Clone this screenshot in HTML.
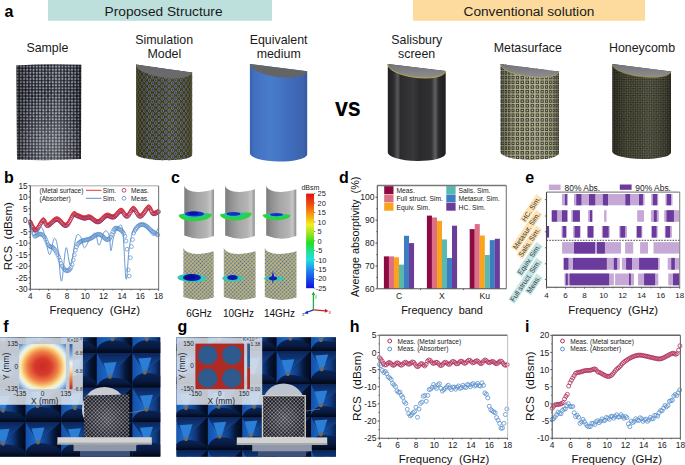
<!DOCTYPE html>
<html><head><meta charset="utf-8"><title>figure</title>
<style>html,body{margin:0;padding:0;background:#fff;width:685px;height:465px;overflow:hidden}svg{display:block}text{font-family:"Liberation Sans",sans-serif;white-space:pre}</style>
</head><body>
<svg width="685" height="465" viewBox="0 0 685 465">
<defs>
<pattern id="pSample" width="3.2" height="3.1" patternUnits="userSpaceOnUse">
  <rect width="3.2" height="3.1" fill="#16161d"/>
  <circle cx="1.6" cy="1.55" r="1.1" fill="#9a9eac"/>
</pattern>
<pattern id="pSampleDiag" width="5.2" height="5.2" patternUnits="userSpaceOnUse" patternTransform="rotate(45)">
  <rect x="0" y="0" width="5.2" height="0.6" fill="#8088a0" opacity="0.3"/>
  <rect x="0" y="0" width="0.6" height="5.2" fill="#8088a0" opacity="0.3"/>
</pattern>
<pattern id="pSim" width="3.3" height="5.8" patternUnits="userSpaceOnUse">
  <rect width="3.3" height="5.8" fill="#26261c"/>
  <circle cx="1.65" cy="1.45" r="1.25" fill="#1e3c98" stroke="#a89a34" stroke-width="0.4"/>
  <circle cx="0" cy="4.35" r="1.25" fill="#1e3c98" stroke="#a89a34" stroke-width="0.4"/>
  <circle cx="3.3" cy="4.35" r="1.25" fill="#1e3c98" stroke="#a89a34" stroke-width="0.4"/>
</pattern>
<pattern id="pMeta" width="5.0" height="4.7" patternUnits="userSpaceOnUse">
  <rect width="5.0" height="4.7" fill="#b8b690"/>
  <rect x="0.7" y="0.6" width="3.6" height="3.5" fill="#3e4038"/>
  <rect x="1.85" y="1.7" width="1.3" height="1.3" fill="#c0be98"/>
</pattern>
<pattern id="pHoney" width="2.5" height="2.5" patternUnits="userSpaceOnUse" patternTransform="rotate(45)">
  <rect width="2.5" height="2.5" fill="#24241c"/>
  <rect x="0" y="0" width="1.1" height="1.1" fill="#5e6272"/>
  <rect x="1.25" y="1.25" width="1.15" height="1.15" fill="#7c7836"/>
</pattern>
<radialGradient id="gSampHi" cx="0.5" cy="0.85" r="0.55">
  <stop offset="0" stop-color="#fff" stop-opacity="0.2"/>
  <stop offset="1" stop-color="#fff" stop-opacity="0"/>
</radialGradient>
<linearGradient id="gTopFace" x1="0" x2="0" y1="0" y2="1">
  <stop offset="0" stop-color="#747478"/>
  <stop offset="1" stop-color="#8e8e92"/>
</linearGradient>
<linearGradient id="gBlue" x1="0" x2="1" y1="0" y2="0">
  <stop offset="0" stop-color="#3a62b0"/>
  <stop offset="0.08" stop-color="#4270c0"/>
  <stop offset="0.35" stop-color="#4a7ccc"/>
  <stop offset="0.7" stop-color="#3f6cbc"/>
  <stop offset="0.92" stop-color="#3d64ae"/>
  <stop offset="1" stop-color="#34589c"/>
</linearGradient>
<linearGradient id="gSal" x1="0" x2="1" y1="0" y2="0">
  <stop offset="0" stop-color="#202022"/>
  <stop offset="0.1" stop-color="#2c2c2e"/>
  <stop offset="0.17" stop-color="#58585c"/>
  <stop offset="0.22" stop-color="#2c2c2e"/>
  <stop offset="0.45" stop-color="#38383a"/>
  <stop offset="0.55" stop-color="#2a2a2c"/>
  <stop offset="0.75" stop-color="#303032"/>
  <stop offset="0.82" stop-color="#606064"/>
  <stop offset="0.88" stop-color="#2a2a2c"/>
  <stop offset="1" stop-color="#1e1e20"/>
</linearGradient>
<linearGradient id="gShade" x1="0" x2="1" y1="0" y2="0">
  <stop offset="0" stop-color="#000" stop-opacity="0.35"/>
  <stop offset="0.25" stop-color="#000" stop-opacity="0.0"/>
  <stop offset="0.6" stop-color="#fff" stop-opacity="0.06"/>
  <stop offset="0.9" stop-color="#000" stop-opacity="0.1"/>
  <stop offset="1" stop-color="#000" stop-opacity="0.35"/>
</linearGradient>


<linearGradient id="gMetal" x1="0" x2="1" y1="0" y2="0">
  <stop offset="0" stop-color="#7c7c7c"/>
  <stop offset="0.2" stop-color="#929292"/>
  <stop offset="0.45" stop-color="#a6a6a6"/>
  <stop offset="0.75" stop-color="#b4b4b4"/>
  <stop offset="0.88" stop-color="#c6c6c6"/>
  <stop offset="1" stop-color="#8c8c8c"/>
</linearGradient>
<pattern id="pAbs" width="2.7" height="2.7" patternUnits="userSpaceOnUse" patternTransform="rotate(45)">
  <rect width="2.7" height="2.7" fill="#c6bd72"/>
  <circle cx="1.35" cy="1.35" r="0.8" fill="#3e5cb4"/>
  <circle cx="0" cy="0" r="0.35" fill="#8a8e8a"/>
</pattern>
<radialGradient id="gFieldG" cx="0.5" cy="0.5" r="0.5">
  <stop offset="0" stop-color="#1020c0"/>
  <stop offset="0.45" stop-color="#1848d8"/>
  <stop offset="0.65" stop-color="#20a8d0"/>
  <stop offset="0.8" stop-color="#28d870"/>
  <stop offset="1" stop-color="#30e040"/>
</radialGradient>
<radialGradient id="gFieldC" cx="0.5" cy="0.5" r="0.5">
  <stop offset="0" stop-color="#0a10b0"/>
  <stop offset="0.5" stop-color="#1430c8"/>
  <stop offset="0.75" stop-color="#20a8d8"/>
  <stop offset="1" stop-color="#30d8c0"/>
</radialGradient>
<linearGradient id="gJet" x1="0" x2="0" y1="0" y2="1">
  <stop offset="0" stop-color="#e01010"/>
  <stop offset="0.12" stop-color="#f05010"/>
  <stop offset="0.25" stop-color="#f8b010"/>
  <stop offset="0.33" stop-color="#f0f020"/>
  <stop offset="0.45" stop-color="#80e020"/>
  <stop offset="0.52" stop-color="#20e020"/>
  <stop offset="0.62" stop-color="#20e0a0"/>
  <stop offset="0.7" stop-color="#20e0e0"/>
  <stop offset="0.82" stop-color="#2080f0"/>
  <stop offset="1" stop-color="#1010e0"/>
</linearGradient>


<linearGradient id="pyLeft" x1="0" x2="1" y1="0" y2="0">
  <stop offset="0" stop-color="#1450a8"/>
  <stop offset="1" stop-color="#1e6ccc"/>
</linearGradient>
<linearGradient id="pyRight" x1="0" x2="1" y1="0" y2="0">
  <stop offset="0" stop-color="#1a5ab0"/>
  <stop offset="0.4" stop-color="#103c84"/>
  <stop offset="0.7" stop-color="#061738"/>
  <stop offset="1" stop-color="#020818"/>
</linearGradient>
<linearGradient id="pyBot2" x1="0" x2="0" y1="0" y2="1">
  <stop offset="0" stop-color="#0c2452"/>
  <stop offset="0.55" stop-color="#081a42"/>
  <stop offset="1" stop-color="#020814"/>
</linearGradient>
<linearGradient id="pyTop" x1="0" x2="0" y1="0" y2="1">
  <stop offset="0" stop-color="#0a2458"/>
  <stop offset="1" stop-color="#1a5ab4"/>
</linearGradient>
<linearGradient id="pyBot" x1="0" x2="0" y1="0" y2="1">
  <stop offset="0" stop-color="#0c2656"/>
  <stop offset="0.5" stop-color="#081a44"/>
  <stop offset="1" stop-color="#020814"/>
</linearGradient>
<radialGradient id="gHeatF" cx="0.5" cy="0.5" r="0.72">
  <stop offset="0" stop-color="#cc2a26"/>
  <stop offset="0.25" stop-color="#d63a2c"/>
  <stop offset="0.45" stop-color="#ee7a44"/>
  <stop offset="0.58" stop-color="#f8c070"/>
  <stop offset="0.66" stop-color="#f8ecb0"/>
  <stop offset="0.74" stop-color="#e8f2f0"/>
  <stop offset="0.84" stop-color="#a8c8e4"/>
  <stop offset="1" stop-color="#3868b0"/>
</radialGradient>
<linearGradient id="gCbF" x1="0" x2="0" y1="0" y2="1">
  <stop offset="0" stop-color="#2a5a9e"/>
  <stop offset="0.25" stop-color="#86b4dc"/>
  <stop offset="0.42" stop-color="#f4f4f0"/>
  <stop offset="0.6" stop-color="#f8d890"/>
  <stop offset="0.75" stop-color="#f08a4c"/>
  <stop offset="1" stop-color="#c41e1e"/>
</linearGradient>
<pattern id="pLattice" width="2.6" height="2.6" patternUnits="userSpaceOnUse" patternTransform="rotate(45)">
  <rect width="2.6" height="2.6" fill="#1c1c24"/>
  <rect width="2.6" height="0.6" fill="#767680"/>
  <rect width="0.6" height="2.6" fill="#767680"/>
  <circle cx="0.3" cy="0.3" r="0.55" fill="#b0b0b8"/>
</pattern>
<radialGradient id="gBlockHi" cx="0.5" cy="0.55" r="0.5">
  <stop offset="0" stop-color="#fff" stop-opacity="0.18"/>
  <stop offset="1" stop-color="#fff" stop-opacity="0"/>
</radialGradient>
</defs>
<text x="4.5" y="16.7" font-size="16" font-weight="bold" fill="#000">a</text>
<rect x="48" y="0" width="224" height="20.8" fill="#bde0dd"/>
<text x="104.6" y="15.8" font-size="13.7" fill="#1a1a1a">Proposed Structure</text>
<rect x="413" y="0" width="232" height="20.8" fill="#fddb9e"/>
<text x="463.5" y="15.8" font-size="13.7" fill="#1a1a1a">Conventional solution</text>
<text x="47.4" y="52" font-size="12.4" text-anchor="middle" fill="#1a1a1a">Sample</text>
<text x="164.2" y="44" font-size="12.4" text-anchor="middle" fill="#1a1a1a">Simulation</text>
<text x="164.3" y="58.3" font-size="12.4" text-anchor="middle" fill="#1a1a1a">Model</text>
<text x="278.6" y="44" font-size="12.4" text-anchor="middle" fill="#1a1a1a">Equivalent</text>
<text x="278.7" y="58.3" font-size="12.4" text-anchor="middle" fill="#1a1a1a">medium</text>
<text x="416.8" y="44" font-size="12.4" text-anchor="middle" fill="#1a1a1a">Salisbury</text>
<text x="416.6" y="58.3" font-size="12.4" text-anchor="middle" fill="#1a1a1a">screen</text>
<text x="527.8" y="51.9" font-size="12.4" text-anchor="middle" fill="#1a1a1a">Metasurface</text>
<text x="642" y="51.9" font-size="12.4" text-anchor="middle" fill="#1a1a1a">Honeycomb</text>
<g transform="translate(334.9,116.3) scale(0.9,1)"><text x="0" y="0" font-size="25.9" font-weight="bold" fill="#000">vs</text></g>
<path d="M16.4,65.5 Q48,63.5 81.3,64.8 L81,159 Q48,161 17,159.5 Z" fill="url(#pSample)"/>
<path d="M16.4,65.5 Q48,63.5 81.3,64.8 L81,159 Q48,161 17,159.5 Z" fill="url(#pSampleDiag)"/>
<path d="M16.4,65.5 Q48,63.5 81.3,64.8 L81,159 Q48,161 17,159.5 Z" fill="url(#gShade)"/>
<path d="M16.4,65.5 Q48,63.5 81.3,64.8 L81,159 Q48,161 17,159.5 Z" fill="url(#gSampHi)"/>
<clipPath id="cb1"><path d="M136,64.5 L192.2,72.5 L192.2,155 A28.1,5.8 1.02 0 1 136,154 Z"/></clipPath>
<g clip-path="url(#cb1)"><path d="M136,64.5 L192.2,72.5 L192.2,155 A28.1,5.8 1.02 0 1 136,154 Z" fill="#36362a"/>
<g fill="#1c3a96" stroke="#b8a83a" stroke-width="0.5"><ellipse cx="136.05" cy="62" rx="0.31" ry="1.65"/><ellipse cx="136.05" cy="68.1" rx="0.31" ry="1.65"/><ellipse cx="136.05" cy="74.2" rx="0.31" ry="1.65"/><ellipse cx="136.05" cy="80.3" rx="0.31" ry="1.65"/><ellipse cx="136.05" cy="86.4" rx="0.31" ry="1.65"/><ellipse cx="136.05" cy="92.5" rx="0.31" ry="1.65"/><ellipse cx="136.05" cy="98.6" rx="0.31" ry="1.65"/><ellipse cx="136.05" cy="104.7" rx="0.31" ry="1.65"/><ellipse cx="136.05" cy="110.8" rx="0.31" ry="1.65"/><ellipse cx="136.05" cy="116.9" rx="0.31" ry="1.65"/><ellipse cx="136.05" cy="123" rx="0.31" ry="1.65"/><ellipse cx="136.05" cy="129.1" rx="0.31" ry="1.65"/><ellipse cx="136.05" cy="135.2" rx="0.31" ry="1.65"/><ellipse cx="136.05" cy="141.3" rx="0.31" ry="1.65"/><ellipse cx="136.05" cy="147.4" rx="0.31" ry="1.65"/><ellipse cx="136.05" cy="153.5" rx="0.31" ry="1.65"/><ellipse cx="136.05" cy="159.6" rx="0.31" ry="1.65"/><ellipse cx="136.46" cy="65.05" rx="0.31" ry="1.65"/><ellipse cx="136.46" cy="71.15" rx="0.31" ry="1.65"/><ellipse cx="136.46" cy="77.25" rx="0.31" ry="1.65"/><ellipse cx="136.46" cy="83.35" rx="0.31" ry="1.65"/><ellipse cx="136.46" cy="89.45" rx="0.31" ry="1.65"/><ellipse cx="136.46" cy="95.55" rx="0.31" ry="1.65"/><ellipse cx="136.46" cy="101.65" rx="0.31" ry="1.65"/><ellipse cx="136.46" cy="107.75" rx="0.31" ry="1.65"/><ellipse cx="136.46" cy="113.85" rx="0.31" ry="1.65"/><ellipse cx="136.46" cy="119.95" rx="0.31" ry="1.65"/><ellipse cx="136.46" cy="126.05" rx="0.31" ry="1.65"/><ellipse cx="136.46" cy="132.15" rx="0.31" ry="1.65"/><ellipse cx="136.46" cy="138.25" rx="0.31" ry="1.65"/><ellipse cx="136.46" cy="144.35" rx="0.31" ry="1.65"/><ellipse cx="136.46" cy="150.45" rx="0.31" ry="1.65"/><ellipse cx="136.46" cy="156.55" rx="0.31" ry="1.65"/><ellipse cx="136.46" cy="162.65" rx="0.31" ry="1.65"/><ellipse cx="137.27" cy="62" rx="0.37" ry="1.65"/><ellipse cx="137.27" cy="68.1" rx="0.37" ry="1.65"/><ellipse cx="137.27" cy="74.2" rx="0.37" ry="1.65"/><ellipse cx="137.27" cy="80.3" rx="0.37" ry="1.65"/><ellipse cx="137.27" cy="86.4" rx="0.37" ry="1.65"/><ellipse cx="137.27" cy="92.5" rx="0.37" ry="1.65"/><ellipse cx="137.27" cy="98.6" rx="0.37" ry="1.65"/><ellipse cx="137.27" cy="104.7" rx="0.37" ry="1.65"/><ellipse cx="137.27" cy="110.8" rx="0.37" ry="1.65"/><ellipse cx="137.27" cy="116.9" rx="0.37" ry="1.65"/><ellipse cx="137.27" cy="123" rx="0.37" ry="1.65"/><ellipse cx="137.27" cy="129.1" rx="0.37" ry="1.65"/><ellipse cx="137.27" cy="135.2" rx="0.37" ry="1.65"/><ellipse cx="137.27" cy="141.3" rx="0.37" ry="1.65"/><ellipse cx="137.27" cy="147.4" rx="0.37" ry="1.65"/><ellipse cx="137.27" cy="153.5" rx="0.37" ry="1.65"/><ellipse cx="137.27" cy="159.6" rx="0.37" ry="1.65"/><ellipse cx="138.48" cy="65.05" rx="0.51" ry="1.65"/><ellipse cx="138.48" cy="71.15" rx="0.51" ry="1.65"/><ellipse cx="138.48" cy="77.25" rx="0.51" ry="1.65"/><ellipse cx="138.48" cy="83.35" rx="0.51" ry="1.65"/><ellipse cx="138.48" cy="89.45" rx="0.51" ry="1.65"/><ellipse cx="138.48" cy="95.55" rx="0.51" ry="1.65"/><ellipse cx="138.48" cy="101.65" rx="0.51" ry="1.65"/><ellipse cx="138.48" cy="107.75" rx="0.51" ry="1.65"/><ellipse cx="138.48" cy="113.85" rx="0.51" ry="1.65"/><ellipse cx="138.48" cy="119.95" rx="0.51" ry="1.65"/><ellipse cx="138.48" cy="126.05" rx="0.51" ry="1.65"/><ellipse cx="138.48" cy="132.15" rx="0.51" ry="1.65"/><ellipse cx="138.48" cy="138.25" rx="0.51" ry="1.65"/><ellipse cx="138.48" cy="144.35" rx="0.51" ry="1.65"/><ellipse cx="138.48" cy="150.45" rx="0.51" ry="1.65"/><ellipse cx="138.48" cy="156.55" rx="0.51" ry="1.65"/><ellipse cx="138.48" cy="162.65" rx="0.51" ry="1.65"/><ellipse cx="140.05" cy="62" rx="0.65" ry="1.65"/><ellipse cx="140.05" cy="68.1" rx="0.65" ry="1.65"/><ellipse cx="140.05" cy="74.2" rx="0.65" ry="1.65"/><ellipse cx="140.05" cy="80.3" rx="0.65" ry="1.65"/><ellipse cx="140.05" cy="86.4" rx="0.65" ry="1.65"/><ellipse cx="140.05" cy="92.5" rx="0.65" ry="1.65"/><ellipse cx="140.05" cy="98.6" rx="0.65" ry="1.65"/><ellipse cx="140.05" cy="104.7" rx="0.65" ry="1.65"/><ellipse cx="140.05" cy="110.8" rx="0.65" ry="1.65"/><ellipse cx="140.05" cy="116.9" rx="0.65" ry="1.65"/><ellipse cx="140.05" cy="123" rx="0.65" ry="1.65"/><ellipse cx="140.05" cy="129.1" rx="0.65" ry="1.65"/><ellipse cx="140.05" cy="135.2" rx="0.65" ry="1.65"/><ellipse cx="140.05" cy="141.3" rx="0.65" ry="1.65"/><ellipse cx="140.05" cy="147.4" rx="0.65" ry="1.65"/><ellipse cx="140.05" cy="153.5" rx="0.65" ry="1.65"/><ellipse cx="140.05" cy="159.6" rx="0.65" ry="1.65"/><ellipse cx="141.98" cy="65.05" rx="0.77" ry="1.65"/><ellipse cx="141.98" cy="71.15" rx="0.77" ry="1.65"/><ellipse cx="141.98" cy="77.25" rx="0.77" ry="1.65"/><ellipse cx="141.98" cy="83.35" rx="0.77" ry="1.65"/><ellipse cx="141.98" cy="89.45" rx="0.77" ry="1.65"/><ellipse cx="141.98" cy="95.55" rx="0.77" ry="1.65"/><ellipse cx="141.98" cy="101.65" rx="0.77" ry="1.65"/><ellipse cx="141.98" cy="107.75" rx="0.77" ry="1.65"/><ellipse cx="141.98" cy="113.85" rx="0.77" ry="1.65"/><ellipse cx="141.98" cy="119.95" rx="0.77" ry="1.65"/><ellipse cx="141.98" cy="126.05" rx="0.77" ry="1.65"/><ellipse cx="141.98" cy="132.15" rx="0.77" ry="1.65"/><ellipse cx="141.98" cy="138.25" rx="0.77" ry="1.65"/><ellipse cx="141.98" cy="144.35" rx="0.77" ry="1.65"/><ellipse cx="141.98" cy="150.45" rx="0.77" ry="1.65"/><ellipse cx="141.98" cy="156.55" rx="0.77" ry="1.65"/><ellipse cx="141.98" cy="162.65" rx="0.77" ry="1.65"/><ellipse cx="144.23" cy="62" rx="0.88" ry="1.65"/><ellipse cx="144.23" cy="68.1" rx="0.88" ry="1.65"/><ellipse cx="144.23" cy="74.2" rx="0.88" ry="1.65"/><ellipse cx="144.23" cy="80.3" rx="0.88" ry="1.65"/><ellipse cx="144.23" cy="86.4" rx="0.88" ry="1.65"/><ellipse cx="144.23" cy="92.5" rx="0.88" ry="1.65"/><ellipse cx="144.23" cy="98.6" rx="0.88" ry="1.65"/><ellipse cx="144.23" cy="104.7" rx="0.88" ry="1.65"/><ellipse cx="144.23" cy="110.8" rx="0.88" ry="1.65"/><ellipse cx="144.23" cy="116.9" rx="0.88" ry="1.65"/><ellipse cx="144.23" cy="123" rx="0.88" ry="1.65"/><ellipse cx="144.23" cy="129.1" rx="0.88" ry="1.65"/><ellipse cx="144.23" cy="135.2" rx="0.88" ry="1.65"/><ellipse cx="144.23" cy="141.3" rx="0.88" ry="1.65"/><ellipse cx="144.23" cy="147.4" rx="0.88" ry="1.65"/><ellipse cx="144.23" cy="153.5" rx="0.88" ry="1.65"/><ellipse cx="144.23" cy="159.6" rx="0.88" ry="1.65"/><ellipse cx="146.77" cy="65.05" rx="0.98" ry="1.65"/><ellipse cx="146.77" cy="71.15" rx="0.98" ry="1.65"/><ellipse cx="146.77" cy="77.25" rx="0.98" ry="1.65"/><ellipse cx="146.77" cy="83.35" rx="0.98" ry="1.65"/><ellipse cx="146.77" cy="89.45" rx="0.98" ry="1.65"/><ellipse cx="146.77" cy="95.55" rx="0.98" ry="1.65"/><ellipse cx="146.77" cy="101.65" rx="0.98" ry="1.65"/><ellipse cx="146.77" cy="107.75" rx="0.98" ry="1.65"/><ellipse cx="146.77" cy="113.85" rx="0.98" ry="1.65"/><ellipse cx="146.77" cy="119.95" rx="0.98" ry="1.65"/><ellipse cx="146.77" cy="126.05" rx="0.98" ry="1.65"/><ellipse cx="146.77" cy="132.15" rx="0.98" ry="1.65"/><ellipse cx="146.77" cy="138.25" rx="0.98" ry="1.65"/><ellipse cx="146.77" cy="144.35" rx="0.98" ry="1.65"/><ellipse cx="146.77" cy="150.45" rx="0.98" ry="1.65"/><ellipse cx="146.77" cy="156.55" rx="0.98" ry="1.65"/><ellipse cx="146.77" cy="162.65" rx="0.98" ry="1.65"/><ellipse cx="149.56" cy="62" rx="1.07" ry="1.65"/><ellipse cx="149.56" cy="68.1" rx="1.07" ry="1.65"/><ellipse cx="149.56" cy="74.2" rx="1.07" ry="1.65"/><ellipse cx="149.56" cy="80.3" rx="1.07" ry="1.65"/><ellipse cx="149.56" cy="86.4" rx="1.07" ry="1.65"/><ellipse cx="149.56" cy="92.5" rx="1.07" ry="1.65"/><ellipse cx="149.56" cy="98.6" rx="1.07" ry="1.65"/><ellipse cx="149.56" cy="104.7" rx="1.07" ry="1.65"/><ellipse cx="149.56" cy="110.8" rx="1.07" ry="1.65"/><ellipse cx="149.56" cy="116.9" rx="1.07" ry="1.65"/><ellipse cx="149.56" cy="123" rx="1.07" ry="1.65"/><ellipse cx="149.56" cy="129.1" rx="1.07" ry="1.65"/><ellipse cx="149.56" cy="135.2" rx="1.07" ry="1.65"/><ellipse cx="149.56" cy="141.3" rx="1.07" ry="1.65"/><ellipse cx="149.56" cy="147.4" rx="1.07" ry="1.65"/><ellipse cx="149.56" cy="153.5" rx="1.07" ry="1.65"/><ellipse cx="149.56" cy="159.6" rx="1.07" ry="1.65"/><ellipse cx="152.57" cy="65.05" rx="1.14" ry="1.65"/><ellipse cx="152.57" cy="71.15" rx="1.14" ry="1.65"/><ellipse cx="152.57" cy="77.25" rx="1.14" ry="1.65"/><ellipse cx="152.57" cy="83.35" rx="1.14" ry="1.65"/><ellipse cx="152.57" cy="89.45" rx="1.14" ry="1.65"/><ellipse cx="152.57" cy="95.55" rx="1.14" ry="1.65"/><ellipse cx="152.57" cy="101.65" rx="1.14" ry="1.65"/><ellipse cx="152.57" cy="107.75" rx="1.14" ry="1.65"/><ellipse cx="152.57" cy="113.85" rx="1.14" ry="1.65"/><ellipse cx="152.57" cy="119.95" rx="1.14" ry="1.65"/><ellipse cx="152.57" cy="126.05" rx="1.14" ry="1.65"/><ellipse cx="152.57" cy="132.15" rx="1.14" ry="1.65"/><ellipse cx="152.57" cy="138.25" rx="1.14" ry="1.65"/><ellipse cx="152.57" cy="144.35" rx="1.14" ry="1.65"/><ellipse cx="152.57" cy="150.45" rx="1.14" ry="1.65"/><ellipse cx="152.57" cy="156.55" rx="1.14" ry="1.65"/><ellipse cx="152.57" cy="162.65" rx="1.14" ry="1.65"/><ellipse cx="155.74" cy="62" rx="1.19" ry="1.65"/><ellipse cx="155.74" cy="68.1" rx="1.19" ry="1.65"/><ellipse cx="155.74" cy="74.2" rx="1.19" ry="1.65"/><ellipse cx="155.74" cy="80.3" rx="1.19" ry="1.65"/><ellipse cx="155.74" cy="86.4" rx="1.19" ry="1.65"/><ellipse cx="155.74" cy="92.5" rx="1.19" ry="1.65"/><ellipse cx="155.74" cy="98.6" rx="1.19" ry="1.65"/><ellipse cx="155.74" cy="104.7" rx="1.19" ry="1.65"/><ellipse cx="155.74" cy="110.8" rx="1.19" ry="1.65"/><ellipse cx="155.74" cy="116.9" rx="1.19" ry="1.65"/><ellipse cx="155.74" cy="123" rx="1.19" ry="1.65"/><ellipse cx="155.74" cy="129.1" rx="1.19" ry="1.65"/><ellipse cx="155.74" cy="135.2" rx="1.19" ry="1.65"/><ellipse cx="155.74" cy="141.3" rx="1.19" ry="1.65"/><ellipse cx="155.74" cy="147.4" rx="1.19" ry="1.65"/><ellipse cx="155.74" cy="153.5" rx="1.19" ry="1.65"/><ellipse cx="155.74" cy="159.6" rx="1.19" ry="1.65"/><ellipse cx="159.03" cy="65.05" rx="1.23" ry="1.65"/><ellipse cx="159.03" cy="71.15" rx="1.23" ry="1.65"/><ellipse cx="159.03" cy="77.25" rx="1.23" ry="1.65"/><ellipse cx="159.03" cy="83.35" rx="1.23" ry="1.65"/><ellipse cx="159.03" cy="89.45" rx="1.23" ry="1.65"/><ellipse cx="159.03" cy="95.55" rx="1.23" ry="1.65"/><ellipse cx="159.03" cy="101.65" rx="1.23" ry="1.65"/><ellipse cx="159.03" cy="107.75" rx="1.23" ry="1.65"/><ellipse cx="159.03" cy="113.85" rx="1.23" ry="1.65"/><ellipse cx="159.03" cy="119.95" rx="1.23" ry="1.65"/><ellipse cx="159.03" cy="126.05" rx="1.23" ry="1.65"/><ellipse cx="159.03" cy="132.15" rx="1.23" ry="1.65"/><ellipse cx="159.03" cy="138.25" rx="1.23" ry="1.65"/><ellipse cx="159.03" cy="144.35" rx="1.23" ry="1.65"/><ellipse cx="159.03" cy="150.45" rx="1.23" ry="1.65"/><ellipse cx="159.03" cy="156.55" rx="1.23" ry="1.65"/><ellipse cx="159.03" cy="162.65" rx="1.23" ry="1.65"/><ellipse cx="162.4" cy="62" rx="1.25" ry="1.65"/><ellipse cx="162.4" cy="68.1" rx="1.25" ry="1.65"/><ellipse cx="162.4" cy="74.2" rx="1.25" ry="1.65"/><ellipse cx="162.4" cy="80.3" rx="1.25" ry="1.65"/><ellipse cx="162.4" cy="86.4" rx="1.25" ry="1.65"/><ellipse cx="162.4" cy="92.5" rx="1.25" ry="1.65"/><ellipse cx="162.4" cy="98.6" rx="1.25" ry="1.65"/><ellipse cx="162.4" cy="104.7" rx="1.25" ry="1.65"/><ellipse cx="162.4" cy="110.8" rx="1.25" ry="1.65"/><ellipse cx="162.4" cy="116.9" rx="1.25" ry="1.65"/><ellipse cx="162.4" cy="123" rx="1.25" ry="1.65"/><ellipse cx="162.4" cy="129.1" rx="1.25" ry="1.65"/><ellipse cx="162.4" cy="135.2" rx="1.25" ry="1.65"/><ellipse cx="162.4" cy="141.3" rx="1.25" ry="1.65"/><ellipse cx="162.4" cy="147.4" rx="1.25" ry="1.65"/><ellipse cx="162.4" cy="153.5" rx="1.25" ry="1.65"/><ellipse cx="162.4" cy="159.6" rx="1.25" ry="1.65"/><ellipse cx="165.8" cy="65.05" rx="1.25" ry="1.65"/><ellipse cx="165.8" cy="71.15" rx="1.25" ry="1.65"/><ellipse cx="165.8" cy="77.25" rx="1.25" ry="1.65"/><ellipse cx="165.8" cy="83.35" rx="1.25" ry="1.65"/><ellipse cx="165.8" cy="89.45" rx="1.25" ry="1.65"/><ellipse cx="165.8" cy="95.55" rx="1.25" ry="1.65"/><ellipse cx="165.8" cy="101.65" rx="1.25" ry="1.65"/><ellipse cx="165.8" cy="107.75" rx="1.25" ry="1.65"/><ellipse cx="165.8" cy="113.85" rx="1.25" ry="1.65"/><ellipse cx="165.8" cy="119.95" rx="1.25" ry="1.65"/><ellipse cx="165.8" cy="126.05" rx="1.25" ry="1.65"/><ellipse cx="165.8" cy="132.15" rx="1.25" ry="1.65"/><ellipse cx="165.8" cy="138.25" rx="1.25" ry="1.65"/><ellipse cx="165.8" cy="144.35" rx="1.25" ry="1.65"/><ellipse cx="165.8" cy="150.45" rx="1.25" ry="1.65"/><ellipse cx="165.8" cy="156.55" rx="1.25" ry="1.65"/><ellipse cx="165.8" cy="162.65" rx="1.25" ry="1.65"/><ellipse cx="169.17" cy="62" rx="1.23" ry="1.65"/><ellipse cx="169.17" cy="68.1" rx="1.23" ry="1.65"/><ellipse cx="169.17" cy="74.2" rx="1.23" ry="1.65"/><ellipse cx="169.17" cy="80.3" rx="1.23" ry="1.65"/><ellipse cx="169.17" cy="86.4" rx="1.23" ry="1.65"/><ellipse cx="169.17" cy="92.5" rx="1.23" ry="1.65"/><ellipse cx="169.17" cy="98.6" rx="1.23" ry="1.65"/><ellipse cx="169.17" cy="104.7" rx="1.23" ry="1.65"/><ellipse cx="169.17" cy="110.8" rx="1.23" ry="1.65"/><ellipse cx="169.17" cy="116.9" rx="1.23" ry="1.65"/><ellipse cx="169.17" cy="123" rx="1.23" ry="1.65"/><ellipse cx="169.17" cy="129.1" rx="1.23" ry="1.65"/><ellipse cx="169.17" cy="135.2" rx="1.23" ry="1.65"/><ellipse cx="169.17" cy="141.3" rx="1.23" ry="1.65"/><ellipse cx="169.17" cy="147.4" rx="1.23" ry="1.65"/><ellipse cx="169.17" cy="153.5" rx="1.23" ry="1.65"/><ellipse cx="169.17" cy="159.6" rx="1.23" ry="1.65"/><ellipse cx="172.46" cy="65.05" rx="1.19" ry="1.65"/><ellipse cx="172.46" cy="71.15" rx="1.19" ry="1.65"/><ellipse cx="172.46" cy="77.25" rx="1.19" ry="1.65"/><ellipse cx="172.46" cy="83.35" rx="1.19" ry="1.65"/><ellipse cx="172.46" cy="89.45" rx="1.19" ry="1.65"/><ellipse cx="172.46" cy="95.55" rx="1.19" ry="1.65"/><ellipse cx="172.46" cy="101.65" rx="1.19" ry="1.65"/><ellipse cx="172.46" cy="107.75" rx="1.19" ry="1.65"/><ellipse cx="172.46" cy="113.85" rx="1.19" ry="1.65"/><ellipse cx="172.46" cy="119.95" rx="1.19" ry="1.65"/><ellipse cx="172.46" cy="126.05" rx="1.19" ry="1.65"/><ellipse cx="172.46" cy="132.15" rx="1.19" ry="1.65"/><ellipse cx="172.46" cy="138.25" rx="1.19" ry="1.65"/><ellipse cx="172.46" cy="144.35" rx="1.19" ry="1.65"/><ellipse cx="172.46" cy="150.45" rx="1.19" ry="1.65"/><ellipse cx="172.46" cy="156.55" rx="1.19" ry="1.65"/><ellipse cx="172.46" cy="162.65" rx="1.19" ry="1.65"/><ellipse cx="175.63" cy="62" rx="1.14" ry="1.65"/><ellipse cx="175.63" cy="68.1" rx="1.14" ry="1.65"/><ellipse cx="175.63" cy="74.2" rx="1.14" ry="1.65"/><ellipse cx="175.63" cy="80.3" rx="1.14" ry="1.65"/><ellipse cx="175.63" cy="86.4" rx="1.14" ry="1.65"/><ellipse cx="175.63" cy="92.5" rx="1.14" ry="1.65"/><ellipse cx="175.63" cy="98.6" rx="1.14" ry="1.65"/><ellipse cx="175.63" cy="104.7" rx="1.14" ry="1.65"/><ellipse cx="175.63" cy="110.8" rx="1.14" ry="1.65"/><ellipse cx="175.63" cy="116.9" rx="1.14" ry="1.65"/><ellipse cx="175.63" cy="123" rx="1.14" ry="1.65"/><ellipse cx="175.63" cy="129.1" rx="1.14" ry="1.65"/><ellipse cx="175.63" cy="135.2" rx="1.14" ry="1.65"/><ellipse cx="175.63" cy="141.3" rx="1.14" ry="1.65"/><ellipse cx="175.63" cy="147.4" rx="1.14" ry="1.65"/><ellipse cx="175.63" cy="153.5" rx="1.14" ry="1.65"/><ellipse cx="175.63" cy="159.6" rx="1.14" ry="1.65"/><ellipse cx="178.64" cy="65.05" rx="1.07" ry="1.65"/><ellipse cx="178.64" cy="71.15" rx="1.07" ry="1.65"/><ellipse cx="178.64" cy="77.25" rx="1.07" ry="1.65"/><ellipse cx="178.64" cy="83.35" rx="1.07" ry="1.65"/><ellipse cx="178.64" cy="89.45" rx="1.07" ry="1.65"/><ellipse cx="178.64" cy="95.55" rx="1.07" ry="1.65"/><ellipse cx="178.64" cy="101.65" rx="1.07" ry="1.65"/><ellipse cx="178.64" cy="107.75" rx="1.07" ry="1.65"/><ellipse cx="178.64" cy="113.85" rx="1.07" ry="1.65"/><ellipse cx="178.64" cy="119.95" rx="1.07" ry="1.65"/><ellipse cx="178.64" cy="126.05" rx="1.07" ry="1.65"/><ellipse cx="178.64" cy="132.15" rx="1.07" ry="1.65"/><ellipse cx="178.64" cy="138.25" rx="1.07" ry="1.65"/><ellipse cx="178.64" cy="144.35" rx="1.07" ry="1.65"/><ellipse cx="178.64" cy="150.45" rx="1.07" ry="1.65"/><ellipse cx="178.64" cy="156.55" rx="1.07" ry="1.65"/><ellipse cx="178.64" cy="162.65" rx="1.07" ry="1.65"/><ellipse cx="181.43" cy="62" rx="0.98" ry="1.65"/><ellipse cx="181.43" cy="68.1" rx="0.98" ry="1.65"/><ellipse cx="181.43" cy="74.2" rx="0.98" ry="1.65"/><ellipse cx="181.43" cy="80.3" rx="0.98" ry="1.65"/><ellipse cx="181.43" cy="86.4" rx="0.98" ry="1.65"/><ellipse cx="181.43" cy="92.5" rx="0.98" ry="1.65"/><ellipse cx="181.43" cy="98.6" rx="0.98" ry="1.65"/><ellipse cx="181.43" cy="104.7" rx="0.98" ry="1.65"/><ellipse cx="181.43" cy="110.8" rx="0.98" ry="1.65"/><ellipse cx="181.43" cy="116.9" rx="0.98" ry="1.65"/><ellipse cx="181.43" cy="123" rx="0.98" ry="1.65"/><ellipse cx="181.43" cy="129.1" rx="0.98" ry="1.65"/><ellipse cx="181.43" cy="135.2" rx="0.98" ry="1.65"/><ellipse cx="181.43" cy="141.3" rx="0.98" ry="1.65"/><ellipse cx="181.43" cy="147.4" rx="0.98" ry="1.65"/><ellipse cx="181.43" cy="153.5" rx="0.98" ry="1.65"/><ellipse cx="181.43" cy="159.6" rx="0.98" ry="1.65"/><ellipse cx="183.97" cy="65.05" rx="0.88" ry="1.65"/><ellipse cx="183.97" cy="71.15" rx="0.88" ry="1.65"/><ellipse cx="183.97" cy="77.25" rx="0.88" ry="1.65"/><ellipse cx="183.97" cy="83.35" rx="0.88" ry="1.65"/><ellipse cx="183.97" cy="89.45" rx="0.88" ry="1.65"/><ellipse cx="183.97" cy="95.55" rx="0.88" ry="1.65"/><ellipse cx="183.97" cy="101.65" rx="0.88" ry="1.65"/><ellipse cx="183.97" cy="107.75" rx="0.88" ry="1.65"/><ellipse cx="183.97" cy="113.85" rx="0.88" ry="1.65"/><ellipse cx="183.97" cy="119.95" rx="0.88" ry="1.65"/><ellipse cx="183.97" cy="126.05" rx="0.88" ry="1.65"/><ellipse cx="183.97" cy="132.15" rx="0.88" ry="1.65"/><ellipse cx="183.97" cy="138.25" rx="0.88" ry="1.65"/><ellipse cx="183.97" cy="144.35" rx="0.88" ry="1.65"/><ellipse cx="183.97" cy="150.45" rx="0.88" ry="1.65"/><ellipse cx="183.97" cy="156.55" rx="0.88" ry="1.65"/><ellipse cx="183.97" cy="162.65" rx="0.88" ry="1.65"/><ellipse cx="186.22" cy="62" rx="0.77" ry="1.65"/><ellipse cx="186.22" cy="68.1" rx="0.77" ry="1.65"/><ellipse cx="186.22" cy="74.2" rx="0.77" ry="1.65"/><ellipse cx="186.22" cy="80.3" rx="0.77" ry="1.65"/><ellipse cx="186.22" cy="86.4" rx="0.77" ry="1.65"/><ellipse cx="186.22" cy="92.5" rx="0.77" ry="1.65"/><ellipse cx="186.22" cy="98.6" rx="0.77" ry="1.65"/><ellipse cx="186.22" cy="104.7" rx="0.77" ry="1.65"/><ellipse cx="186.22" cy="110.8" rx="0.77" ry="1.65"/><ellipse cx="186.22" cy="116.9" rx="0.77" ry="1.65"/><ellipse cx="186.22" cy="123" rx="0.77" ry="1.65"/><ellipse cx="186.22" cy="129.1" rx="0.77" ry="1.65"/><ellipse cx="186.22" cy="135.2" rx="0.77" ry="1.65"/><ellipse cx="186.22" cy="141.3" rx="0.77" ry="1.65"/><ellipse cx="186.22" cy="147.4" rx="0.77" ry="1.65"/><ellipse cx="186.22" cy="153.5" rx="0.77" ry="1.65"/><ellipse cx="186.22" cy="159.6" rx="0.77" ry="1.65"/><ellipse cx="188.15" cy="65.05" rx="0.65" ry="1.65"/><ellipse cx="188.15" cy="71.15" rx="0.65" ry="1.65"/><ellipse cx="188.15" cy="77.25" rx="0.65" ry="1.65"/><ellipse cx="188.15" cy="83.35" rx="0.65" ry="1.65"/><ellipse cx="188.15" cy="89.45" rx="0.65" ry="1.65"/><ellipse cx="188.15" cy="95.55" rx="0.65" ry="1.65"/><ellipse cx="188.15" cy="101.65" rx="0.65" ry="1.65"/><ellipse cx="188.15" cy="107.75" rx="0.65" ry="1.65"/><ellipse cx="188.15" cy="113.85" rx="0.65" ry="1.65"/><ellipse cx="188.15" cy="119.95" rx="0.65" ry="1.65"/><ellipse cx="188.15" cy="126.05" rx="0.65" ry="1.65"/><ellipse cx="188.15" cy="132.15" rx="0.65" ry="1.65"/><ellipse cx="188.15" cy="138.25" rx="0.65" ry="1.65"/><ellipse cx="188.15" cy="144.35" rx="0.65" ry="1.65"/><ellipse cx="188.15" cy="150.45" rx="0.65" ry="1.65"/><ellipse cx="188.15" cy="156.55" rx="0.65" ry="1.65"/><ellipse cx="188.15" cy="162.65" rx="0.65" ry="1.65"/><ellipse cx="189.72" cy="62" rx="0.51" ry="1.65"/><ellipse cx="189.72" cy="68.1" rx="0.51" ry="1.65"/><ellipse cx="189.72" cy="74.2" rx="0.51" ry="1.65"/><ellipse cx="189.72" cy="80.3" rx="0.51" ry="1.65"/><ellipse cx="189.72" cy="86.4" rx="0.51" ry="1.65"/><ellipse cx="189.72" cy="92.5" rx="0.51" ry="1.65"/><ellipse cx="189.72" cy="98.6" rx="0.51" ry="1.65"/><ellipse cx="189.72" cy="104.7" rx="0.51" ry="1.65"/><ellipse cx="189.72" cy="110.8" rx="0.51" ry="1.65"/><ellipse cx="189.72" cy="116.9" rx="0.51" ry="1.65"/><ellipse cx="189.72" cy="123" rx="0.51" ry="1.65"/><ellipse cx="189.72" cy="129.1" rx="0.51" ry="1.65"/><ellipse cx="189.72" cy="135.2" rx="0.51" ry="1.65"/><ellipse cx="189.72" cy="141.3" rx="0.51" ry="1.65"/><ellipse cx="189.72" cy="147.4" rx="0.51" ry="1.65"/><ellipse cx="189.72" cy="153.5" rx="0.51" ry="1.65"/><ellipse cx="189.72" cy="159.6" rx="0.51" ry="1.65"/><ellipse cx="190.93" cy="65.05" rx="0.37" ry="1.65"/><ellipse cx="190.93" cy="71.15" rx="0.37" ry="1.65"/><ellipse cx="190.93" cy="77.25" rx="0.37" ry="1.65"/><ellipse cx="190.93" cy="83.35" rx="0.37" ry="1.65"/><ellipse cx="190.93" cy="89.45" rx="0.37" ry="1.65"/><ellipse cx="190.93" cy="95.55" rx="0.37" ry="1.65"/><ellipse cx="190.93" cy="101.65" rx="0.37" ry="1.65"/><ellipse cx="190.93" cy="107.75" rx="0.37" ry="1.65"/><ellipse cx="190.93" cy="113.85" rx="0.37" ry="1.65"/><ellipse cx="190.93" cy="119.95" rx="0.37" ry="1.65"/><ellipse cx="190.93" cy="126.05" rx="0.37" ry="1.65"/><ellipse cx="190.93" cy="132.15" rx="0.37" ry="1.65"/><ellipse cx="190.93" cy="138.25" rx="0.37" ry="1.65"/><ellipse cx="190.93" cy="144.35" rx="0.37" ry="1.65"/><ellipse cx="190.93" cy="150.45" rx="0.37" ry="1.65"/><ellipse cx="190.93" cy="156.55" rx="0.37" ry="1.65"/><ellipse cx="190.93" cy="162.65" rx="0.37" ry="1.65"/><ellipse cx="191.74" cy="62" rx="0.31" ry="1.65"/><ellipse cx="191.74" cy="68.1" rx="0.31" ry="1.65"/><ellipse cx="191.74" cy="74.2" rx="0.31" ry="1.65"/><ellipse cx="191.74" cy="80.3" rx="0.31" ry="1.65"/><ellipse cx="191.74" cy="86.4" rx="0.31" ry="1.65"/><ellipse cx="191.74" cy="92.5" rx="0.31" ry="1.65"/><ellipse cx="191.74" cy="98.6" rx="0.31" ry="1.65"/><ellipse cx="191.74" cy="104.7" rx="0.31" ry="1.65"/><ellipse cx="191.74" cy="110.8" rx="0.31" ry="1.65"/><ellipse cx="191.74" cy="116.9" rx="0.31" ry="1.65"/><ellipse cx="191.74" cy="123" rx="0.31" ry="1.65"/><ellipse cx="191.74" cy="129.1" rx="0.31" ry="1.65"/><ellipse cx="191.74" cy="135.2" rx="0.31" ry="1.65"/><ellipse cx="191.74" cy="141.3" rx="0.31" ry="1.65"/><ellipse cx="191.74" cy="147.4" rx="0.31" ry="1.65"/><ellipse cx="191.74" cy="153.5" rx="0.31" ry="1.65"/><ellipse cx="191.74" cy="159.6" rx="0.31" ry="1.65"/><ellipse cx="192.15" cy="65.05" rx="0.31" ry="1.65"/><ellipse cx="192.15" cy="71.15" rx="0.31" ry="1.65"/><ellipse cx="192.15" cy="77.25" rx="0.31" ry="1.65"/><ellipse cx="192.15" cy="83.35" rx="0.31" ry="1.65"/><ellipse cx="192.15" cy="89.45" rx="0.31" ry="1.65"/><ellipse cx="192.15" cy="95.55" rx="0.31" ry="1.65"/><ellipse cx="192.15" cy="101.65" rx="0.31" ry="1.65"/><ellipse cx="192.15" cy="107.75" rx="0.31" ry="1.65"/><ellipse cx="192.15" cy="113.85" rx="0.31" ry="1.65"/><ellipse cx="192.15" cy="119.95" rx="0.31" ry="1.65"/><ellipse cx="192.15" cy="126.05" rx="0.31" ry="1.65"/><ellipse cx="192.15" cy="132.15" rx="0.31" ry="1.65"/><ellipse cx="192.15" cy="138.25" rx="0.31" ry="1.65"/><ellipse cx="192.15" cy="144.35" rx="0.31" ry="1.65"/><ellipse cx="192.15" cy="150.45" rx="0.31" ry="1.65"/><ellipse cx="192.15" cy="156.55" rx="0.31" ry="1.65"/><ellipse cx="192.15" cy="162.65" rx="0.31" ry="1.65"/></g>
</g>
<path d="M136,64.5 L192.2,72.5 L192.2,155 A28.1,5.8 1.02 0 1 136,154 Z" fill="url(#gShade)"/>
<path d="M136,64.5 L192.2,72.5 A28.38,9 8.1 0 1 136,64.5 Z" fill="#6a6a6c"/>
<path d="M249.9,64 L307.2,71.3 L307.2,154.2 A28.65,7.85 0.9 0 1 249.9,153.3 Z" fill="url(#gBlue)"/>
<path d="M249.9,64 L307.2,71.3 A28.88,9.3 7.26 0 1 249.9,64 Z" fill="#646464"/>
<path d="M387.8,64 L445.7,71 L445.7,153.5 A28.95,8 0.99 0 1 387.8,152.5 Z" fill="url(#gSal)"/>
<path d="M387.8,64 L445.7,71 A29.16,10 6.89 0 1 387.8,64 Z" fill="url(#gTopFace)"/>
<path d="M445.7,71 A29.16,10 6.89 0 1 387.8,64" fill="none" stroke="#c4b436" stroke-width="0.9"/>
<clipPath id="cb2"><path d="M500.6,64 L559,71.5 L559,153 A29.2,7.5 0.98 0 1 500.6,152 Z"/></clipPath>
<g clip-path="url(#cb2)"><path d="M500.6,64 L559,71.5 L559,153 A29.2,7.5 0.98 0 1 500.6,152 Z" fill="#b2b08a"/>
<g fill="#3e4038"><rect x="500.17" y="61.75" width="1.08" height="3.5"/><rect x="500.17" y="66.45" width="1.08" height="3.5"/><rect x="500.17" y="71.15" width="1.08" height="3.5"/><rect x="500.17" y="75.85" width="1.08" height="3.5"/><rect x="500.17" y="80.55" width="1.08" height="3.5"/><rect x="500.17" y="85.25" width="1.08" height="3.5"/><rect x="500.17" y="89.95" width="1.08" height="3.5"/><rect x="500.17" y="94.65" width="1.08" height="3.5"/><rect x="500.17" y="99.35" width="1.08" height="3.5"/><rect x="500.17" y="104.05" width="1.08" height="3.5"/><rect x="500.17" y="108.75" width="1.08" height="3.5"/><rect x="500.17" y="113.45" width="1.08" height="3.5"/><rect x="500.17" y="118.15" width="1.08" height="3.5"/><rect x="500.17" y="122.85" width="1.08" height="3.5"/><rect x="500.17" y="127.55" width="1.08" height="3.5"/><rect x="500.17" y="132.25" width="1.08" height="3.5"/><rect x="500.17" y="136.95" width="1.08" height="3.5"/><rect x="500.17" y="141.65" width="1.08" height="3.5"/><rect x="500.17" y="146.35" width="1.08" height="3.5"/><rect x="500.17" y="151.05" width="1.08" height="3.5"/><rect x="500.17" y="155.75" width="1.08" height="3.5"/><rect x="500.17" y="160.45" width="1.08" height="3.5"/><rect x="501.05" y="61.75" width="1.08" height="3.5"/><rect x="501.05" y="66.45" width="1.08" height="3.5"/><rect x="501.05" y="71.15" width="1.08" height="3.5"/><rect x="501.05" y="75.85" width="1.08" height="3.5"/><rect x="501.05" y="80.55" width="1.08" height="3.5"/><rect x="501.05" y="85.25" width="1.08" height="3.5"/><rect x="501.05" y="89.95" width="1.08" height="3.5"/><rect x="501.05" y="94.65" width="1.08" height="3.5"/><rect x="501.05" y="99.35" width="1.08" height="3.5"/><rect x="501.05" y="104.05" width="1.08" height="3.5"/><rect x="501.05" y="108.75" width="1.08" height="3.5"/><rect x="501.05" y="113.45" width="1.08" height="3.5"/><rect x="501.05" y="118.15" width="1.08" height="3.5"/><rect x="501.05" y="122.85" width="1.08" height="3.5"/><rect x="501.05" y="127.55" width="1.08" height="3.5"/><rect x="501.05" y="132.25" width="1.08" height="3.5"/><rect x="501.05" y="136.95" width="1.08" height="3.5"/><rect x="501.05" y="141.65" width="1.08" height="3.5"/><rect x="501.05" y="146.35" width="1.08" height="3.5"/><rect x="501.05" y="151.05" width="1.08" height="3.5"/><rect x="501.05" y="155.75" width="1.08" height="3.5"/><rect x="501.05" y="160.45" width="1.08" height="3.5"/><rect x="502.58" y="61.75" width="1.52" height="3.5"/><rect x="502.58" y="66.45" width="1.52" height="3.5"/><rect x="502.58" y="71.15" width="1.52" height="3.5"/><rect x="502.58" y="75.85" width="1.52" height="3.5"/><rect x="502.58" y="80.55" width="1.52" height="3.5"/><rect x="502.58" y="85.25" width="1.52" height="3.5"/><rect x="502.58" y="89.95" width="1.52" height="3.5"/><rect x="502.58" y="94.65" width="1.52" height="3.5"/><rect x="502.58" y="99.35" width="1.52" height="3.5"/><rect x="502.58" y="104.05" width="1.52" height="3.5"/><rect x="502.58" y="108.75" width="1.52" height="3.5"/><rect x="502.58" y="113.45" width="1.52" height="3.5"/><rect x="502.58" y="118.15" width="1.52" height="3.5"/><rect x="502.58" y="122.85" width="1.52" height="3.5"/><rect x="502.58" y="127.55" width="1.52" height="3.5"/><rect x="502.58" y="132.25" width="1.52" height="3.5"/><rect x="502.58" y="136.95" width="1.52" height="3.5"/><rect x="502.58" y="141.65" width="1.52" height="3.5"/><rect x="502.58" y="146.35" width="1.52" height="3.5"/><rect x="502.58" y="151.05" width="1.52" height="3.5"/><rect x="502.58" y="155.75" width="1.52" height="3.5"/><rect x="502.58" y="160.45" width="1.52" height="3.5"/><rect x="504.85" y="61.75" width="2.06" height="3.5"/><rect x="504.85" y="66.45" width="2.06" height="3.5"/><rect x="504.85" y="71.15" width="2.06" height="3.5"/><rect x="504.85" y="75.85" width="2.06" height="3.5"/><rect x="504.85" y="80.55" width="2.06" height="3.5"/><rect x="504.85" y="85.25" width="2.06" height="3.5"/><rect x="504.85" y="89.95" width="2.06" height="3.5"/><rect x="504.85" y="94.65" width="2.06" height="3.5"/><rect x="504.85" y="99.35" width="2.06" height="3.5"/><rect x="504.85" y="104.05" width="2.06" height="3.5"/><rect x="504.85" y="108.75" width="2.06" height="3.5"/><rect x="504.85" y="113.45" width="2.06" height="3.5"/><rect x="504.85" y="118.15" width="2.06" height="3.5"/><rect x="504.85" y="122.85" width="2.06" height="3.5"/><rect x="504.85" y="127.55" width="2.06" height="3.5"/><rect x="504.85" y="132.25" width="2.06" height="3.5"/><rect x="504.85" y="136.95" width="2.06" height="3.5"/><rect x="504.85" y="141.65" width="2.06" height="3.5"/><rect x="504.85" y="146.35" width="2.06" height="3.5"/><rect x="504.85" y="151.05" width="2.06" height="3.5"/><rect x="504.85" y="155.75" width="2.06" height="3.5"/><rect x="504.85" y="160.45" width="2.06" height="3.5"/><rect x="507.88" y="61.75" width="2.55" height="3.5"/><rect x="507.88" y="66.45" width="2.55" height="3.5"/><rect x="507.88" y="71.15" width="2.55" height="3.5"/><rect x="507.88" y="75.85" width="2.55" height="3.5"/><rect x="507.88" y="80.55" width="2.55" height="3.5"/><rect x="507.88" y="85.25" width="2.55" height="3.5"/><rect x="507.88" y="89.95" width="2.55" height="3.5"/><rect x="507.88" y="94.65" width="2.55" height="3.5"/><rect x="507.88" y="99.35" width="2.55" height="3.5"/><rect x="507.88" y="104.05" width="2.55" height="3.5"/><rect x="507.88" y="108.75" width="2.55" height="3.5"/><rect x="507.88" y="113.45" width="2.55" height="3.5"/><rect x="507.88" y="118.15" width="2.55" height="3.5"/><rect x="507.88" y="122.85" width="2.55" height="3.5"/><rect x="507.88" y="127.55" width="2.55" height="3.5"/><rect x="507.88" y="132.25" width="2.55" height="3.5"/><rect x="507.88" y="136.95" width="2.55" height="3.5"/><rect x="507.88" y="141.65" width="2.55" height="3.5"/><rect x="507.88" y="146.35" width="2.55" height="3.5"/><rect x="507.88" y="151.05" width="2.55" height="3.5"/><rect x="507.88" y="155.75" width="2.55" height="3.5"/><rect x="507.88" y="160.45" width="2.55" height="3.5"/><rect x="511.58" y="61.75" width="2.95" height="3.5"/><rect x="511.58" y="66.45" width="2.95" height="3.5"/><rect x="511.58" y="71.15" width="2.95" height="3.5"/><rect x="511.58" y="75.85" width="2.95" height="3.5"/><rect x="511.58" y="80.55" width="2.95" height="3.5"/><rect x="511.58" y="85.25" width="2.95" height="3.5"/><rect x="511.58" y="89.95" width="2.95" height="3.5"/><rect x="511.58" y="94.65" width="2.95" height="3.5"/><rect x="511.58" y="99.35" width="2.95" height="3.5"/><rect x="511.58" y="104.05" width="2.95" height="3.5"/><rect x="511.58" y="108.75" width="2.95" height="3.5"/><rect x="511.58" y="113.45" width="2.95" height="3.5"/><rect x="511.58" y="118.15" width="2.95" height="3.5"/><rect x="511.58" y="122.85" width="2.95" height="3.5"/><rect x="511.58" y="127.55" width="2.95" height="3.5"/><rect x="511.58" y="132.25" width="2.95" height="3.5"/><rect x="511.58" y="136.95" width="2.95" height="3.5"/><rect x="511.58" y="141.65" width="2.95" height="3.5"/><rect x="511.58" y="146.35" width="2.95" height="3.5"/><rect x="511.58" y="151.05" width="2.95" height="3.5"/><rect x="511.58" y="155.75" width="2.95" height="3.5"/><rect x="511.58" y="160.45" width="2.95" height="3.5"/><rect x="515.83" y="61.75" width="3.26" height="3.5"/><rect x="515.83" y="66.45" width="3.26" height="3.5"/><rect x="515.83" y="71.15" width="3.26" height="3.5"/><rect x="515.83" y="75.85" width="3.26" height="3.5"/><rect x="515.83" y="80.55" width="3.26" height="3.5"/><rect x="515.83" y="85.25" width="3.26" height="3.5"/><rect x="515.83" y="89.95" width="3.26" height="3.5"/><rect x="515.83" y="94.65" width="3.26" height="3.5"/><rect x="515.83" y="99.35" width="3.26" height="3.5"/><rect x="515.83" y="104.05" width="3.26" height="3.5"/><rect x="515.83" y="108.75" width="3.26" height="3.5"/><rect x="515.83" y="113.45" width="3.26" height="3.5"/><rect x="515.83" y="118.15" width="3.26" height="3.5"/><rect x="515.83" y="122.85" width="3.26" height="3.5"/><rect x="515.83" y="127.55" width="3.26" height="3.5"/><rect x="515.83" y="132.25" width="3.26" height="3.5"/><rect x="515.83" y="136.95" width="3.26" height="3.5"/><rect x="515.83" y="141.65" width="3.26" height="3.5"/><rect x="515.83" y="146.35" width="3.26" height="3.5"/><rect x="515.83" y="151.05" width="3.26" height="3.5"/><rect x="515.83" y="155.75" width="3.26" height="3.5"/><rect x="515.83" y="160.45" width="3.26" height="3.5"/><rect x="520.5" y="61.75" width="3.48" height="3.5"/><rect x="520.5" y="66.45" width="3.48" height="3.5"/><rect x="520.5" y="71.15" width="3.48" height="3.5"/><rect x="520.5" y="75.85" width="3.48" height="3.5"/><rect x="520.5" y="80.55" width="3.48" height="3.5"/><rect x="520.5" y="85.25" width="3.48" height="3.5"/><rect x="520.5" y="89.95" width="3.48" height="3.5"/><rect x="520.5" y="94.65" width="3.48" height="3.5"/><rect x="520.5" y="99.35" width="3.48" height="3.5"/><rect x="520.5" y="104.05" width="3.48" height="3.5"/><rect x="520.5" y="108.75" width="3.48" height="3.5"/><rect x="520.5" y="113.45" width="3.48" height="3.5"/><rect x="520.5" y="118.15" width="3.48" height="3.5"/><rect x="520.5" y="122.85" width="3.48" height="3.5"/><rect x="520.5" y="127.55" width="3.48" height="3.5"/><rect x="520.5" y="132.25" width="3.48" height="3.5"/><rect x="520.5" y="136.95" width="3.48" height="3.5"/><rect x="520.5" y="141.65" width="3.48" height="3.5"/><rect x="520.5" y="146.35" width="3.48" height="3.5"/><rect x="520.5" y="151.05" width="3.48" height="3.5"/><rect x="520.5" y="155.75" width="3.48" height="3.5"/><rect x="520.5" y="160.45" width="3.48" height="3.5"/><rect x="525.46" y="61.75" width="3.59" height="3.5"/><rect x="525.46" y="66.45" width="3.59" height="3.5"/><rect x="525.46" y="71.15" width="3.59" height="3.5"/><rect x="525.46" y="75.85" width="3.59" height="3.5"/><rect x="525.46" y="80.55" width="3.59" height="3.5"/><rect x="525.46" y="85.25" width="3.59" height="3.5"/><rect x="525.46" y="89.95" width="3.59" height="3.5"/><rect x="525.46" y="94.65" width="3.59" height="3.5"/><rect x="525.46" y="99.35" width="3.59" height="3.5"/><rect x="525.46" y="104.05" width="3.59" height="3.5"/><rect x="525.46" y="108.75" width="3.59" height="3.5"/><rect x="525.46" y="113.45" width="3.59" height="3.5"/><rect x="525.46" y="118.15" width="3.59" height="3.5"/><rect x="525.46" y="122.85" width="3.59" height="3.5"/><rect x="525.46" y="127.55" width="3.59" height="3.5"/><rect x="525.46" y="132.25" width="3.59" height="3.5"/><rect x="525.46" y="136.95" width="3.59" height="3.5"/><rect x="525.46" y="141.65" width="3.59" height="3.5"/><rect x="525.46" y="146.35" width="3.59" height="3.5"/><rect x="525.46" y="151.05" width="3.59" height="3.5"/><rect x="525.46" y="155.75" width="3.59" height="3.5"/><rect x="525.46" y="160.45" width="3.59" height="3.5"/><rect x="530.55" y="61.75" width="3.59" height="3.5"/><rect x="530.55" y="66.45" width="3.59" height="3.5"/><rect x="530.55" y="71.15" width="3.59" height="3.5"/><rect x="530.55" y="75.85" width="3.59" height="3.5"/><rect x="530.55" y="80.55" width="3.59" height="3.5"/><rect x="530.55" y="85.25" width="3.59" height="3.5"/><rect x="530.55" y="89.95" width="3.59" height="3.5"/><rect x="530.55" y="94.65" width="3.59" height="3.5"/><rect x="530.55" y="99.35" width="3.59" height="3.5"/><rect x="530.55" y="104.05" width="3.59" height="3.5"/><rect x="530.55" y="108.75" width="3.59" height="3.5"/><rect x="530.55" y="113.45" width="3.59" height="3.5"/><rect x="530.55" y="118.15" width="3.59" height="3.5"/><rect x="530.55" y="122.85" width="3.59" height="3.5"/><rect x="530.55" y="127.55" width="3.59" height="3.5"/><rect x="530.55" y="132.25" width="3.59" height="3.5"/><rect x="530.55" y="136.95" width="3.59" height="3.5"/><rect x="530.55" y="141.65" width="3.59" height="3.5"/><rect x="530.55" y="146.35" width="3.59" height="3.5"/><rect x="530.55" y="151.05" width="3.59" height="3.5"/><rect x="530.55" y="155.75" width="3.59" height="3.5"/><rect x="530.55" y="160.45" width="3.59" height="3.5"/><rect x="535.62" y="61.75" width="3.48" height="3.5"/><rect x="535.62" y="66.45" width="3.48" height="3.5"/><rect x="535.62" y="71.15" width="3.48" height="3.5"/><rect x="535.62" y="75.85" width="3.48" height="3.5"/><rect x="535.62" y="80.55" width="3.48" height="3.5"/><rect x="535.62" y="85.25" width="3.48" height="3.5"/><rect x="535.62" y="89.95" width="3.48" height="3.5"/><rect x="535.62" y="94.65" width="3.48" height="3.5"/><rect x="535.62" y="99.35" width="3.48" height="3.5"/><rect x="535.62" y="104.05" width="3.48" height="3.5"/><rect x="535.62" y="108.75" width="3.48" height="3.5"/><rect x="535.62" y="113.45" width="3.48" height="3.5"/><rect x="535.62" y="118.15" width="3.48" height="3.5"/><rect x="535.62" y="122.85" width="3.48" height="3.5"/><rect x="535.62" y="127.55" width="3.48" height="3.5"/><rect x="535.62" y="132.25" width="3.48" height="3.5"/><rect x="535.62" y="136.95" width="3.48" height="3.5"/><rect x="535.62" y="141.65" width="3.48" height="3.5"/><rect x="535.62" y="146.35" width="3.48" height="3.5"/><rect x="535.62" y="151.05" width="3.48" height="3.5"/><rect x="535.62" y="155.75" width="3.48" height="3.5"/><rect x="535.62" y="160.45" width="3.48" height="3.5"/><rect x="540.51" y="61.75" width="3.26" height="3.5"/><rect x="540.51" y="66.45" width="3.26" height="3.5"/><rect x="540.51" y="71.15" width="3.26" height="3.5"/><rect x="540.51" y="75.85" width="3.26" height="3.5"/><rect x="540.51" y="80.55" width="3.26" height="3.5"/><rect x="540.51" y="85.25" width="3.26" height="3.5"/><rect x="540.51" y="89.95" width="3.26" height="3.5"/><rect x="540.51" y="94.65" width="3.26" height="3.5"/><rect x="540.51" y="99.35" width="3.26" height="3.5"/><rect x="540.51" y="104.05" width="3.26" height="3.5"/><rect x="540.51" y="108.75" width="3.26" height="3.5"/><rect x="540.51" y="113.45" width="3.26" height="3.5"/><rect x="540.51" y="118.15" width="3.26" height="3.5"/><rect x="540.51" y="122.85" width="3.26" height="3.5"/><rect x="540.51" y="127.55" width="3.26" height="3.5"/><rect x="540.51" y="132.25" width="3.26" height="3.5"/><rect x="540.51" y="136.95" width="3.26" height="3.5"/><rect x="540.51" y="141.65" width="3.26" height="3.5"/><rect x="540.51" y="146.35" width="3.26" height="3.5"/><rect x="540.51" y="151.05" width="3.26" height="3.5"/><rect x="540.51" y="155.75" width="3.26" height="3.5"/><rect x="540.51" y="160.45" width="3.26" height="3.5"/><rect x="545.07" y="61.75" width="2.95" height="3.5"/><rect x="545.07" y="66.45" width="2.95" height="3.5"/><rect x="545.07" y="71.15" width="2.95" height="3.5"/><rect x="545.07" y="75.85" width="2.95" height="3.5"/><rect x="545.07" y="80.55" width="2.95" height="3.5"/><rect x="545.07" y="85.25" width="2.95" height="3.5"/><rect x="545.07" y="89.95" width="2.95" height="3.5"/><rect x="545.07" y="94.65" width="2.95" height="3.5"/><rect x="545.07" y="99.35" width="2.95" height="3.5"/><rect x="545.07" y="104.05" width="2.95" height="3.5"/><rect x="545.07" y="108.75" width="2.95" height="3.5"/><rect x="545.07" y="113.45" width="2.95" height="3.5"/><rect x="545.07" y="118.15" width="2.95" height="3.5"/><rect x="545.07" y="122.85" width="2.95" height="3.5"/><rect x="545.07" y="127.55" width="2.95" height="3.5"/><rect x="545.07" y="132.25" width="2.95" height="3.5"/><rect x="545.07" y="136.95" width="2.95" height="3.5"/><rect x="545.07" y="141.65" width="2.95" height="3.5"/><rect x="545.07" y="146.35" width="2.95" height="3.5"/><rect x="545.07" y="151.05" width="2.95" height="3.5"/><rect x="545.07" y="155.75" width="2.95" height="3.5"/><rect x="545.07" y="160.45" width="2.95" height="3.5"/><rect x="549.17" y="61.75" width="2.55" height="3.5"/><rect x="549.17" y="66.45" width="2.55" height="3.5"/><rect x="549.17" y="71.15" width="2.55" height="3.5"/><rect x="549.17" y="75.85" width="2.55" height="3.5"/><rect x="549.17" y="80.55" width="2.55" height="3.5"/><rect x="549.17" y="85.25" width="2.55" height="3.5"/><rect x="549.17" y="89.95" width="2.55" height="3.5"/><rect x="549.17" y="94.65" width="2.55" height="3.5"/><rect x="549.17" y="99.35" width="2.55" height="3.5"/><rect x="549.17" y="104.05" width="2.55" height="3.5"/><rect x="549.17" y="108.75" width="2.55" height="3.5"/><rect x="549.17" y="113.45" width="2.55" height="3.5"/><rect x="549.17" y="118.15" width="2.55" height="3.5"/><rect x="549.17" y="122.85" width="2.55" height="3.5"/><rect x="549.17" y="127.55" width="2.55" height="3.5"/><rect x="549.17" y="132.25" width="2.55" height="3.5"/><rect x="549.17" y="136.95" width="2.55" height="3.5"/><rect x="549.17" y="141.65" width="2.55" height="3.5"/><rect x="549.17" y="146.35" width="2.55" height="3.5"/><rect x="549.17" y="151.05" width="2.55" height="3.5"/><rect x="549.17" y="155.75" width="2.55" height="3.5"/><rect x="549.17" y="160.45" width="2.55" height="3.5"/><rect x="552.69" y="61.75" width="2.06" height="3.5"/><rect x="552.69" y="66.45" width="2.06" height="3.5"/><rect x="552.69" y="71.15" width="2.06" height="3.5"/><rect x="552.69" y="75.85" width="2.06" height="3.5"/><rect x="552.69" y="80.55" width="2.06" height="3.5"/><rect x="552.69" y="85.25" width="2.06" height="3.5"/><rect x="552.69" y="89.95" width="2.06" height="3.5"/><rect x="552.69" y="94.65" width="2.06" height="3.5"/><rect x="552.69" y="99.35" width="2.06" height="3.5"/><rect x="552.69" y="104.05" width="2.06" height="3.5"/><rect x="552.69" y="108.75" width="2.06" height="3.5"/><rect x="552.69" y="113.45" width="2.06" height="3.5"/><rect x="552.69" y="118.15" width="2.06" height="3.5"/><rect x="552.69" y="122.85" width="2.06" height="3.5"/><rect x="552.69" y="127.55" width="2.06" height="3.5"/><rect x="552.69" y="132.25" width="2.06" height="3.5"/><rect x="552.69" y="136.95" width="2.06" height="3.5"/><rect x="552.69" y="141.65" width="2.06" height="3.5"/><rect x="552.69" y="146.35" width="2.06" height="3.5"/><rect x="552.69" y="151.05" width="2.06" height="3.5"/><rect x="552.69" y="155.75" width="2.06" height="3.5"/><rect x="552.69" y="160.45" width="2.06" height="3.5"/><rect x="555.5" y="61.75" width="1.52" height="3.5"/><rect x="555.5" y="66.45" width="1.52" height="3.5"/><rect x="555.5" y="71.15" width="1.52" height="3.5"/><rect x="555.5" y="75.85" width="1.52" height="3.5"/><rect x="555.5" y="80.55" width="1.52" height="3.5"/><rect x="555.5" y="85.25" width="1.52" height="3.5"/><rect x="555.5" y="89.95" width="1.52" height="3.5"/><rect x="555.5" y="94.65" width="1.52" height="3.5"/><rect x="555.5" y="99.35" width="1.52" height="3.5"/><rect x="555.5" y="104.05" width="1.52" height="3.5"/><rect x="555.5" y="108.75" width="1.52" height="3.5"/><rect x="555.5" y="113.45" width="1.52" height="3.5"/><rect x="555.5" y="118.15" width="1.52" height="3.5"/><rect x="555.5" y="122.85" width="1.52" height="3.5"/><rect x="555.5" y="127.55" width="1.52" height="3.5"/><rect x="555.5" y="132.25" width="1.52" height="3.5"/><rect x="555.5" y="136.95" width="1.52" height="3.5"/><rect x="555.5" y="141.65" width="1.52" height="3.5"/><rect x="555.5" y="146.35" width="1.52" height="3.5"/><rect x="555.5" y="151.05" width="1.52" height="3.5"/><rect x="555.5" y="155.75" width="1.52" height="3.5"/><rect x="555.5" y="160.45" width="1.52" height="3.5"/><rect x="557.47" y="61.75" width="1.08" height="3.5"/><rect x="557.47" y="66.45" width="1.08" height="3.5"/><rect x="557.47" y="71.15" width="1.08" height="3.5"/><rect x="557.47" y="75.85" width="1.08" height="3.5"/><rect x="557.47" y="80.55" width="1.08" height="3.5"/><rect x="557.47" y="85.25" width="1.08" height="3.5"/><rect x="557.47" y="89.95" width="1.08" height="3.5"/><rect x="557.47" y="94.65" width="1.08" height="3.5"/><rect x="557.47" y="99.35" width="1.08" height="3.5"/><rect x="557.47" y="104.05" width="1.08" height="3.5"/><rect x="557.47" y="108.75" width="1.08" height="3.5"/><rect x="557.47" y="113.45" width="1.08" height="3.5"/><rect x="557.47" y="118.15" width="1.08" height="3.5"/><rect x="557.47" y="122.85" width="1.08" height="3.5"/><rect x="557.47" y="127.55" width="1.08" height="3.5"/><rect x="557.47" y="132.25" width="1.08" height="3.5"/><rect x="557.47" y="136.95" width="1.08" height="3.5"/><rect x="557.47" y="141.65" width="1.08" height="3.5"/><rect x="557.47" y="146.35" width="1.08" height="3.5"/><rect x="557.47" y="151.05" width="1.08" height="3.5"/><rect x="557.47" y="155.75" width="1.08" height="3.5"/><rect x="557.47" y="160.45" width="1.08" height="3.5"/><rect x="558.35" y="61.75" width="1.08" height="3.5"/><rect x="558.35" y="66.45" width="1.08" height="3.5"/><rect x="558.35" y="71.15" width="1.08" height="3.5"/><rect x="558.35" y="75.85" width="1.08" height="3.5"/><rect x="558.35" y="80.55" width="1.08" height="3.5"/><rect x="558.35" y="85.25" width="1.08" height="3.5"/><rect x="558.35" y="89.95" width="1.08" height="3.5"/><rect x="558.35" y="94.65" width="1.08" height="3.5"/><rect x="558.35" y="99.35" width="1.08" height="3.5"/><rect x="558.35" y="104.05" width="1.08" height="3.5"/><rect x="558.35" y="108.75" width="1.08" height="3.5"/><rect x="558.35" y="113.45" width="1.08" height="3.5"/><rect x="558.35" y="118.15" width="1.08" height="3.5"/><rect x="558.35" y="122.85" width="1.08" height="3.5"/><rect x="558.35" y="127.55" width="1.08" height="3.5"/><rect x="558.35" y="132.25" width="1.08" height="3.5"/><rect x="558.35" y="136.95" width="1.08" height="3.5"/><rect x="558.35" y="141.65" width="1.08" height="3.5"/><rect x="558.35" y="146.35" width="1.08" height="3.5"/><rect x="558.35" y="151.05" width="1.08" height="3.5"/><rect x="558.35" y="155.75" width="1.08" height="3.5"/><rect x="558.35" y="160.45" width="1.08" height="3.5"/></g>
<g fill="#c2c09a"><rect x="500.51" y="62.85" width="0.41" height="1.3"/><rect x="500.51" y="67.55" width="0.41" height="1.3"/><rect x="500.51" y="72.25" width="0.41" height="1.3"/><rect x="500.51" y="76.95" width="0.41" height="1.3"/><rect x="500.51" y="81.65" width="0.41" height="1.3"/><rect x="500.51" y="86.35" width="0.41" height="1.3"/><rect x="500.51" y="91.05" width="0.41" height="1.3"/><rect x="500.51" y="95.75" width="0.41" height="1.3"/><rect x="500.51" y="100.45" width="0.41" height="1.3"/><rect x="500.51" y="105.15" width="0.41" height="1.3"/><rect x="500.51" y="109.85" width="0.41" height="1.3"/><rect x="500.51" y="114.55" width="0.41" height="1.3"/><rect x="500.51" y="119.25" width="0.41" height="1.3"/><rect x="500.51" y="123.95" width="0.41" height="1.3"/><rect x="500.51" y="128.65" width="0.41" height="1.3"/><rect x="500.51" y="133.35" width="0.41" height="1.3"/><rect x="500.51" y="138.05" width="0.41" height="1.3"/><rect x="500.51" y="142.75" width="0.41" height="1.3"/><rect x="500.51" y="147.45" width="0.41" height="1.3"/><rect x="500.51" y="152.15" width="0.41" height="1.3"/><rect x="500.51" y="156.85" width="0.41" height="1.3"/><rect x="500.51" y="161.55" width="0.41" height="1.3"/><rect x="501.39" y="62.85" width="0.41" height="1.3"/><rect x="501.39" y="67.55" width="0.41" height="1.3"/><rect x="501.39" y="72.25" width="0.41" height="1.3"/><rect x="501.39" y="76.95" width="0.41" height="1.3"/><rect x="501.39" y="81.65" width="0.41" height="1.3"/><rect x="501.39" y="86.35" width="0.41" height="1.3"/><rect x="501.39" y="91.05" width="0.41" height="1.3"/><rect x="501.39" y="95.75" width="0.41" height="1.3"/><rect x="501.39" y="100.45" width="0.41" height="1.3"/><rect x="501.39" y="105.15" width="0.41" height="1.3"/><rect x="501.39" y="109.85" width="0.41" height="1.3"/><rect x="501.39" y="114.55" width="0.41" height="1.3"/><rect x="501.39" y="119.25" width="0.41" height="1.3"/><rect x="501.39" y="123.95" width="0.41" height="1.3"/><rect x="501.39" y="128.65" width="0.41" height="1.3"/><rect x="501.39" y="133.35" width="0.41" height="1.3"/><rect x="501.39" y="138.05" width="0.41" height="1.3"/><rect x="501.39" y="142.75" width="0.41" height="1.3"/><rect x="501.39" y="147.45" width="0.41" height="1.3"/><rect x="501.39" y="152.15" width="0.41" height="1.3"/><rect x="501.39" y="156.85" width="0.41" height="1.3"/><rect x="501.39" y="161.55" width="0.41" height="1.3"/><rect x="503.05" y="62.85" width="0.57" height="1.3"/><rect x="503.05" y="67.55" width="0.57" height="1.3"/><rect x="503.05" y="72.25" width="0.57" height="1.3"/><rect x="503.05" y="76.95" width="0.57" height="1.3"/><rect x="503.05" y="81.65" width="0.57" height="1.3"/><rect x="503.05" y="86.35" width="0.57" height="1.3"/><rect x="503.05" y="91.05" width="0.57" height="1.3"/><rect x="503.05" y="95.75" width="0.57" height="1.3"/><rect x="503.05" y="100.45" width="0.57" height="1.3"/><rect x="503.05" y="105.15" width="0.57" height="1.3"/><rect x="503.05" y="109.85" width="0.57" height="1.3"/><rect x="503.05" y="114.55" width="0.57" height="1.3"/><rect x="503.05" y="119.25" width="0.57" height="1.3"/><rect x="503.05" y="123.95" width="0.57" height="1.3"/><rect x="503.05" y="128.65" width="0.57" height="1.3"/><rect x="503.05" y="133.35" width="0.57" height="1.3"/><rect x="503.05" y="138.05" width="0.57" height="1.3"/><rect x="503.05" y="142.75" width="0.57" height="1.3"/><rect x="503.05" y="147.45" width="0.57" height="1.3"/><rect x="503.05" y="152.15" width="0.57" height="1.3"/><rect x="503.05" y="156.85" width="0.57" height="1.3"/><rect x="503.05" y="161.55" width="0.57" height="1.3"/><rect x="505.49" y="62.85" width="0.77" height="1.3"/><rect x="505.49" y="67.55" width="0.77" height="1.3"/><rect x="505.49" y="72.25" width="0.77" height="1.3"/><rect x="505.49" y="76.95" width="0.77" height="1.3"/><rect x="505.49" y="81.65" width="0.77" height="1.3"/><rect x="505.49" y="86.35" width="0.77" height="1.3"/><rect x="505.49" y="91.05" width="0.77" height="1.3"/><rect x="505.49" y="95.75" width="0.77" height="1.3"/><rect x="505.49" y="100.45" width="0.77" height="1.3"/><rect x="505.49" y="105.15" width="0.77" height="1.3"/><rect x="505.49" y="109.85" width="0.77" height="1.3"/><rect x="505.49" y="114.55" width="0.77" height="1.3"/><rect x="505.49" y="119.25" width="0.77" height="1.3"/><rect x="505.49" y="123.95" width="0.77" height="1.3"/><rect x="505.49" y="128.65" width="0.77" height="1.3"/><rect x="505.49" y="133.35" width="0.77" height="1.3"/><rect x="505.49" y="138.05" width="0.77" height="1.3"/><rect x="505.49" y="142.75" width="0.77" height="1.3"/><rect x="505.49" y="147.45" width="0.77" height="1.3"/><rect x="505.49" y="152.15" width="0.77" height="1.3"/><rect x="505.49" y="156.85" width="0.77" height="1.3"/><rect x="505.49" y="161.55" width="0.77" height="1.3"/><rect x="508.68" y="62.85" width="0.95" height="1.3"/><rect x="508.68" y="67.55" width="0.95" height="1.3"/><rect x="508.68" y="72.25" width="0.95" height="1.3"/><rect x="508.68" y="76.95" width="0.95" height="1.3"/><rect x="508.68" y="81.65" width="0.95" height="1.3"/><rect x="508.68" y="86.35" width="0.95" height="1.3"/><rect x="508.68" y="91.05" width="0.95" height="1.3"/><rect x="508.68" y="95.75" width="0.95" height="1.3"/><rect x="508.68" y="100.45" width="0.95" height="1.3"/><rect x="508.68" y="105.15" width="0.95" height="1.3"/><rect x="508.68" y="109.85" width="0.95" height="1.3"/><rect x="508.68" y="114.55" width="0.95" height="1.3"/><rect x="508.68" y="119.25" width="0.95" height="1.3"/><rect x="508.68" y="123.95" width="0.95" height="1.3"/><rect x="508.68" y="128.65" width="0.95" height="1.3"/><rect x="508.68" y="133.35" width="0.95" height="1.3"/><rect x="508.68" y="138.05" width="0.95" height="1.3"/><rect x="508.68" y="142.75" width="0.95" height="1.3"/><rect x="508.68" y="147.45" width="0.95" height="1.3"/><rect x="508.68" y="152.15" width="0.95" height="1.3"/><rect x="508.68" y="156.85" width="0.95" height="1.3"/><rect x="508.68" y="161.55" width="0.95" height="1.3"/><rect x="512.5" y="62.85" width="1.11" height="1.3"/><rect x="512.5" y="67.55" width="1.11" height="1.3"/><rect x="512.5" y="72.25" width="1.11" height="1.3"/><rect x="512.5" y="76.95" width="1.11" height="1.3"/><rect x="512.5" y="81.65" width="1.11" height="1.3"/><rect x="512.5" y="86.35" width="1.11" height="1.3"/><rect x="512.5" y="91.05" width="1.11" height="1.3"/><rect x="512.5" y="95.75" width="1.11" height="1.3"/><rect x="512.5" y="100.45" width="1.11" height="1.3"/><rect x="512.5" y="105.15" width="1.11" height="1.3"/><rect x="512.5" y="109.85" width="1.11" height="1.3"/><rect x="512.5" y="114.55" width="1.11" height="1.3"/><rect x="512.5" y="119.25" width="1.11" height="1.3"/><rect x="512.5" y="123.95" width="1.11" height="1.3"/><rect x="512.5" y="128.65" width="1.11" height="1.3"/><rect x="512.5" y="133.35" width="1.11" height="1.3"/><rect x="512.5" y="138.05" width="1.11" height="1.3"/><rect x="512.5" y="142.75" width="1.11" height="1.3"/><rect x="512.5" y="147.45" width="1.11" height="1.3"/><rect x="512.5" y="152.15" width="1.11" height="1.3"/><rect x="512.5" y="156.85" width="1.11" height="1.3"/><rect x="512.5" y="161.55" width="1.11" height="1.3"/><rect x="516.85" y="62.85" width="1.22" height="1.3"/><rect x="516.85" y="67.55" width="1.22" height="1.3"/><rect x="516.85" y="72.25" width="1.22" height="1.3"/><rect x="516.85" y="76.95" width="1.22" height="1.3"/><rect x="516.85" y="81.65" width="1.22" height="1.3"/><rect x="516.85" y="86.35" width="1.22" height="1.3"/><rect x="516.85" y="91.05" width="1.22" height="1.3"/><rect x="516.85" y="95.75" width="1.22" height="1.3"/><rect x="516.85" y="100.45" width="1.22" height="1.3"/><rect x="516.85" y="105.15" width="1.22" height="1.3"/><rect x="516.85" y="109.85" width="1.22" height="1.3"/><rect x="516.85" y="114.55" width="1.22" height="1.3"/><rect x="516.85" y="119.25" width="1.22" height="1.3"/><rect x="516.85" y="123.95" width="1.22" height="1.3"/><rect x="516.85" y="128.65" width="1.22" height="1.3"/><rect x="516.85" y="133.35" width="1.22" height="1.3"/><rect x="516.85" y="138.05" width="1.22" height="1.3"/><rect x="516.85" y="142.75" width="1.22" height="1.3"/><rect x="516.85" y="147.45" width="1.22" height="1.3"/><rect x="516.85" y="152.15" width="1.22" height="1.3"/><rect x="516.85" y="156.85" width="1.22" height="1.3"/><rect x="516.85" y="161.55" width="1.22" height="1.3"/><rect x="521.59" y="62.85" width="1.3" height="1.3"/><rect x="521.59" y="67.55" width="1.3" height="1.3"/><rect x="521.59" y="72.25" width="1.3" height="1.3"/><rect x="521.59" y="76.95" width="1.3" height="1.3"/><rect x="521.59" y="81.65" width="1.3" height="1.3"/><rect x="521.59" y="86.35" width="1.3" height="1.3"/><rect x="521.59" y="91.05" width="1.3" height="1.3"/><rect x="521.59" y="95.75" width="1.3" height="1.3"/><rect x="521.59" y="100.45" width="1.3" height="1.3"/><rect x="521.59" y="105.15" width="1.3" height="1.3"/><rect x="521.59" y="109.85" width="1.3" height="1.3"/><rect x="521.59" y="114.55" width="1.3" height="1.3"/><rect x="521.59" y="119.25" width="1.3" height="1.3"/><rect x="521.59" y="123.95" width="1.3" height="1.3"/><rect x="521.59" y="128.65" width="1.3" height="1.3"/><rect x="521.59" y="133.35" width="1.3" height="1.3"/><rect x="521.59" y="138.05" width="1.3" height="1.3"/><rect x="521.59" y="142.75" width="1.3" height="1.3"/><rect x="521.59" y="147.45" width="1.3" height="1.3"/><rect x="521.59" y="152.15" width="1.3" height="1.3"/><rect x="521.59" y="156.85" width="1.3" height="1.3"/><rect x="521.59" y="161.55" width="1.3" height="1.3"/><rect x="526.58" y="62.85" width="1.34" height="1.3"/><rect x="526.58" y="67.55" width="1.34" height="1.3"/><rect x="526.58" y="72.25" width="1.34" height="1.3"/><rect x="526.58" y="76.95" width="1.34" height="1.3"/><rect x="526.58" y="81.65" width="1.34" height="1.3"/><rect x="526.58" y="86.35" width="1.34" height="1.3"/><rect x="526.58" y="91.05" width="1.34" height="1.3"/><rect x="526.58" y="95.75" width="1.34" height="1.3"/><rect x="526.58" y="100.45" width="1.34" height="1.3"/><rect x="526.58" y="105.15" width="1.34" height="1.3"/><rect x="526.58" y="109.85" width="1.34" height="1.3"/><rect x="526.58" y="114.55" width="1.34" height="1.3"/><rect x="526.58" y="119.25" width="1.34" height="1.3"/><rect x="526.58" y="123.95" width="1.34" height="1.3"/><rect x="526.58" y="128.65" width="1.34" height="1.3"/><rect x="526.58" y="133.35" width="1.34" height="1.3"/><rect x="526.58" y="138.05" width="1.34" height="1.3"/><rect x="526.58" y="142.75" width="1.34" height="1.3"/><rect x="526.58" y="147.45" width="1.34" height="1.3"/><rect x="526.58" y="152.15" width="1.34" height="1.3"/><rect x="526.58" y="156.85" width="1.34" height="1.3"/><rect x="526.58" y="161.55" width="1.34" height="1.3"/><rect x="531.67" y="62.85" width="1.34" height="1.3"/><rect x="531.67" y="67.55" width="1.34" height="1.3"/><rect x="531.67" y="72.25" width="1.34" height="1.3"/><rect x="531.67" y="76.95" width="1.34" height="1.3"/><rect x="531.67" y="81.65" width="1.34" height="1.3"/><rect x="531.67" y="86.35" width="1.34" height="1.3"/><rect x="531.67" y="91.05" width="1.34" height="1.3"/><rect x="531.67" y="95.75" width="1.34" height="1.3"/><rect x="531.67" y="100.45" width="1.34" height="1.3"/><rect x="531.67" y="105.15" width="1.34" height="1.3"/><rect x="531.67" y="109.85" width="1.34" height="1.3"/><rect x="531.67" y="114.55" width="1.34" height="1.3"/><rect x="531.67" y="119.25" width="1.34" height="1.3"/><rect x="531.67" y="123.95" width="1.34" height="1.3"/><rect x="531.67" y="128.65" width="1.34" height="1.3"/><rect x="531.67" y="133.35" width="1.34" height="1.3"/><rect x="531.67" y="138.05" width="1.34" height="1.3"/><rect x="531.67" y="142.75" width="1.34" height="1.3"/><rect x="531.67" y="147.45" width="1.34" height="1.3"/><rect x="531.67" y="152.15" width="1.34" height="1.3"/><rect x="531.67" y="156.85" width="1.34" height="1.3"/><rect x="531.67" y="161.55" width="1.34" height="1.3"/><rect x="536.71" y="62.85" width="1.3" height="1.3"/><rect x="536.71" y="67.55" width="1.3" height="1.3"/><rect x="536.71" y="72.25" width="1.3" height="1.3"/><rect x="536.71" y="76.95" width="1.3" height="1.3"/><rect x="536.71" y="81.65" width="1.3" height="1.3"/><rect x="536.71" y="86.35" width="1.3" height="1.3"/><rect x="536.71" y="91.05" width="1.3" height="1.3"/><rect x="536.71" y="95.75" width="1.3" height="1.3"/><rect x="536.71" y="100.45" width="1.3" height="1.3"/><rect x="536.71" y="105.15" width="1.3" height="1.3"/><rect x="536.71" y="109.85" width="1.3" height="1.3"/><rect x="536.71" y="114.55" width="1.3" height="1.3"/><rect x="536.71" y="119.25" width="1.3" height="1.3"/><rect x="536.71" y="123.95" width="1.3" height="1.3"/><rect x="536.71" y="128.65" width="1.3" height="1.3"/><rect x="536.71" y="133.35" width="1.3" height="1.3"/><rect x="536.71" y="138.05" width="1.3" height="1.3"/><rect x="536.71" y="142.75" width="1.3" height="1.3"/><rect x="536.71" y="147.45" width="1.3" height="1.3"/><rect x="536.71" y="152.15" width="1.3" height="1.3"/><rect x="536.71" y="156.85" width="1.3" height="1.3"/><rect x="536.71" y="161.55" width="1.3" height="1.3"/><rect x="541.53" y="62.85" width="1.22" height="1.3"/><rect x="541.53" y="67.55" width="1.22" height="1.3"/><rect x="541.53" y="72.25" width="1.22" height="1.3"/><rect x="541.53" y="76.95" width="1.22" height="1.3"/><rect x="541.53" y="81.65" width="1.22" height="1.3"/><rect x="541.53" y="86.35" width="1.22" height="1.3"/><rect x="541.53" y="91.05" width="1.22" height="1.3"/><rect x="541.53" y="95.75" width="1.22" height="1.3"/><rect x="541.53" y="100.45" width="1.22" height="1.3"/><rect x="541.53" y="105.15" width="1.22" height="1.3"/><rect x="541.53" y="109.85" width="1.22" height="1.3"/><rect x="541.53" y="114.55" width="1.22" height="1.3"/><rect x="541.53" y="119.25" width="1.22" height="1.3"/><rect x="541.53" y="123.95" width="1.22" height="1.3"/><rect x="541.53" y="128.65" width="1.22" height="1.3"/><rect x="541.53" y="133.35" width="1.22" height="1.3"/><rect x="541.53" y="138.05" width="1.22" height="1.3"/><rect x="541.53" y="142.75" width="1.22" height="1.3"/><rect x="541.53" y="147.45" width="1.22" height="1.3"/><rect x="541.53" y="152.15" width="1.22" height="1.3"/><rect x="541.53" y="156.85" width="1.22" height="1.3"/><rect x="541.53" y="161.55" width="1.22" height="1.3"/><rect x="546" y="62.85" width="1.11" height="1.3"/><rect x="546" y="67.55" width="1.11" height="1.3"/><rect x="546" y="72.25" width="1.11" height="1.3"/><rect x="546" y="76.95" width="1.11" height="1.3"/><rect x="546" y="81.65" width="1.11" height="1.3"/><rect x="546" y="86.35" width="1.11" height="1.3"/><rect x="546" y="91.05" width="1.11" height="1.3"/><rect x="546" y="95.75" width="1.11" height="1.3"/><rect x="546" y="100.45" width="1.11" height="1.3"/><rect x="546" y="105.15" width="1.11" height="1.3"/><rect x="546" y="109.85" width="1.11" height="1.3"/><rect x="546" y="114.55" width="1.11" height="1.3"/><rect x="546" y="119.25" width="1.11" height="1.3"/><rect x="546" y="123.95" width="1.11" height="1.3"/><rect x="546" y="128.65" width="1.11" height="1.3"/><rect x="546" y="133.35" width="1.11" height="1.3"/><rect x="546" y="138.05" width="1.11" height="1.3"/><rect x="546" y="142.75" width="1.11" height="1.3"/><rect x="546" y="147.45" width="1.11" height="1.3"/><rect x="546" y="152.15" width="1.11" height="1.3"/><rect x="546" y="156.85" width="1.11" height="1.3"/><rect x="546" y="161.55" width="1.11" height="1.3"/><rect x="549.97" y="62.85" width="0.95" height="1.3"/><rect x="549.97" y="67.55" width="0.95" height="1.3"/><rect x="549.97" y="72.25" width="0.95" height="1.3"/><rect x="549.97" y="76.95" width="0.95" height="1.3"/><rect x="549.97" y="81.65" width="0.95" height="1.3"/><rect x="549.97" y="86.35" width="0.95" height="1.3"/><rect x="549.97" y="91.05" width="0.95" height="1.3"/><rect x="549.97" y="95.75" width="0.95" height="1.3"/><rect x="549.97" y="100.45" width="0.95" height="1.3"/><rect x="549.97" y="105.15" width="0.95" height="1.3"/><rect x="549.97" y="109.85" width="0.95" height="1.3"/><rect x="549.97" y="114.55" width="0.95" height="1.3"/><rect x="549.97" y="119.25" width="0.95" height="1.3"/><rect x="549.97" y="123.95" width="0.95" height="1.3"/><rect x="549.97" y="128.65" width="0.95" height="1.3"/><rect x="549.97" y="133.35" width="0.95" height="1.3"/><rect x="549.97" y="138.05" width="0.95" height="1.3"/><rect x="549.97" y="142.75" width="0.95" height="1.3"/><rect x="549.97" y="147.45" width="0.95" height="1.3"/><rect x="549.97" y="152.15" width="0.95" height="1.3"/><rect x="549.97" y="156.85" width="0.95" height="1.3"/><rect x="549.97" y="161.55" width="0.95" height="1.3"/><rect x="553.33" y="62.85" width="0.77" height="1.3"/><rect x="553.33" y="67.55" width="0.77" height="1.3"/><rect x="553.33" y="72.25" width="0.77" height="1.3"/><rect x="553.33" y="76.95" width="0.77" height="1.3"/><rect x="553.33" y="81.65" width="0.77" height="1.3"/><rect x="553.33" y="86.35" width="0.77" height="1.3"/><rect x="553.33" y="91.05" width="0.77" height="1.3"/><rect x="553.33" y="95.75" width="0.77" height="1.3"/><rect x="553.33" y="100.45" width="0.77" height="1.3"/><rect x="553.33" y="105.15" width="0.77" height="1.3"/><rect x="553.33" y="109.85" width="0.77" height="1.3"/><rect x="553.33" y="114.55" width="0.77" height="1.3"/><rect x="553.33" y="119.25" width="0.77" height="1.3"/><rect x="553.33" y="123.95" width="0.77" height="1.3"/><rect x="553.33" y="128.65" width="0.77" height="1.3"/><rect x="553.33" y="133.35" width="0.77" height="1.3"/><rect x="553.33" y="138.05" width="0.77" height="1.3"/><rect x="553.33" y="142.75" width="0.77" height="1.3"/><rect x="553.33" y="147.45" width="0.77" height="1.3"/><rect x="553.33" y="152.15" width="0.77" height="1.3"/><rect x="553.33" y="156.85" width="0.77" height="1.3"/><rect x="553.33" y="161.55" width="0.77" height="1.3"/><rect x="555.98" y="62.85" width="0.57" height="1.3"/><rect x="555.98" y="67.55" width="0.57" height="1.3"/><rect x="555.98" y="72.25" width="0.57" height="1.3"/><rect x="555.98" y="76.95" width="0.57" height="1.3"/><rect x="555.98" y="81.65" width="0.57" height="1.3"/><rect x="555.98" y="86.35" width="0.57" height="1.3"/><rect x="555.98" y="91.05" width="0.57" height="1.3"/><rect x="555.98" y="95.75" width="0.57" height="1.3"/><rect x="555.98" y="100.45" width="0.57" height="1.3"/><rect x="555.98" y="105.15" width="0.57" height="1.3"/><rect x="555.98" y="109.85" width="0.57" height="1.3"/><rect x="555.98" y="114.55" width="0.57" height="1.3"/><rect x="555.98" y="119.25" width="0.57" height="1.3"/><rect x="555.98" y="123.95" width="0.57" height="1.3"/><rect x="555.98" y="128.65" width="0.57" height="1.3"/><rect x="555.98" y="133.35" width="0.57" height="1.3"/><rect x="555.98" y="138.05" width="0.57" height="1.3"/><rect x="555.98" y="142.75" width="0.57" height="1.3"/><rect x="555.98" y="147.45" width="0.57" height="1.3"/><rect x="555.98" y="152.15" width="0.57" height="1.3"/><rect x="555.98" y="156.85" width="0.57" height="1.3"/><rect x="555.98" y="161.55" width="0.57" height="1.3"/><rect x="557.8" y="62.85" width="0.41" height="1.3"/><rect x="557.8" y="67.55" width="0.41" height="1.3"/><rect x="557.8" y="72.25" width="0.41" height="1.3"/><rect x="557.8" y="76.95" width="0.41" height="1.3"/><rect x="557.8" y="81.65" width="0.41" height="1.3"/><rect x="557.8" y="86.35" width="0.41" height="1.3"/><rect x="557.8" y="91.05" width="0.41" height="1.3"/><rect x="557.8" y="95.75" width="0.41" height="1.3"/><rect x="557.8" y="100.45" width="0.41" height="1.3"/><rect x="557.8" y="105.15" width="0.41" height="1.3"/><rect x="557.8" y="109.85" width="0.41" height="1.3"/><rect x="557.8" y="114.55" width="0.41" height="1.3"/><rect x="557.8" y="119.25" width="0.41" height="1.3"/><rect x="557.8" y="123.95" width="0.41" height="1.3"/><rect x="557.8" y="128.65" width="0.41" height="1.3"/><rect x="557.8" y="133.35" width="0.41" height="1.3"/><rect x="557.8" y="138.05" width="0.41" height="1.3"/><rect x="557.8" y="142.75" width="0.41" height="1.3"/><rect x="557.8" y="147.45" width="0.41" height="1.3"/><rect x="557.8" y="152.15" width="0.41" height="1.3"/><rect x="557.8" y="156.85" width="0.41" height="1.3"/><rect x="557.8" y="161.55" width="0.41" height="1.3"/><rect x="558.69" y="62.85" width="0.41" height="1.3"/><rect x="558.69" y="67.55" width="0.41" height="1.3"/><rect x="558.69" y="72.25" width="0.41" height="1.3"/><rect x="558.69" y="76.95" width="0.41" height="1.3"/><rect x="558.69" y="81.65" width="0.41" height="1.3"/><rect x="558.69" y="86.35" width="0.41" height="1.3"/><rect x="558.69" y="91.05" width="0.41" height="1.3"/><rect x="558.69" y="95.75" width="0.41" height="1.3"/><rect x="558.69" y="100.45" width="0.41" height="1.3"/><rect x="558.69" y="105.15" width="0.41" height="1.3"/><rect x="558.69" y="109.85" width="0.41" height="1.3"/><rect x="558.69" y="114.55" width="0.41" height="1.3"/><rect x="558.69" y="119.25" width="0.41" height="1.3"/><rect x="558.69" y="123.95" width="0.41" height="1.3"/><rect x="558.69" y="128.65" width="0.41" height="1.3"/><rect x="558.69" y="133.35" width="0.41" height="1.3"/><rect x="558.69" y="138.05" width="0.41" height="1.3"/><rect x="558.69" y="142.75" width="0.41" height="1.3"/><rect x="558.69" y="147.45" width="0.41" height="1.3"/><rect x="558.69" y="152.15" width="0.41" height="1.3"/><rect x="558.69" y="156.85" width="0.41" height="1.3"/><rect x="558.69" y="161.55" width="0.41" height="1.3"/></g>
</g>
<path d="M500.6,64 L559,71.5 L559,153 A29.2,7.5 0.98 0 1 500.6,152 Z" fill="url(#gShade)"/>
<path d="M500.6,64 L559,71.5 A29.44,9 7.32 0 1 500.6,64 Z" fill="url(#gTopFace)"/>
<path d="M559,71.5 A29.44,9 7.32 0 1 500.6,64" fill="none" stroke="#b4aa66" stroke-width="0.7"/>
<path d="M612.3,64 L671,71.5 L671,152.5 A29.35,7 0.98 0 1 612.3,151.5 Z" fill="url(#pHoney)"/>
<path d="M612.3,64 L671,71.5 L671,152.5 A29.35,7 0.98 0 1 612.3,151.5 Z" fill="url(#gShade)"/>
<path d="M612.3,64 L671,71.5 A29.59,9 7.28 0 1 612.3,64 Z" fill="url(#gTopFace)"/>
<path d="M671,71.5 A29.59,9 7.28 0 1 612.3,64" fill="none" stroke="#a89c30" stroke-width="0.7"/>
<text x="171.1" y="182.7" font-size="16" font-weight="bold" fill="#000">c</text>
<path d="M184.3,185.3 C185.1,191.5 197.3,194.5 214,189.3 L214,236 Q199.15,241.5 184.3,235.5 Z" fill="url(#gMetal)"/>
<path d="M225.2,185.3 C226,191.5 238.2,194.5 254.8,189.3 L254.8,236 Q240,241.5 225.2,235.5 Z" fill="url(#gMetal)"/>
<path d="M266.2,185.3 C267,191.5 279.2,194.5 296.3,189.3 L296.3,236 Q281.25,241.5 266.2,235.5 Z" fill="url(#gMetal)"/>
<path d="M178.7,215.3 A16.61,1.9 -1.73 0 1 211.9,214.3 A16.61,6.6 -1.73 0 1 178.7,215.3 Z" fill="#2ad43c"/>
<path d="M182,214.6 A12.75,1.5 -1.35 0 1 207.5,214 A12.75,3.85 -1.35 0 1 182,214.6 Z" fill="#22c4a8"/>
<ellipse cx="194.5" cy="213.9" rx="9.5" ry="2.6" fill="#1232c4"/>
<ellipse cx="193.5" cy="213.4" rx="5" ry="1.8" fill="#0a14a8"/>
<path d="M220,214.6 A15.87,1.15 -2.53 0 1 251.7,213.2 A15.87,6.8 -2.53 0 1 220,214.6 Z" fill="#2ad43c"/>
<path d="M223.5,214.2 A11.25,1.1 -1.02 0 1 246,213.8 A11.25,3.25 -1.02 0 1 223.5,214.2 Z" fill="#22c4a8"/>
<ellipse cx="233.5" cy="213.9" rx="7" ry="1.9" fill="#1232c4"/>
<path d="M262.6,214.8 A13.95,1.3 0.82 0 1 290.5,215.2 A13.95,5.25 0.82 0 1 262.6,214.8 Z" fill="#2ad43c"/>
<path d="M266,214.5 A10,1.08 1.43 0 1 286,215 A10,2.38 1.43 0 1 266,214.5 Z" fill="#22c4a8"/>
<ellipse cx="276.5" cy="214.6" rx="6.5" ry="1.7" fill="#1232c4"/>
<path d="M183.4,247.3 C184.2,253.5 196.4,256.5 213.7,251.3 L213.7,297.5 Q198.55,302.5 183.4,297 Z" fill="url(#pAbs)"/>
<path d="M223.8,247.3 C224.6,253.5 236.8,256.5 255.6,251.3 L255.6,297.5 Q239.7,302.5 223.8,297 Z" fill="url(#pAbs)"/>
<path d="M264.8,247.3 C265.6,253.5 277.8,256.5 296.5,251.3 L296.5,297.5 Q280.65,302.5 264.8,297 Z" fill="url(#pAbs)"/>
<path d="M177.4,277.5 A14.51,4.25 1.97 0 1 206.4,278.5 A14.51,4.25 1.97 0 1 177.4,277.5 Z" fill="#2ccab8"/>
<ellipse cx="192" cy="277.5" rx="9" ry="3.6" fill="#0c18b0"/>
<ellipse cx="190" cy="277.2" rx="5" ry="2.6" fill="#080c90"/>
<path d="M222.2,278.2 A10.6,3.18 0.81 0 1 243.4,278.5 A10.6,3.07 0.81 0 1 222.2,278.2 Z" fill="#2ccab8"/>
<ellipse cx="232.5" cy="277.6" rx="5.2" ry="2.5" fill="#0c18b0"/>
<path d="M263.9,278.5 A10.4,2.07 0.83 0 1 284.7,278.8 A10.4,2.18 0.83 0 1 263.9,278.5 Z" fill="#2ccab8"/>
<ellipse cx="273" cy="278.3" rx="4.2" ry="1.9" fill="#0c18b0"/>
<path d="M272.9,271 L274.2,277 L272.9,284.1 L271.6,277 Z" fill="#1020c0"/>
<rect x="306.1" y="193.6" width="7.9" height="94.6" fill="url(#gJet)"/>
<text x="301.4" y="190" font-size="7" fill="#222">dBsm</text>
<line x1="314" y1="193.6" x2="315.3" y2="193.6" stroke="#333" stroke-width="0.6"/>
<text x="317.6" y="196.3" font-size="7.4" fill="#222">25</text>
<line x1="314" y1="203.06" x2="315.3" y2="203.06" stroke="#333" stroke-width="0.6"/>
<text x="317.6" y="205.76" font-size="7.4" fill="#222">20</text>
<line x1="314" y1="212.52" x2="315.3" y2="212.52" stroke="#333" stroke-width="0.6"/>
<text x="317.6" y="215.22" font-size="7.4" fill="#222">15</text>
<line x1="314" y1="221.98" x2="315.3" y2="221.98" stroke="#333" stroke-width="0.6"/>
<text x="317.6" y="224.68" font-size="7.4" fill="#222">10</text>
<line x1="314" y1="231.44" x2="315.3" y2="231.44" stroke="#333" stroke-width="0.6"/>
<text x="317.6" y="234.14" font-size="7.4" fill="#222">5</text>
<line x1="314" y1="240.9" x2="315.3" y2="240.9" stroke="#333" stroke-width="0.6"/>
<text x="317.6" y="243.6" font-size="7.4" fill="#222">0</text>
<line x1="314" y1="250.36" x2="315.3" y2="250.36" stroke="#333" stroke-width="0.6"/>
<text x="315.8" y="253.06" font-size="7.4" fill="#222">-5</text>
<line x1="314" y1="259.82" x2="315.3" y2="259.82" stroke="#333" stroke-width="0.6"/>
<text x="315.8" y="262.52" font-size="7.4" fill="#222">-10</text>
<line x1="314" y1="269.28" x2="315.3" y2="269.28" stroke="#333" stroke-width="0.6"/>
<text x="315.8" y="271.98" font-size="7.4" fill="#222">-15</text>
<line x1="314" y1="278.74" x2="315.3" y2="278.74" stroke="#333" stroke-width="0.6"/>
<text x="315.8" y="281.44" font-size="7.4" fill="#222">-20</text>
<line x1="314" y1="288.2" x2="315.3" y2="288.2" stroke="#333" stroke-width="0.6"/>
<text x="315.8" y="290.9" font-size="7.4" fill="#222">-25</text>
<text x="199" y="316.8" font-size="10" text-anchor="middle" fill="#111">6GHz</text>
<text x="238.5" y="316.8" font-size="10" text-anchor="middle" fill="#111">10GHz</text>
<text x="279.5" y="316.8" font-size="10" text-anchor="middle" fill="#111">14GHz</text>
<line x1="313.4" y1="309.8" x2="313.4" y2="294" stroke="#20b040" stroke-width="1.3"/>
<path d="M311.6,295 L313.4,291.5 L315.2,295 Z" fill="#20b040"/>
<line x1="313.4" y1="309.8" x2="325.5" y2="310.8" stroke="#c02828" stroke-width="1.3"/>
<path d="M325,308.8 L328.5,311 L324.8,312.8 Z" fill="#c02828"/>
<line x1="313.4" y1="309.8" x2="306.5" y2="312.5" stroke="#2030c0" stroke-width="1.3"/>
<path d="M307.5,310.5 L304,313.5 L308.3,314 Z" fill="#2030c0"/>
<text x="314.6" y="298" font-size="5" fill="#20b040">y</text>
<text x="328.5" y="314" font-size="5" fill="#c02828">x</text>
<text x="302" y="316" font-size="5" fill="#2030c0">z</text>
<text x="4.1" y="182.7" font-size="16" font-weight="bold" fill="#000">b</text>
<circle cx="30.3" cy="223.65" r="1.9" fill="none" stroke="#5a8fcc" stroke-width="0.7"/>
<circle cx="31.4" cy="226.91" r="1.9" fill="none" stroke="#5a8fcc" stroke-width="0.7"/>
<circle cx="32.5" cy="230.14" r="1.9" fill="none" stroke="#5a8fcc" stroke-width="0.7"/>
<circle cx="33.6" cy="233.63" r="1.9" fill="none" stroke="#5a8fcc" stroke-width="0.7"/>
<circle cx="34.7" cy="236.2" r="1.9" fill="none" stroke="#5a8fcc" stroke-width="0.7"/>
<circle cx="35.8" cy="236.12" r="1.9" fill="none" stroke="#5a8fcc" stroke-width="0.7"/>
<circle cx="36.9" cy="235.37" r="1.9" fill="none" stroke="#5a8fcc" stroke-width="0.7"/>
<circle cx="38" cy="234.58" r="1.9" fill="none" stroke="#5a8fcc" stroke-width="0.7"/>
<circle cx="39.1" cy="234.05" r="1.9" fill="none" stroke="#5a8fcc" stroke-width="0.7"/>
<circle cx="40.2" cy="234.03" r="1.9" fill="none" stroke="#5a8fcc" stroke-width="0.7"/>
<circle cx="41.3" cy="234.26" r="1.9" fill="none" stroke="#5a8fcc" stroke-width="0.7"/>
<circle cx="42.4" cy="234.78" r="1.9" fill="none" stroke="#5a8fcc" stroke-width="0.7"/>
<circle cx="43.5" cy="235.68" r="1.9" fill="none" stroke="#5a8fcc" stroke-width="0.7"/>
<circle cx="44.6" cy="237.14" r="1.9" fill="none" stroke="#5a8fcc" stroke-width="0.7"/>
<circle cx="45.7" cy="239.39" r="1.9" fill="none" stroke="#5a8fcc" stroke-width="0.7"/>
<circle cx="46.8" cy="241.98" r="1.9" fill="none" stroke="#5a8fcc" stroke-width="0.7"/>
<circle cx="47.9" cy="244.34" r="1.9" fill="none" stroke="#5a8fcc" stroke-width="0.7"/>
<circle cx="49" cy="245.9" r="1.9" fill="none" stroke="#5a8fcc" stroke-width="0.7"/>
<circle cx="50.09" cy="246.58" r="1.9" fill="none" stroke="#5a8fcc" stroke-width="0.7"/>
<circle cx="51.19" cy="246.85" r="1.9" fill="none" stroke="#5a8fcc" stroke-width="0.7"/>
<circle cx="52.29" cy="247.16" r="1.9" fill="none" stroke="#5a8fcc" stroke-width="0.7"/>
<circle cx="53.39" cy="247.99" r="1.9" fill="none" stroke="#5a8fcc" stroke-width="0.7"/>
<circle cx="54.49" cy="249.27" r="1.9" fill="none" stroke="#5a8fcc" stroke-width="0.7"/>
<circle cx="55.59" cy="250.82" r="1.9" fill="none" stroke="#5a8fcc" stroke-width="0.7"/>
<circle cx="56.69" cy="252.63" r="1.9" fill="none" stroke="#5a8fcc" stroke-width="0.7"/>
<circle cx="57.79" cy="254.7" r="1.9" fill="none" stroke="#5a8fcc" stroke-width="0.7"/>
<circle cx="58.89" cy="257.3" r="1.9" fill="none" stroke="#5a8fcc" stroke-width="0.7"/>
<circle cx="59.99" cy="260.33" r="1.9" fill="none" stroke="#5a8fcc" stroke-width="0.7"/>
<circle cx="61.09" cy="263.34" r="1.9" fill="none" stroke="#5a8fcc" stroke-width="0.7"/>
<circle cx="62.19" cy="265.85" r="1.9" fill="none" stroke="#5a8fcc" stroke-width="0.7"/>
<circle cx="63.29" cy="267.7" r="1.9" fill="none" stroke="#5a8fcc" stroke-width="0.7"/>
<circle cx="64.39" cy="269.19" r="1.9" fill="none" stroke="#5a8fcc" stroke-width="0.7"/>
<circle cx="65.49" cy="270.24" r="1.9" fill="none" stroke="#5a8fcc" stroke-width="0.7"/>
<circle cx="66.59" cy="270.76" r="1.9" fill="none" stroke="#5a8fcc" stroke-width="0.7"/>
<circle cx="67.69" cy="270.73" r="1.9" fill="none" stroke="#5a8fcc" stroke-width="0.7"/>
<circle cx="68.79" cy="270.28" r="1.9" fill="none" stroke="#5a8fcc" stroke-width="0.7"/>
<circle cx="69.89" cy="269.24" r="1.9" fill="none" stroke="#5a8fcc" stroke-width="0.7"/>
<circle cx="70.99" cy="267.44" r="1.9" fill="none" stroke="#5a8fcc" stroke-width="0.7"/>
<circle cx="72.09" cy="264.53" r="1.9" fill="none" stroke="#5a8fcc" stroke-width="0.7"/>
<circle cx="73.19" cy="260.08" r="1.9" fill="none" stroke="#5a8fcc" stroke-width="0.7"/>
<circle cx="74.29" cy="254.95" r="1.9" fill="none" stroke="#5a8fcc" stroke-width="0.7"/>
<circle cx="75.39" cy="250.21" r="1.9" fill="none" stroke="#5a8fcc" stroke-width="0.7"/>
<circle cx="76.49" cy="246.85" r="1.9" fill="none" stroke="#5a8fcc" stroke-width="0.7"/>
<circle cx="77.59" cy="244.52" r="1.9" fill="none" stroke="#5a8fcc" stroke-width="0.7"/>
<circle cx="78.69" cy="243.1" r="1.9" fill="none" stroke="#5a8fcc" stroke-width="0.7"/>
<circle cx="79.79" cy="242.21" r="1.9" fill="none" stroke="#5a8fcc" stroke-width="0.7"/>
<circle cx="80.89" cy="241.49" r="1.9" fill="none" stroke="#5a8fcc" stroke-width="0.7"/>
<circle cx="81.99" cy="240.94" r="1.9" fill="none" stroke="#5a8fcc" stroke-width="0.7"/>
<circle cx="83.09" cy="240.58" r="1.9" fill="none" stroke="#5a8fcc" stroke-width="0.7"/>
<circle cx="84.19" cy="240.29" r="1.9" fill="none" stroke="#5a8fcc" stroke-width="0.7"/>
<circle cx="85.29" cy="240.05" r="1.9" fill="none" stroke="#5a8fcc" stroke-width="0.7"/>
<circle cx="86.39" cy="239.81" r="1.9" fill="none" stroke="#5a8fcc" stroke-width="0.7"/>
<circle cx="87.49" cy="239.56" r="1.9" fill="none" stroke="#5a8fcc" stroke-width="0.7"/>
<circle cx="88.58" cy="239.27" r="1.9" fill="none" stroke="#5a8fcc" stroke-width="0.7"/>
<circle cx="89.68" cy="238.9" r="1.9" fill="none" stroke="#5a8fcc" stroke-width="0.7"/>
<circle cx="90.78" cy="238.39" r="1.9" fill="none" stroke="#5a8fcc" stroke-width="0.7"/>
<circle cx="91.88" cy="237.75" r="1.9" fill="none" stroke="#5a8fcc" stroke-width="0.7"/>
<circle cx="92.98" cy="237.02" r="1.9" fill="none" stroke="#5a8fcc" stroke-width="0.7"/>
<circle cx="94.08" cy="236.26" r="1.9" fill="none" stroke="#5a8fcc" stroke-width="0.7"/>
<circle cx="95.18" cy="235.54" r="1.9" fill="none" stroke="#5a8fcc" stroke-width="0.7"/>
<circle cx="96.28" cy="234.93" r="1.9" fill="none" stroke="#5a8fcc" stroke-width="0.7"/>
<circle cx="97.38" cy="234.48" r="1.9" fill="none" stroke="#5a8fcc" stroke-width="0.7"/>
<circle cx="98.48" cy="234.26" r="1.9" fill="none" stroke="#5a8fcc" stroke-width="0.7"/>
<circle cx="99.58" cy="234.34" r="1.9" fill="none" stroke="#5a8fcc" stroke-width="0.7"/>
<circle cx="100.68" cy="234.82" r="1.9" fill="none" stroke="#5a8fcc" stroke-width="0.7"/>
<circle cx="101.78" cy="235.6" r="1.9" fill="none" stroke="#5a8fcc" stroke-width="0.7"/>
<circle cx="102.88" cy="236.55" r="1.9" fill="none" stroke="#5a8fcc" stroke-width="0.7"/>
<circle cx="103.98" cy="237.57" r="1.9" fill="none" stroke="#5a8fcc" stroke-width="0.7"/>
<circle cx="105.08" cy="238.54" r="1.9" fill="none" stroke="#5a8fcc" stroke-width="0.7"/>
<circle cx="106.18" cy="239.34" r="1.9" fill="none" stroke="#5a8fcc" stroke-width="0.7"/>
<circle cx="107.28" cy="239.78" r="1.9" fill="none" stroke="#5a8fcc" stroke-width="0.7"/>
<circle cx="108.38" cy="239.64" r="1.9" fill="none" stroke="#5a8fcc" stroke-width="0.7"/>
<circle cx="109.48" cy="238.66" r="1.9" fill="none" stroke="#5a8fcc" stroke-width="0.7"/>
<circle cx="110.58" cy="236.84" r="1.9" fill="none" stroke="#5a8fcc" stroke-width="0.7"/>
<circle cx="111.68" cy="234.41" r="1.9" fill="none" stroke="#5a8fcc" stroke-width="0.7"/>
<circle cx="112.78" cy="231.81" r="1.9" fill="none" stroke="#5a8fcc" stroke-width="0.7"/>
<circle cx="113.88" cy="229.65" r="1.9" fill="none" stroke="#5a8fcc" stroke-width="0.7"/>
<circle cx="114.98" cy="228.45" r="1.9" fill="none" stroke="#5a8fcc" stroke-width="0.7"/>
<circle cx="116.08" cy="228.03" r="1.9" fill="none" stroke="#5a8fcc" stroke-width="0.7"/>
<circle cx="117.18" cy="228.13" r="1.9" fill="none" stroke="#5a8fcc" stroke-width="0.7"/>
<circle cx="118.28" cy="228.57" r="1.9" fill="none" stroke="#5a8fcc" stroke-width="0.7"/>
<circle cx="119.38" cy="229.21" r="1.9" fill="none" stroke="#5a8fcc" stroke-width="0.7"/>
<circle cx="120.48" cy="229.84" r="1.9" fill="none" stroke="#5a8fcc" stroke-width="0.7"/>
<circle cx="121.58" cy="230.68" r="1.9" fill="none" stroke="#5a8fcc" stroke-width="0.7"/>
<circle cx="122.68" cy="231.89" r="1.9" fill="none" stroke="#5a8fcc" stroke-width="0.7"/>
<circle cx="123.78" cy="233.54" r="1.9" fill="none" stroke="#5a8fcc" stroke-width="0.7"/>
<circle cx="124.88" cy="236.25" r="1.9" fill="none" stroke="#5a8fcc" stroke-width="0.7"/>
<circle cx="125.98" cy="240.95" r="1.9" fill="none" stroke="#5a8fcc" stroke-width="0.7"/>
<circle cx="127.07" cy="249.26" r="1.9" fill="none" stroke="#5a8fcc" stroke-width="0.7"/>
<circle cx="128.17" cy="269.78" r="1.9" fill="none" stroke="#5a8fcc" stroke-width="0.7"/>
<circle cx="129.27" cy="276.09" r="1.9" fill="none" stroke="#5a8fcc" stroke-width="0.7"/>
<circle cx="130.37" cy="257.7" r="1.9" fill="none" stroke="#5a8fcc" stroke-width="0.7"/>
<circle cx="131.47" cy="246.6" r="1.9" fill="none" stroke="#5a8fcc" stroke-width="0.7"/>
<circle cx="132.57" cy="239.62" r="1.9" fill="none" stroke="#5a8fcc" stroke-width="0.7"/>
<circle cx="133.67" cy="233.06" r="1.9" fill="none" stroke="#5a8fcc" stroke-width="0.7"/>
<circle cx="134.77" cy="230.65" r="1.9" fill="none" stroke="#5a8fcc" stroke-width="0.7"/>
<circle cx="135.87" cy="229" r="1.9" fill="none" stroke="#5a8fcc" stroke-width="0.7"/>
<circle cx="136.97" cy="227.64" r="1.9" fill="none" stroke="#5a8fcc" stroke-width="0.7"/>
<circle cx="138.07" cy="226.48" r="1.9" fill="none" stroke="#5a8fcc" stroke-width="0.7"/>
<circle cx="139.17" cy="225.52" r="1.9" fill="none" stroke="#5a8fcc" stroke-width="0.7"/>
<circle cx="140.27" cy="224.8" r="1.9" fill="none" stroke="#5a8fcc" stroke-width="0.7"/>
<circle cx="141.37" cy="224.45" r="1.9" fill="none" stroke="#5a8fcc" stroke-width="0.7"/>
<circle cx="142.47" cy="224.43" r="1.9" fill="none" stroke="#5a8fcc" stroke-width="0.7"/>
<circle cx="143.57" cy="224.7" r="1.9" fill="none" stroke="#5a8fcc" stroke-width="0.7"/>
<circle cx="144.67" cy="225.16" r="1.9" fill="none" stroke="#5a8fcc" stroke-width="0.7"/>
<circle cx="145.77" cy="225.72" r="1.9" fill="none" stroke="#5a8fcc" stroke-width="0.7"/>
<circle cx="146.87" cy="226.46" r="1.9" fill="none" stroke="#5a8fcc" stroke-width="0.7"/>
<circle cx="147.97" cy="227.46" r="1.9" fill="none" stroke="#5a8fcc" stroke-width="0.7"/>
<circle cx="149.07" cy="228.56" r="1.9" fill="none" stroke="#5a8fcc" stroke-width="0.7"/>
<circle cx="150.17" cy="229.63" r="1.9" fill="none" stroke="#5a8fcc" stroke-width="0.7"/>
<circle cx="151.27" cy="230.55" r="1.9" fill="none" stroke="#5a8fcc" stroke-width="0.7"/>
<circle cx="152.37" cy="231.34" r="1.9" fill="none" stroke="#5a8fcc" stroke-width="0.7"/>
<circle cx="153.47" cy="232.09" r="1.9" fill="none" stroke="#5a8fcc" stroke-width="0.7"/>
<circle cx="154.57" cy="232.81" r="1.9" fill="none" stroke="#5a8fcc" stroke-width="0.7"/>
<circle cx="155.67" cy="233.52" r="1.9" fill="none" stroke="#5a8fcc" stroke-width="0.7"/>
<circle cx="156.77" cy="234.21" r="1.9" fill="none" stroke="#5a8fcc" stroke-width="0.7"/>
<circle cx="157.87" cy="234.91" r="1.9" fill="none" stroke="#5a8fcc" stroke-width="0.7"/>
<circle cx="30.3" cy="222.04" r="1.9" fill="none" stroke="#a8244e" stroke-width="0.7"/>
<circle cx="31.22" cy="223.89" r="1.9" fill="none" stroke="#a8244e" stroke-width="0.7"/>
<circle cx="32.13" cy="225.87" r="1.9" fill="none" stroke="#a8244e" stroke-width="0.7"/>
<circle cx="33.05" cy="227.65" r="1.9" fill="none" stroke="#a8244e" stroke-width="0.7"/>
<circle cx="33.97" cy="229.06" r="1.9" fill="none" stroke="#a8244e" stroke-width="0.7"/>
<circle cx="34.88" cy="230" r="1.9" fill="none" stroke="#a8244e" stroke-width="0.7"/>
<circle cx="35.8" cy="230.32" r="1.9" fill="none" stroke="#a8244e" stroke-width="0.7"/>
<circle cx="36.71" cy="229.76" r="1.9" fill="none" stroke="#a8244e" stroke-width="0.7"/>
<circle cx="37.63" cy="228.67" r="1.9" fill="none" stroke="#a8244e" stroke-width="0.7"/>
<circle cx="38.55" cy="227.24" r="1.9" fill="none" stroke="#a8244e" stroke-width="0.7"/>
<circle cx="39.46" cy="225.66" r="1.9" fill="none" stroke="#a8244e" stroke-width="0.7"/>
<circle cx="40.38" cy="224.04" r="1.9" fill="none" stroke="#a8244e" stroke-width="0.7"/>
<circle cx="41.3" cy="222.5" r="1.9" fill="none" stroke="#a8244e" stroke-width="0.7"/>
<circle cx="42.21" cy="221.22" r="1.9" fill="none" stroke="#a8244e" stroke-width="0.7"/>
<circle cx="43.13" cy="220.43" r="1.9" fill="none" stroke="#a8244e" stroke-width="0.7"/>
<circle cx="44.05" cy="220.62" r="1.9" fill="none" stroke="#a8244e" stroke-width="0.7"/>
<circle cx="44.96" cy="222.07" r="1.9" fill="none" stroke="#a8244e" stroke-width="0.7"/>
<circle cx="45.88" cy="224.12" r="1.9" fill="none" stroke="#a8244e" stroke-width="0.7"/>
<circle cx="46.8" cy="225.39" r="1.9" fill="none" stroke="#a8244e" stroke-width="0.7"/>
<circle cx="47.71" cy="225.72" r="1.9" fill="none" stroke="#a8244e" stroke-width="0.7"/>
<circle cx="48.63" cy="225.37" r="1.9" fill="none" stroke="#a8244e" stroke-width="0.7"/>
<circle cx="49.54" cy="224.74" r="1.9" fill="none" stroke="#a8244e" stroke-width="0.7"/>
<circle cx="50.46" cy="223.93" r="1.9" fill="none" stroke="#a8244e" stroke-width="0.7"/>
<circle cx="51.38" cy="223.05" r="1.9" fill="none" stroke="#a8244e" stroke-width="0.7"/>
<circle cx="52.29" cy="222.15" r="1.9" fill="none" stroke="#a8244e" stroke-width="0.7"/>
<circle cx="53.21" cy="221.3" r="1.9" fill="none" stroke="#a8244e" stroke-width="0.7"/>
<circle cx="54.13" cy="220.53" r="1.9" fill="none" stroke="#a8244e" stroke-width="0.7"/>
<circle cx="55.04" cy="219.9" r="1.9" fill="none" stroke="#a8244e" stroke-width="0.7"/>
<circle cx="55.96" cy="219.46" r="1.9" fill="none" stroke="#a8244e" stroke-width="0.7"/>
<circle cx="56.88" cy="219.28" r="1.9" fill="none" stroke="#a8244e" stroke-width="0.7"/>
<circle cx="57.79" cy="219.49" r="1.9" fill="none" stroke="#a8244e" stroke-width="0.7"/>
<circle cx="58.71" cy="220.02" r="1.9" fill="none" stroke="#a8244e" stroke-width="0.7"/>
<circle cx="59.63" cy="220.78" r="1.9" fill="none" stroke="#a8244e" stroke-width="0.7"/>
<circle cx="60.54" cy="221.68" r="1.9" fill="none" stroke="#a8244e" stroke-width="0.7"/>
<circle cx="61.46" cy="222.66" r="1.9" fill="none" stroke="#a8244e" stroke-width="0.7"/>
<circle cx="62.37" cy="223.65" r="1.9" fill="none" stroke="#a8244e" stroke-width="0.7"/>
<circle cx="63.29" cy="224.54" r="1.9" fill="none" stroke="#a8244e" stroke-width="0.7"/>
<circle cx="64.21" cy="225.25" r="1.9" fill="none" stroke="#a8244e" stroke-width="0.7"/>
<circle cx="65.12" cy="225.68" r="1.9" fill="none" stroke="#a8244e" stroke-width="0.7"/>
<circle cx="66.04" cy="225.72" r="1.9" fill="none" stroke="#a8244e" stroke-width="0.7"/>
<circle cx="66.96" cy="225.16" r="1.9" fill="none" stroke="#a8244e" stroke-width="0.7"/>
<circle cx="67.87" cy="224.17" r="1.9" fill="none" stroke="#a8244e" stroke-width="0.7"/>
<circle cx="68.79" cy="222.82" r="1.9" fill="none" stroke="#a8244e" stroke-width="0.7"/>
<circle cx="69.71" cy="221.18" r="1.9" fill="none" stroke="#a8244e" stroke-width="0.7"/>
<circle cx="70.62" cy="219.39" r="1.9" fill="none" stroke="#a8244e" stroke-width="0.7"/>
<circle cx="71.54" cy="217.58" r="1.9" fill="none" stroke="#a8244e" stroke-width="0.7"/>
<circle cx="72.46" cy="215.91" r="1.9" fill="none" stroke="#a8244e" stroke-width="0.7"/>
<circle cx="73.37" cy="214.68" r="1.9" fill="none" stroke="#a8244e" stroke-width="0.7"/>
<circle cx="74.29" cy="214.12" r="1.9" fill="none" stroke="#a8244e" stroke-width="0.7"/>
<circle cx="75.2" cy="214.41" r="1.9" fill="none" stroke="#a8244e" stroke-width="0.7"/>
<circle cx="76.12" cy="215.3" r="1.9" fill="none" stroke="#a8244e" stroke-width="0.7"/>
<circle cx="77.04" cy="215.83" r="1.9" fill="none" stroke="#a8244e" stroke-width="0.7"/>
<circle cx="77.95" cy="216.17" r="1.9" fill="none" stroke="#a8244e" stroke-width="0.7"/>
<circle cx="78.87" cy="216.53" r="1.9" fill="none" stroke="#a8244e" stroke-width="0.7"/>
<circle cx="79.79" cy="216.9" r="1.9" fill="none" stroke="#a8244e" stroke-width="0.7"/>
<circle cx="80.7" cy="217.27" r="1.9" fill="none" stroke="#a8244e" stroke-width="0.7"/>
<circle cx="81.62" cy="217.61" r="1.9" fill="none" stroke="#a8244e" stroke-width="0.7"/>
<circle cx="82.54" cy="217.92" r="1.9" fill="none" stroke="#a8244e" stroke-width="0.7"/>
<circle cx="83.45" cy="218.18" r="1.9" fill="none" stroke="#a8244e" stroke-width="0.7"/>
<circle cx="84.37" cy="218.36" r="1.9" fill="none" stroke="#a8244e" stroke-width="0.7"/>
<circle cx="85.29" cy="218.35" r="1.9" fill="none" stroke="#a8244e" stroke-width="0.7"/>
<circle cx="86.2" cy="218.12" r="1.9" fill="none" stroke="#a8244e" stroke-width="0.7"/>
<circle cx="87.12" cy="217.75" r="1.9" fill="none" stroke="#a8244e" stroke-width="0.7"/>
<circle cx="88.03" cy="217.43" r="1.9" fill="none" stroke="#a8244e" stroke-width="0.7"/>
<circle cx="88.95" cy="217.32" r="1.9" fill="none" stroke="#a8244e" stroke-width="0.7"/>
<circle cx="89.87" cy="217.44" r="1.9" fill="none" stroke="#a8244e" stroke-width="0.7"/>
<circle cx="90.78" cy="217.85" r="1.9" fill="none" stroke="#a8244e" stroke-width="0.7"/>
<circle cx="91.7" cy="218.43" r="1.9" fill="none" stroke="#a8244e" stroke-width="0.7"/>
<circle cx="92.62" cy="219.13" r="1.9" fill="none" stroke="#a8244e" stroke-width="0.7"/>
<circle cx="93.53" cy="219.85" r="1.9" fill="none" stroke="#a8244e" stroke-width="0.7"/>
<circle cx="94.45" cy="220.54" r="1.9" fill="none" stroke="#a8244e" stroke-width="0.7"/>
<circle cx="95.37" cy="221.16" r="1.9" fill="none" stroke="#a8244e" stroke-width="0.7"/>
<circle cx="96.28" cy="221.65" r="1.9" fill="none" stroke="#a8244e" stroke-width="0.7"/>
<circle cx="97.2" cy="221.96" r="1.9" fill="none" stroke="#a8244e" stroke-width="0.7"/>
<circle cx="98.12" cy="222.04" r="1.9" fill="none" stroke="#a8244e" stroke-width="0.7"/>
<circle cx="99.03" cy="221.77" r="1.9" fill="none" stroke="#a8244e" stroke-width="0.7"/>
<circle cx="99.95" cy="221.24" r="1.9" fill="none" stroke="#a8244e" stroke-width="0.7"/>
<circle cx="100.86" cy="220.52" r="1.9" fill="none" stroke="#a8244e" stroke-width="0.7"/>
<circle cx="101.78" cy="219.65" r="1.9" fill="none" stroke="#a8244e" stroke-width="0.7"/>
<circle cx="102.7" cy="218.73" r="1.9" fill="none" stroke="#a8244e" stroke-width="0.7"/>
<circle cx="103.61" cy="217.81" r="1.9" fill="none" stroke="#a8244e" stroke-width="0.7"/>
<circle cx="104.53" cy="216.97" r="1.9" fill="none" stroke="#a8244e" stroke-width="0.7"/>
<circle cx="105.45" cy="216.29" r="1.9" fill="none" stroke="#a8244e" stroke-width="0.7"/>
<circle cx="106.36" cy="215.83" r="1.9" fill="none" stroke="#a8244e" stroke-width="0.7"/>
<circle cx="107.28" cy="215.71" r="1.9" fill="none" stroke="#a8244e" stroke-width="0.7"/>
<circle cx="108.2" cy="215.81" r="1.9" fill="none" stroke="#a8244e" stroke-width="0.7"/>
<circle cx="109.11" cy="216.11" r="1.9" fill="none" stroke="#a8244e" stroke-width="0.7"/>
<circle cx="110.03" cy="216.51" r="1.9" fill="none" stroke="#a8244e" stroke-width="0.7"/>
<circle cx="110.95" cy="216.91" r="1.9" fill="none" stroke="#a8244e" stroke-width="0.7"/>
<circle cx="111.86" cy="217.23" r="1.9" fill="none" stroke="#a8244e" stroke-width="0.7"/>
<circle cx="112.78" cy="217.34" r="1.9" fill="none" stroke="#a8244e" stroke-width="0.7"/>
<circle cx="113.69" cy="217.21" r="1.9" fill="none" stroke="#a8244e" stroke-width="0.7"/>
<circle cx="114.61" cy="216.69" r="1.9" fill="none" stroke="#a8244e" stroke-width="0.7"/>
<circle cx="115.53" cy="215.89" r="1.9" fill="none" stroke="#a8244e" stroke-width="0.7"/>
<circle cx="116.44" cy="214.9" r="1.9" fill="none" stroke="#a8244e" stroke-width="0.7"/>
<circle cx="117.36" cy="213.82" r="1.9" fill="none" stroke="#a8244e" stroke-width="0.7"/>
<circle cx="118.28" cy="212.75" r="1.9" fill="none" stroke="#a8244e" stroke-width="0.7"/>
<circle cx="119.19" cy="211.8" r="1.9" fill="none" stroke="#a8244e" stroke-width="0.7"/>
<circle cx="120.11" cy="211.1" r="1.9" fill="none" stroke="#a8244e" stroke-width="0.7"/>
<circle cx="121.03" cy="210.77" r="1.9" fill="none" stroke="#a8244e" stroke-width="0.7"/>
<circle cx="121.94" cy="211.09" r="1.9" fill="none" stroke="#a8244e" stroke-width="0.7"/>
<circle cx="122.86" cy="211.98" r="1.9" fill="none" stroke="#a8244e" stroke-width="0.7"/>
<circle cx="123.78" cy="213.28" r="1.9" fill="none" stroke="#a8244e" stroke-width="0.7"/>
<circle cx="124.69" cy="214.67" r="1.9" fill="none" stroke="#a8244e" stroke-width="0.7"/>
<circle cx="125.61" cy="215.84" r="1.9" fill="none" stroke="#a8244e" stroke-width="0.7"/>
<circle cx="126.52" cy="216.47" r="1.9" fill="none" stroke="#a8244e" stroke-width="0.7"/>
<circle cx="127.44" cy="216.33" r="1.9" fill="none" stroke="#a8244e" stroke-width="0.7"/>
<circle cx="128.36" cy="215.43" r="1.9" fill="none" stroke="#a8244e" stroke-width="0.7"/>
<circle cx="129.27" cy="214.08" r="1.9" fill="none" stroke="#a8244e" stroke-width="0.7"/>
<circle cx="130.19" cy="212.51" r="1.9" fill="none" stroke="#a8244e" stroke-width="0.7"/>
<circle cx="131.11" cy="210.99" r="1.9" fill="none" stroke="#a8244e" stroke-width="0.7"/>
<circle cx="132.02" cy="209.77" r="1.9" fill="none" stroke="#a8244e" stroke-width="0.7"/>
<circle cx="132.94" cy="209.05" r="1.9" fill="none" stroke="#a8244e" stroke-width="0.7"/>
<circle cx="133.86" cy="209.06" r="1.9" fill="none" stroke="#a8244e" stroke-width="0.7"/>
<circle cx="134.77" cy="209.82" r="1.9" fill="none" stroke="#a8244e" stroke-width="0.7"/>
<circle cx="135.69" cy="211.09" r="1.9" fill="none" stroke="#a8244e" stroke-width="0.7"/>
<circle cx="136.61" cy="212.62" r="1.9" fill="none" stroke="#a8244e" stroke-width="0.7"/>
<circle cx="137.52" cy="214.13" r="1.9" fill="none" stroke="#a8244e" stroke-width="0.7"/>
<circle cx="138.44" cy="215.42" r="1.9" fill="none" stroke="#a8244e" stroke-width="0.7"/>
<circle cx="139.35" cy="216.23" r="1.9" fill="none" stroke="#a8244e" stroke-width="0.7"/>
<circle cx="140.27" cy="216.52" r="1.9" fill="none" stroke="#a8244e" stroke-width="0.7"/>
<circle cx="141.19" cy="216.11" r="1.9" fill="none" stroke="#a8244e" stroke-width="0.7"/>
<circle cx="142.1" cy="215.31" r="1.9" fill="none" stroke="#a8244e" stroke-width="0.7"/>
<circle cx="143.02" cy="214.24" r="1.9" fill="none" stroke="#a8244e" stroke-width="0.7"/>
<circle cx="143.94" cy="212.99" r="1.9" fill="none" stroke="#a8244e" stroke-width="0.7"/>
<circle cx="144.85" cy="211.66" r="1.9" fill="none" stroke="#a8244e" stroke-width="0.7"/>
<circle cx="145.77" cy="210.34" r="1.9" fill="none" stroke="#a8244e" stroke-width="0.7"/>
<circle cx="146.69" cy="209.11" r="1.9" fill="none" stroke="#a8244e" stroke-width="0.7"/>
<circle cx="147.6" cy="208.13" r="1.9" fill="none" stroke="#a8244e" stroke-width="0.7"/>
<circle cx="148.52" cy="207.55" r="1.9" fill="none" stroke="#a8244e" stroke-width="0.7"/>
<circle cx="149.44" cy="207.78" r="1.9" fill="none" stroke="#a8244e" stroke-width="0.7"/>
<circle cx="150.35" cy="208.93" r="1.9" fill="none" stroke="#a8244e" stroke-width="0.7"/>
<circle cx="151.27" cy="210.89" r="1.9" fill="none" stroke="#a8244e" stroke-width="0.7"/>
<circle cx="152.18" cy="212.79" r="1.9" fill="none" stroke="#a8244e" stroke-width="0.7"/>
<circle cx="153.1" cy="213.76" r="1.9" fill="none" stroke="#a8244e" stroke-width="0.7"/>
<circle cx="154.02" cy="213.87" r="1.9" fill="none" stroke="#a8244e" stroke-width="0.7"/>
<circle cx="154.93" cy="213.65" r="1.9" fill="none" stroke="#a8244e" stroke-width="0.7"/>
<circle cx="155.85" cy="213.26" r="1.9" fill="none" stroke="#a8244e" stroke-width="0.7"/>
<circle cx="156.77" cy="212.76" r="1.9" fill="none" stroke="#a8244e" stroke-width="0.7"/>
<circle cx="157.68" cy="212.2" r="1.9" fill="none" stroke="#a8244e" stroke-width="0.7"/>
<circle cx="158.6" cy="211.69" r="1.9" fill="none" stroke="#a8244e" stroke-width="0.7"/>
<polyline points="30.3,222.5 30.46,223.31 30.66,224.44 30.89,225.8 31.16,227.31 31.45,228.9 31.75,230.48 32.07,231.97 32.4,233.3 32.72,234.39 33.05,235.15 33.37,235.62 33.71,235.9 34.05,236 34.41,235.96 34.77,235.8 35.14,235.54 35.52,235.2 35.91,234.82 36.31,234.41 36.72,234 37.14,233.47 37.59,232.73 38.05,231.85 38.53,230.88 39.01,229.9 39.49,228.98 39.96,228.17 40.42,227.54 40.87,227.16 41.3,227.1 41.7,227.33 42.07,227.76 42.44,228.39 42.79,229.18 43.13,230.12 43.47,231.18 43.82,232.36 44.19,233.61 44.56,234.93 44.96,236.3 45.38,237.92 45.82,239.94 46.27,242.23 46.73,244.65 47.2,247.08 47.67,249.38 48.14,251.43 48.61,253.08 49.08,254.22 49.54,254.7 50.01,254.37 50.48,253.28 50.95,251.61 51.42,249.53 51.89,247.22 52.36,244.87 52.82,242.66 53.27,240.75 53.71,239.34 54.13,238.6 54.53,238.39 54.92,238.43 55.29,238.74 55.66,239.3 56.02,240.11 56.37,241.17 56.72,242.47 57.07,244.01 57.43,245.79 57.79,247.8 58.16,250.46 58.51,253.99 58.86,258.13 59.22,262.6 59.57,267.13 59.93,271.45 60.29,275.29 60.67,278.36 61.05,280.41 61.46,281.15 61.88,280.29 62.32,277.93 62.77,274.44 63.23,270.16 63.69,265.45 64.16,260.67 64.64,256.15 65.11,252.27 65.58,249.37 66.04,247.8 66.49,247.71 66.94,248.81 67.39,250.82 67.83,253.43 68.27,256.35 68.72,259.3 69.18,261.99 69.65,264.11 70.13,265.38 70.62,265.51 71.14,264.4 71.68,262.31 72.23,259.45 72.8,256.06 73.37,252.36 73.94,248.56 74.51,244.91 75.07,241.61 75.6,238.89 76.12,236.99 76.62,235.79 77.11,234.99 77.59,234.55 78.06,234.42 78.53,234.53 78.98,234.84 79.43,235.3 79.86,235.84 80.29,236.42 80.7,236.99 81.1,237.72 81.47,238.78 81.81,240.06 82.15,241.49 82.48,242.96 82.82,244.38 83.16,245.67 83.53,246.73 83.93,247.47 84.37,247.8 84.84,247.69 85.35,247.22 85.88,246.45 86.44,245.47 87,244.34 87.58,243.12 88.16,241.89 88.74,240.72 89.31,239.68 89.87,238.83 90.43,238.06 91,237.23 91.58,236.37 92.16,235.53 92.73,234.76 93.3,234.09 93.85,233.57 94.38,233.24 94.89,233.14 95.37,233.31 95.8,233.91 96.19,235 96.54,236.42 96.88,238.07 97.2,239.81 97.52,241.5 97.86,243.02 98.21,244.25 98.6,245.04 99.03,245.27 99.51,244.85 100.03,243.88 100.58,242.47 101.14,240.77 101.72,238.89 102.31,236.97 102.89,235.14 103.46,233.52 104.01,232.26 104.53,231.47 105.04,231.08 105.55,230.9 106.06,230.91 106.56,231.11 107.05,231.47 107.52,231.98 107.97,232.62 108.39,233.37 108.77,234.22 109.11,235.15 109.4,236.36 109.64,237.98 109.84,239.89 110,241.96 110.14,244.06 110.28,246.08 110.42,247.89 110.56,249.35 110.74,250.36 110.95,250.79 111.17,250.59 111.39,249.87 111.62,248.73 111.85,247.26 112.09,245.56 112.35,243.72 112.64,241.85 112.95,240.04 113.3,238.39 113.69,236.99 114.14,235.7 114.65,234.34 115.2,232.95 115.78,231.58 116.39,230.26 116.99,229.04 117.59,227.96 118.17,227.05 118.71,226.37 119.19,225.95 119.64,225.64 120.05,225.32 120.44,225.06 120.81,224.95 121.17,225.04 121.51,225.44 121.85,226.2 122.18,227.41 122.52,229.14 122.86,231.47 123.2,234.88 123.53,239.56 123.86,245.14 124.18,251.27 124.49,257.57 124.81,263.7 125.12,269.27 125.43,273.93 125.75,277.32 126.07,279.08 126.38,279.09 126.69,277.68 126.99,275.11 127.28,271.66 127.58,267.61 127.89,263.22 128.21,258.77 128.54,254.54 128.9,250.79 129.27,247.8 129.67,245.33 130.07,242.98 130.49,240.74 130.92,238.61 131.36,236.62 131.83,234.75 132.3,233.02 132.8,231.44 133.32,230 133.86,228.71 134.43,227.6 135.04,226.69 135.68,225.94 136.33,225.33 137.01,224.86 137.68,224.49 138.36,224.2 139.02,223.98 139.66,223.8 140.27,223.65 140.85,223.53 141.4,223.49 141.93,223.51 142.45,223.6 142.96,223.76 143.48,224 144.01,224.32 144.57,224.71 145.15,225.17 145.77,225.72 146.44,226.46 147.15,227.45 147.89,228.61 148.66,229.88 149.44,231.17 150.21,232.41 150.98,233.53 151.72,234.45 152.43,235.09 153.1,235.38 153.75,235.27 154.41,234.81 155.06,234.07 155.7,233.14 156.31,232.07 156.88,230.96 157.41,229.88 157.88,228.9 158.28,228.1 158.6,227.56" fill="none" stroke="#5a8fcc" stroke-width="0.9" stroke-linejoin="round"/>
<polyline points="30.3,219.51 30.62,220.08 31.02,220.93 31.49,221.96 32.02,223.1 32.59,224.27 33.2,225.39 33.84,226.38 34.49,227.16 35.15,227.66 35.8,227.79 36.47,227.47 37.19,226.73 37.95,225.68 38.73,224.41 39.52,223.03 40.31,221.64 41.07,220.32 41.81,219.2 42.5,218.36 43.13,217.9 43.68,217.87 44.15,218.17 44.56,218.74 44.94,219.49 45.31,220.33 45.68,221.19 46.09,221.99 46.55,222.64 47.08,223.07 47.71,223.19 48.44,222.96 49.25,222.45 50.12,221.71 51.05,220.84 52.01,219.9 52.99,218.96 53.98,218.1 54.97,217.4 55.94,216.93 56.88,216.75 57.8,216.95 58.74,217.49 59.68,218.29 60.63,219.24 61.57,220.26 62.51,221.25 63.43,222.14 64.33,222.81 65.2,223.2 66.04,223.19 66.86,222.74 67.68,221.91 68.49,220.78 69.28,219.45 70.05,218 70.79,216.53 71.5,215.12 72.17,213.86 72.8,212.84 73.37,212.15 73.87,211.77 74.28,211.58 74.63,211.56 74.93,211.67 75.2,211.88 75.48,212.16 75.78,212.47 76.13,212.79 76.54,213.07 77.04,213.3 77.63,213.51 78.3,213.77 79.03,214.07 79.79,214.38 80.59,214.69 81.39,215 82.19,215.28 82.96,215.52 83.69,215.71 84.37,215.83 84.98,215.85 85.54,215.78 86.07,215.63 86.57,215.45 87.06,215.24 87.56,215.05 88.07,214.89 88.62,214.8 89.21,214.79 89.87,214.91 90.58,215.2 91.34,215.65 92.14,216.22 92.97,216.87 93.82,217.54 94.68,218.18 95.55,218.75 96.42,219.19 97.28,219.46 98.12,219.51 98.94,219.29 99.78,218.84 100.62,218.2 101.46,217.44 102.3,216.61 103.13,215.76 103.96,214.95 104.77,214.23 105.58,213.66 106.36,213.3 107.13,213.17 107.89,213.22 108.63,213.4 109.36,213.68 110.09,214 110.81,214.33 111.52,214.6 112.24,214.78 112.97,214.82 113.69,214.68 114.43,214.3 115.18,213.7 115.94,212.94 116.69,212.08 117.45,211.19 118.19,210.31 118.93,209.52 119.65,208.87 120.35,208.43 121.03,208.24 121.68,208.38 122.3,208.82 122.9,209.49 123.49,210.3 124.06,211.19 124.63,212.07 125.21,212.86 125.78,213.5 126.38,213.9 126.98,213.99 127.6,213.7 128.23,213.08 128.86,212.22 129.49,211.19 130.13,210.08 130.78,208.98 131.43,207.98 132.08,207.16 132.74,206.6 133.4,206.4 134.06,206.62 134.72,207.21 135.38,208.08 136.05,209.14 136.72,210.28 137.4,211.42 138.09,212.45 138.8,213.29 139.53,213.83 140.27,213.99 141.06,213.7 141.89,213.01 142.76,212.04 143.65,210.87 144.54,209.59 145.42,208.31 146.27,207.12 147.08,206.11 147.84,205.38 148.52,205.02 149.12,205.06 149.66,205.42 150.13,206.03 150.57,206.81 150.98,207.69 151.38,208.61 151.77,209.5 152.18,210.28 152.62,210.88 153.1,211.23 153.64,211.35 154.23,211.31 154.86,211.15 155.5,210.9 156.14,210.58 156.75,210.24 157.33,209.89 157.84,209.57 158.27,209.32 158.6,209.16" fill="none" stroke="#e8302c" stroke-width="1.15" stroke-linejoin="round"/>
<text x="39.5" y="193" font-size="6.6" fill="#222">(Metal surface)</text>
<text x="39.5" y="200.8" font-size="6.6" fill="#222">(Absorber)</text>
<line x1="86" y1="190.3" x2="101.5" y2="190.3" stroke="#e03a3a" stroke-width="1"/>
<line x1="86" y1="198.3" x2="101.5" y2="198.3" stroke="#5a8fcc" stroke-width="1"/>
<text x="102.8" y="192.5" font-size="6.6" fill="#222">Sim.</text>
<text x="102.8" y="200.5" font-size="6.6" fill="#222">Sim.</text>
<circle cx="124" cy="190.3" r="1.9" fill="none" stroke="#a8244e" stroke-width="0.8"/>
<circle cx="124" cy="198.3" r="1.9" fill="none" stroke="#5a8fcc" stroke-width="0.8"/>
<text x="131" y="192.5" font-size="6.6" fill="#222">Meas.</text>
<text x="131" y="200.5" font-size="6.6" fill="#222">Meas.</text>
<line x1="30.3" y1="185.8" x2="158.6" y2="185.8" stroke="#c4c4c4" stroke-width="1.4"/>
<line x1="158.6" y1="185.8" x2="158.6" y2="289.3" stroke="#7a7a7a" stroke-width="1.1"/>
<line x1="30.3" y1="185.8" x2="30.3" y2="289.3" stroke="#4a4a4a" stroke-width="1.1"/>
<line x1="30.3" y1="289.3" x2="158.6" y2="289.3" stroke="#5a5a5a" stroke-width="1.1"/>
<line x1="28.5" y1="185.7" x2="30.3" y2="185.7" stroke="#444" stroke-width="0.9"/>
<text x="27.5" y="188.65" font-size="8.2" text-anchor="end" fill="#222">15</text>
<line x1="28.5" y1="197.2" x2="30.3" y2="197.2" stroke="#444" stroke-width="0.9"/>
<text x="27.5" y="200.15" font-size="8.2" text-anchor="end" fill="#222">10</text>
<line x1="28.5" y1="208.7" x2="30.3" y2="208.7" stroke="#444" stroke-width="0.9"/>
<text x="27.5" y="211.65" font-size="8.2" text-anchor="end" fill="#222">5</text>
<line x1="28.5" y1="220.2" x2="30.3" y2="220.2" stroke="#444" stroke-width="0.9"/>
<text x="27.5" y="223.15" font-size="8.2" text-anchor="end" fill="#222">0</text>
<line x1="28.5" y1="231.7" x2="30.3" y2="231.7" stroke="#444" stroke-width="0.9"/>
<text x="27.5" y="234.65" font-size="8.2" text-anchor="end" fill="#222">-5</text>
<line x1="28.5" y1="243.2" x2="30.3" y2="243.2" stroke="#444" stroke-width="0.9"/>
<text x="27.5" y="246.15" font-size="8.2" text-anchor="end" fill="#222">-10</text>
<line x1="28.5" y1="254.7" x2="30.3" y2="254.7" stroke="#444" stroke-width="0.9"/>
<text x="27.5" y="257.65" font-size="8.2" text-anchor="end" fill="#222">-15</text>
<line x1="28.5" y1="266.2" x2="30.3" y2="266.2" stroke="#444" stroke-width="0.9"/>
<text x="27.5" y="269.15" font-size="8.2" text-anchor="end" fill="#222">-20</text>
<line x1="28.5" y1="277.7" x2="30.3" y2="277.7" stroke="#444" stroke-width="0.9"/>
<text x="27.5" y="280.65" font-size="8.2" text-anchor="end" fill="#222">-25</text>
<line x1="28.5" y1="289.2" x2="30.3" y2="289.2" stroke="#444" stroke-width="0.9"/>
<text x="27.5" y="292.15" font-size="8.2" text-anchor="end" fill="#222">-30</text>
<line x1="29.3" y1="283.45" x2="30.3" y2="283.45" stroke="#444" stroke-width="0.8"/>
<line x1="29.3" y1="271.95" x2="30.3" y2="271.95" stroke="#444" stroke-width="0.8"/>
<line x1="29.3" y1="260.45" x2="30.3" y2="260.45" stroke="#444" stroke-width="0.8"/>
<line x1="29.3" y1="248.95" x2="30.3" y2="248.95" stroke="#444" stroke-width="0.8"/>
<line x1="29.3" y1="237.45" x2="30.3" y2="237.45" stroke="#444" stroke-width="0.8"/>
<line x1="29.3" y1="225.95" x2="30.3" y2="225.95" stroke="#444" stroke-width="0.8"/>
<line x1="29.3" y1="214.45" x2="30.3" y2="214.45" stroke="#444" stroke-width="0.8"/>
<line x1="29.3" y1="202.95" x2="30.3" y2="202.95" stroke="#444" stroke-width="0.8"/>
<line x1="29.3" y1="191.45" x2="30.3" y2="191.45" stroke="#444" stroke-width="0.8"/>
<line x1="30.3" y1="289.3" x2="30.3" y2="290.8" stroke="#444" stroke-width="0.9"/>
<text x="30.3" y="298.9" font-size="8.2" text-anchor="middle" fill="#222">4</text>
<line x1="48.63" y1="289.3" x2="48.63" y2="290.8" stroke="#444" stroke-width="0.9"/>
<text x="48.63" y="298.9" font-size="8.2" text-anchor="middle" fill="#222">6</text>
<line x1="66.96" y1="289.3" x2="66.96" y2="290.8" stroke="#444" stroke-width="0.9"/>
<text x="66.96" y="298.9" font-size="8.2" text-anchor="middle" fill="#222">8</text>
<line x1="85.29" y1="289.3" x2="85.29" y2="290.8" stroke="#444" stroke-width="0.9"/>
<text x="85.29" y="298.9" font-size="8.2" text-anchor="middle" fill="#222">10</text>
<line x1="103.61" y1="289.3" x2="103.61" y2="290.8" stroke="#444" stroke-width="0.9"/>
<text x="103.61" y="298.9" font-size="8.2" text-anchor="middle" fill="#222">12</text>
<line x1="121.94" y1="289.3" x2="121.94" y2="290.8" stroke="#444" stroke-width="0.9"/>
<text x="121.94" y="298.9" font-size="8.2" text-anchor="middle" fill="#222">14</text>
<line x1="140.27" y1="289.3" x2="140.27" y2="290.8" stroke="#444" stroke-width="0.9"/>
<text x="140.27" y="298.9" font-size="8.2" text-anchor="middle" fill="#222">16</text>
<line x1="158.6" y1="289.3" x2="158.6" y2="290.8" stroke="#444" stroke-width="0.9"/>
<text x="158.6" y="298.9" font-size="8.2" text-anchor="middle" fill="#222">18</text>
<line x1="39.46" y1="289.3" x2="39.46" y2="290.3" stroke="#444" stroke-width="0.8"/>
<line x1="57.79" y1="289.3" x2="57.79" y2="290.3" stroke="#444" stroke-width="0.8"/>
<line x1="76.12" y1="289.3" x2="76.12" y2="290.3" stroke="#444" stroke-width="0.8"/>
<line x1="94.45" y1="289.3" x2="94.45" y2="290.3" stroke="#444" stroke-width="0.8"/>
<line x1="112.78" y1="289.3" x2="112.78" y2="290.3" stroke="#444" stroke-width="0.8"/>
<line x1="131.11" y1="289.3" x2="131.11" y2="290.3" stroke="#444" stroke-width="0.8"/>
<line x1="149.44" y1="289.3" x2="149.44" y2="290.3" stroke="#444" stroke-width="0.8"/>
<text x="49.5" y="313.9" font-size="11.4" fill="#111">Frequency  (GHz)</text>
<g transform="translate(11.9,236.2) rotate(-90)"><text x="0" y="0" font-size="11.6" text-anchor="middle" fill="#111">RCS  (dBsm)</text></g>
<text x="339.1" y="182.8" font-size="16" font-weight="bold" fill="#000">d</text>
<rect x="383.9" y="256.38" width="5.07" height="32.42" fill="#8c0a42"/>
<rect x="388.92" y="256.38" width="5.07" height="32.42" fill="#dd6f86"/>
<rect x="393.94" y="257.3" width="5.07" height="31.5" fill="#fba31a"/>
<rect x="398.96" y="264.63" width="5.07" height="24.17" fill="#5bb8ae"/>
<rect x="403.98" y="235.77" width="5.07" height="53.03" fill="#3d7ec2"/>
<rect x="409" y="243.1" width="5.07" height="45.7" fill="#6b3d9b"/>
<rect x="426.9" y="215.62" width="5.07" height="73.18" fill="#8c0a42"/>
<rect x="431.92" y="217.45" width="5.07" height="71.35" fill="#dd6f86"/>
<rect x="436.94" y="220.89" width="5.07" height="67.91" fill="#fba31a"/>
<rect x="441.96" y="239.44" width="5.07" height="49.36" fill="#5bb8ae"/>
<rect x="446.98" y="257.99" width="5.07" height="30.81" fill="#3d7ec2"/>
<rect x="452" y="225.7" width="5.07" height="63.1" fill="#6b3d9b"/>
<rect x="469.7" y="229.13" width="5.07" height="59.67" fill="#8c0a42"/>
<rect x="474.72" y="224.09" width="5.07" height="64.71" fill="#dd6f86"/>
<rect x="479.74" y="235.54" width="5.07" height="53.26" fill="#fba31a"/>
<rect x="484.76" y="255.01" width="5.07" height="33.79" fill="#5bb8ae"/>
<rect x="489.78" y="240.12" width="5.07" height="48.68" fill="#3d7ec2"/>
<rect x="494.8" y="238.75" width="5.07" height="50.05" fill="#6b3d9b"/>
<rect x="384.2" y="186.1" width="9.3" height="7.9" fill="#8c0a42"/>
<text x="396.4" y="192.9" font-size="6.75" fill="#222">Meas.</text>
<rect x="384.2" y="194.45" width="9.3" height="7.9" fill="#dd6f86"/>
<text x="396.4" y="201.25" font-size="6.75" fill="#222">Full struct. Sim.</text>
<rect x="384.2" y="202.8" width="9.3" height="7.9" fill="#fba31a"/>
<text x="396.4" y="209.6" font-size="6.75" fill="#222">Equiv. Sim.</text>
<rect x="446.3" y="186.1" width="9.3" height="7.9" fill="#5bb8ae"/>
<text x="458.6" y="192.9" font-size="6.75" fill="#222">Salis. Sim.</text>
<rect x="446.3" y="194.45" width="9.3" height="7.9" fill="#3d7ec2"/>
<text x="458.6" y="201.25" font-size="6.75" fill="#222">Metasur. Sim.</text>
<rect x="446.3" y="202.8" width="9.3" height="7.9" fill="#6b3d9b"/>
<text x="458.6" y="209.6" font-size="6.75" fill="#222">HC. Sim.</text>
<line x1="377.3" y1="185.5" x2="506.3" y2="185.5" stroke="#777" stroke-width="1.4"/>
<line x1="506.3" y1="185.5" x2="506.3" y2="288.8" stroke="#777" stroke-width="1.1"/>
<line x1="377.3" y1="185.5" x2="377.3" y2="288.8" stroke="#555" stroke-width="1.1"/>
<line x1="377.3" y1="288.8" x2="506.3" y2="288.8" stroke="#555" stroke-width="1.1"/>
<line x1="375.5" y1="197.3" x2="377.3" y2="197.3" stroke="#444" stroke-width="0.9"/>
<text x="374.5" y="200.4" font-size="8.6" text-anchor="end" fill="#222">100</text>
<line x1="375.5" y1="220.2" x2="377.3" y2="220.2" stroke="#444" stroke-width="0.9"/>
<text x="374.5" y="223.3" font-size="8.6" text-anchor="end" fill="#222">90</text>
<line x1="375.5" y1="243.1" x2="377.3" y2="243.1" stroke="#444" stroke-width="0.9"/>
<text x="374.5" y="246.2" font-size="8.6" text-anchor="end" fill="#222">80</text>
<line x1="375.5" y1="266" x2="377.3" y2="266" stroke="#444" stroke-width="0.9"/>
<text x="374.5" y="269.1" font-size="8.6" text-anchor="end" fill="#222">70</text>
<line x1="375.5" y1="288.9" x2="377.3" y2="288.9" stroke="#444" stroke-width="0.9"/>
<text x="374.5" y="292" font-size="8.6" text-anchor="end" fill="#222">60</text>
<line x1="376.3" y1="208.75" x2="377.3" y2="208.75" stroke="#444" stroke-width="0.8"/>
<line x1="376.3" y1="231.65" x2="377.3" y2="231.65" stroke="#444" stroke-width="0.8"/>
<line x1="376.3" y1="254.55" x2="377.3" y2="254.55" stroke="#444" stroke-width="0.8"/>
<line x1="376.3" y1="277.45" x2="377.3" y2="277.45" stroke="#444" stroke-width="0.8"/>
<text x="399" y="298.8" font-size="8.6" text-anchor="middle" fill="#222">C</text>
<text x="441.9" y="298.8" font-size="8.6" text-anchor="middle" fill="#222">X</text>
<text x="484.8" y="298.8" font-size="8.6" text-anchor="middle" fill="#222">Ku</text>
<line x1="420.5" y1="288.8" x2="420.5" y2="290.1" stroke="#444" stroke-width="0.8"/>
<line x1="463.4" y1="288.8" x2="463.4" y2="290.1" stroke="#444" stroke-width="0.8"/>
<text x="442" y="314" font-size="10.9" text-anchor="middle" fill="#111">Frequency  band</text>
<g transform="translate(359.4,236.8) rotate(-90)"><text x="0" y="0" font-size="10.8" text-anchor="middle" fill="#111">Average absorptivity  (%)</text></g>
<text x="525.3" y="183" font-size="16" font-weight="bold" fill="#000">e</text>
<rect x="561.9" y="194" width="6.1" height="11.3" fill="#c6a8d6"/>
<rect x="574" y="194" width="34" height="11.3" fill="#c6a8d6"/>
<rect x="608" y="194" width="36.6" height="11.3" fill="#c6a8d6"/>
<rect x="651.2" y="194" width="7.1" height="11.3" fill="#c6a8d6"/>
<rect x="665.4" y="194" width="7.1" height="11.3" fill="#c6a8d6"/>
<rect x="564.9" y="194" width="2" height="11.3" fill="#6a3a9c"/>
<rect x="576.3" y="194" width="5.1" height="11.3" fill="#6a3a9c"/>
<rect x="589" y="194" width="6.2" height="11.3" fill="#6a3a9c"/>
<rect x="602.9" y="194" width="5.1" height="11.3" fill="#6a3a9c"/>
<rect x="605" y="194" width="3" height="11.3" fill="#6a3a9c"/>
<rect x="625.4" y="194" width="4.7" height="11.3" fill="#6a3a9c"/>
<rect x="639" y="194" width="3.9" height="11.3" fill="#6a3a9c"/>
<rect x="652.9" y="194" width="4.2" height="11.3" fill="#6a3a9c"/>
<rect x="666.8" y="194" width="4.2" height="11.3" fill="#6a3a9c"/>
<rect x="557.2" y="210.2" width="4.7" height="11.6" fill="#c6a8d6"/>
<rect x="567.2" y="210.2" width="0.8" height="11.6" fill="#c6a8d6"/>
<rect x="571.2" y="210.2" width="1.8" height="11.6" fill="#c6a8d6"/>
<rect x="588.1" y="210.2" width="4.8" height="11.6" fill="#c6a8d6"/>
<rect x="604.1" y="210.2" width="2.4" height="11.6" fill="#c6a8d6"/>
<rect x="637.2" y="210.2" width="6.8" height="11.6" fill="#c6a8d6"/>
<rect x="650.9" y="210.2" width="7.9" height="11.6" fill="#c6a8d6"/>
<rect x="664.2" y="210.2" width="15.4" height="11.6" fill="#c6a8d6"/>
<rect x="551.7" y="210.2" width="5.5" height="11.6" fill="#6a3a9c"/>
<rect x="561.9" y="210.2" width="5.3" height="11.6" fill="#6a3a9c"/>
<rect x="573" y="210.2" width="6.9" height="11.6" fill="#6a3a9c"/>
<rect x="589.9" y="210.2" width="2.1" height="11.6" fill="#6a3a9c"/>
<rect x="653.8" y="210.2" width="3" height="11.6" fill="#6a3a9c"/>
<rect x="666.5" y="210.2" width="7.4" height="11.6" fill="#6a3a9c"/>
<rect x="561.5" y="226" width="5.4" height="11.6" fill="#c6a8d6"/>
<rect x="573.1" y="226" width="7.6" height="11.6" fill="#c6a8d6"/>
<rect x="587" y="226" width="7" height="11.6" fill="#c6a8d6"/>
<rect x="601.7" y="226" width="8" height="11.6" fill="#c6a8d6"/>
<rect x="619.2" y="226" width="7.7" height="11.6" fill="#c6a8d6"/>
<rect x="636.7" y="226" width="5.6" height="11.6" fill="#c6a8d6"/>
<rect x="651.7" y="226" width="6" height="11.6" fill="#c6a8d6"/>
<rect x="664.8" y="226" width="7.1" height="11.6" fill="#c6a8d6"/>
<rect x="546.5" y="226" width="2.6" height="11.6" fill="#6a3a9c"/>
<rect x="562.7" y="226" width="3.3" height="11.6" fill="#6a3a9c"/>
<rect x="574.6" y="226" width="5.3" height="11.6" fill="#6a3a9c"/>
<rect x="587.8" y="226" width="5.4" height="11.6" fill="#6a3a9c"/>
<rect x="602.9" y="226" width="5.7" height="11.6" fill="#6a3a9c"/>
<rect x="620.4" y="226" width="4.7" height="11.6" fill="#6a3a9c"/>
<rect x="636.7" y="226" width="4.7" height="11.6" fill="#6a3a9c"/>
<rect x="651.7" y="226" width="4.8" height="11.6" fill="#6a3a9c"/>
<rect x="665.6" y="226" width="4.5" height="11.6" fill="#6a3a9c"/>
<rect x="562.1" y="242.1" width="58.9" height="11.5" fill="#c6a8d6"/>
<rect x="625.1" y="242.1" width="8.1" height="11.5" fill="#c6a8d6"/>
<rect x="640.1" y="242.1" width="7.9" height="11.5" fill="#c6a8d6"/>
<rect x="653.5" y="242.1" width="26.1" height="11.5" fill="#c6a8d6"/>
<rect x="574" y="242.1" width="21" height="11.5" fill="#6a3a9c"/>
<rect x="597" y="242.1" width="7.9" height="11.5" fill="#6a3a9c"/>
<rect x="563.3" y="257.9" width="56.5" height="11.8" fill="#c6a8d6"/>
<rect x="621.9" y="257.9" width="37.8" height="11.8" fill="#c6a8d6"/>
<rect x="667.7" y="257.9" width="11.9" height="11.8" fill="#c6a8d6"/>
<rect x="563.9" y="257.9" width="4.5" height="11.8" fill="#6a3a9c"/>
<rect x="573" y="257.9" width="33.8" height="11.8" fill="#6a3a9c"/>
<rect x="613.8" y="257.9" width="3.3" height="11.8" fill="#6a3a9c"/>
<rect x="626.1" y="257.9" width="5.9" height="11.8" fill="#6a3a9c"/>
<rect x="639.1" y="257.9" width="18.9" height="11.8" fill="#6a3a9c"/>
<rect x="671.3" y="257.9" width="3.5" height="11.8" fill="#6a3a9c"/>
<rect x="564.5" y="273.5" width="49.4" height="11.8" fill="#c6a8d6"/>
<rect x="615.1" y="273.5" width="18.9" height="11.8" fill="#c6a8d6"/>
<rect x="638.1" y="273.5" width="20.2" height="11.8" fill="#c6a8d6"/>
<rect x="668.3" y="273.5" width="11.3" height="11.8" fill="#c6a8d6"/>
<rect x="565.7" y="273.5" width="2.1" height="11.8" fill="#6a3a9c"/>
<rect x="569.6" y="273.5" width="39.5" height="11.8" fill="#6a3a9c"/>
<rect x="629" y="273.5" width="1.8" height="11.8" fill="#6a3a9c"/>
<rect x="644.1" y="273.5" width="11" height="11.8" fill="#6a3a9c"/>
<rect x="673" y="273.5" width="6.6" height="11.8" fill="#6a3a9c"/>
<line x1="546.5" y1="240.3" x2="679.7" y2="240.3" stroke="#333" stroke-width="0.9" stroke-dasharray="1.6,1.2"/>
<rect x="548.9" y="184.6" width="11.7" height="5.5" fill="#c6a8d6"/>
<text x="564.5" y="190.6" font-size="8.45" fill="#222">80% Abs.</text>
<rect x="619.8" y="184.5" width="11.8" height="5.3" fill="#6a3a9c"/>
<text x="635.3" y="190.6" font-size="8.45" fill="#222">90% Abs.</text>
<line x1="546.5" y1="192.1" x2="679.7" y2="192.1" stroke="#888" stroke-width="1.4"/>
<line x1="679.7" y1="192.1" x2="679.7" y2="287.3" stroke="#888" stroke-width="1.1"/>
<line x1="546.5" y1="192.1" x2="546.5" y2="287.3" stroke="#444" stroke-width="1.1"/>
<line x1="546.5" y1="287.3" x2="679.7" y2="287.3" stroke="#444" stroke-width="1.1"/>
<line x1="544.9" y1="199.6" x2="546.5" y2="199.6" stroke="#444" stroke-width="0.8"/>
<line x1="544.9" y1="216.0" x2="546.5" y2="216.0" stroke="#444" stroke-width="0.8"/>
<line x1="544.9" y1="231.8" x2="546.5" y2="231.8" stroke="#444" stroke-width="0.8"/>
<line x1="544.9" y1="247.8" x2="546.5" y2="247.8" stroke="#444" stroke-width="0.8"/>
<line x1="544.9" y1="263.8" x2="546.5" y2="263.8" stroke="#444" stroke-width="0.8"/>
<line x1="544.9" y1="279.4" x2="546.5" y2="279.4" stroke="#444" stroke-width="0.8"/>
<line x1="546.5" y1="287.3" x2="546.5" y2="288.6" stroke="#444" stroke-width="0.9"/>
<text x="546.5" y="297.9" font-size="8" text-anchor="middle" fill="#222">4</text>
<line x1="565.53" y1="287.3" x2="565.53" y2="288.6" stroke="#444" stroke-width="0.9"/>
<text x="565.53" y="297.9" font-size="8" text-anchor="middle" fill="#222">6</text>
<line x1="584.56" y1="287.3" x2="584.56" y2="288.6" stroke="#444" stroke-width="0.9"/>
<text x="584.56" y="297.9" font-size="8" text-anchor="middle" fill="#222">8</text>
<line x1="603.59" y1="287.3" x2="603.59" y2="288.6" stroke="#444" stroke-width="0.9"/>
<text x="603.59" y="297.9" font-size="8" text-anchor="middle" fill="#222">10</text>
<line x1="622.61" y1="287.3" x2="622.61" y2="288.6" stroke="#444" stroke-width="0.9"/>
<text x="622.61" y="297.9" font-size="8" text-anchor="middle" fill="#222">12</text>
<line x1="641.64" y1="287.3" x2="641.64" y2="288.6" stroke="#444" stroke-width="0.9"/>
<text x="641.64" y="297.9" font-size="8" text-anchor="middle" fill="#222">14</text>
<line x1="660.67" y1="287.3" x2="660.67" y2="288.6" stroke="#444" stroke-width="0.9"/>
<text x="660.67" y="297.9" font-size="8" text-anchor="middle" fill="#222">16</text>
<line x1="679.7" y1="287.3" x2="679.7" y2="288.6" stroke="#444" stroke-width="0.9"/>
<text x="679.7" y="297.9" font-size="8" text-anchor="middle" fill="#222">18</text>
<line x1="556.01" y1="287.3" x2="556.01" y2="288.3" stroke="#444" stroke-width="0.8"/>
<line x1="575.04" y1="287.3" x2="575.04" y2="288.3" stroke="#444" stroke-width="0.8"/>
<line x1="594.07" y1="287.3" x2="594.07" y2="288.3" stroke="#444" stroke-width="0.8"/>
<line x1="613.1" y1="287.3" x2="613.1" y2="288.3" stroke="#444" stroke-width="0.8"/>
<line x1="632.13" y1="287.3" x2="632.13" y2="288.3" stroke="#444" stroke-width="0.8"/>
<line x1="651.16" y1="287.3" x2="651.16" y2="288.3" stroke="#444" stroke-width="0.8"/>
<line x1="670.19" y1="287.3" x2="670.19" y2="288.3" stroke="#444" stroke-width="0.8"/>
<text x="568.3" y="314" font-size="11.3" fill="#111">Frequency  (GHz)</text>
<g transform="translate(541,198.6) rotate(-56)"><rect x="-29.2" y="-6.2" width="30.2" height="7.6" fill="#fde2b4"/><text x="-28.3" y="0" font-size="7" fill="#333">HC. Sim.</text></g>
<g transform="translate(540.6,214.2) rotate(-56)"><rect x="-43.99" y="-6.2" width="44.99" height="7.6" fill="#fde2b4"/><text x="-43.09" y="0" font-size="7" fill="#333">Metasur. Sim.</text></g>
<g transform="translate(540.6,229.8) rotate(-56)"><rect x="-34.26" y="-6.2" width="35.26" height="7.6" fill="#fde2b4"/><text x="-33.36" y="0" font-size="7" fill="#333">Salis. Sim.</text></g>
<g transform="translate(541,246.2) rotate(-56)"><rect x="-36.08" y="-6.2" width="37.08" height="7.6" fill="#c4e6e6"/><text x="-35.18" y="0" font-size="7" fill="#333">Equiv. Sim.</text></g>
<g transform="translate(541,262) rotate(-56)"><rect x="-49.43" y="-6.2" width="50.43" height="7.6" fill="#c4e6e6"/><text x="-48.53" y="0" font-size="7" fill="#333">Full struct. Sim.</text></g>
<g transform="translate(541,277.8) rotate(-56)"><rect x="-20.26" y="-6.2" width="21.26" height="7.6" fill="#c4e6e6"/><text x="-19.36" y="0" font-size="7" fill="#333">Meas.</text></g>
<text x="3.3" y="332" font-size="16" font-weight="bold" fill="#000">f</text>
<clipPath id="clipF"><rect x="0" y="337.3" width="160.3" height="119.4"/></clipPath>
<g clip-path="url(#clipF)">
<rect x="0" y="337.3" width="160.3" height="119.4" fill="#06122e"/>
<path d="M-10,318.5 L25.6,318.5 L3.3,339.75 Z" fill="url(#pyTop)"/>
<path d="M25.6,318.5 L25.6,353 L3.3,339.75 Z" fill="url(#pyRight)"/>
<path d="M-10,353 L25.6,353 L3.3,339.75 Z" fill="url(#pyBot)"/>
<path d="M-10,318.5 L-10,353 L3.3,339.75 Z" fill="url(#pyLeft)"/>
<path d="M-10,353 L-10,348.75 Q-6,340.75 3.3,340.25 Q21.6,340.75 25.6,348.75 L25.6,353 Z" fill="url(#pyBot2)"/>
<path d="M-3.2,325.75 L9.8,324.75 L5.5,338.25 L1.1,338.25 Z" fill="#2a7ed6"/>
<path d="M0.9,337.35 L5.7,337.35 L4.6,341.55 L2,341.55 Z" fill="#6a6a6a"/>
<path d="M25.6,318.5 L61.2,318.5 L38.9,339.75 Z" fill="url(#pyTop)"/>
<path d="M61.2,318.5 L61.2,353 L38.9,339.75 Z" fill="url(#pyRight)"/>
<path d="M25.6,353 L61.2,353 L38.9,339.75 Z" fill="url(#pyBot)"/>
<path d="M25.6,318.5 L25.6,353 L38.9,339.75 Z" fill="url(#pyLeft)"/>
<path d="M25.6,353 L25.6,348.75 Q29.6,340.75 38.9,340.25 Q57.2,340.75 61.2,348.75 L61.2,353 Z" fill="url(#pyBot2)"/>
<path d="M32.4,325.75 L45.4,324.75 L41.1,338.25 L36.7,338.25 Z" fill="#2a7ed6"/>
<path d="M36.5,337.35 L41.3,337.35 L40.2,341.55 L37.6,341.55 Z" fill="#6a6a6a"/>
<path d="M61.2,318.5 L96.8,318.5 L74.5,339.75 Z" fill="url(#pyTop)"/>
<path d="M96.8,318.5 L96.8,353 L74.5,339.75 Z" fill="url(#pyRight)"/>
<path d="M61.2,353 L96.8,353 L74.5,339.75 Z" fill="url(#pyBot)"/>
<path d="M61.2,318.5 L61.2,353 L74.5,339.75 Z" fill="url(#pyLeft)"/>
<path d="M61.2,353 L61.2,348.75 Q65.2,340.75 74.5,340.25 Q92.8,340.75 96.8,348.75 L96.8,353 Z" fill="url(#pyBot2)"/>
<path d="M68,325.75 L81,324.75 L76.7,338.25 L72.3,338.25 Z" fill="#2a7ed6"/>
<path d="M72.1,337.35 L76.9,337.35 L75.8,341.55 L73.2,341.55 Z" fill="#6a6a6a"/>
<path d="M96.8,318.5 L132.4,318.5 L112.5,339.5 Z" fill="url(#pyTop)"/>
<path d="M132.4,318.5 L132.4,353 L112.5,339.5 Z" fill="url(#pyRight)"/>
<path d="M96.8,353 L132.4,353 L112.5,339.5 Z" fill="url(#pyBot)"/>
<path d="M96.8,318.5 L96.8,353 L112.5,339.5 Z" fill="url(#pyLeft)"/>
<path d="M96.8,353 L96.8,348.5 Q100.8,340.5 112.5,340 Q128.4,340.5 132.4,348.5 L132.4,353 Z" fill="url(#pyBot2)"/>
<path d="M106,325.5 L119,324.5 L114.7,338 L110.3,338 Z" fill="#2a7ed6"/>
<path d="M110.1,337.1 L114.9,337.1 L113.8,341.3 L111.2,341.3 Z" fill="#6a6a6a"/>
<path d="M132.4,318.5 L168,318.5 L146.8,339.5 Z" fill="url(#pyTop)"/>
<path d="M168,318.5 L168,353 L146.8,339.5 Z" fill="url(#pyRight)"/>
<path d="M132.4,353 L168,353 L146.8,339.5 Z" fill="url(#pyBot)"/>
<path d="M132.4,318.5 L132.4,353 L146.8,339.5 Z" fill="url(#pyLeft)"/>
<path d="M132.4,353 L132.4,348.5 Q136.4,340.5 146.8,340 Q164,340.5 168,348.5 L168,353 Z" fill="url(#pyBot2)"/>
<path d="M140.3,325.5 L153.3,324.5 L149,338 L144.6,338 Z" fill="#2a7ed6"/>
<path d="M144.4,337.1 L149.2,337.1 L148.1,341.3 L145.5,341.3 Z" fill="#6a6a6a"/>
<path d="M-10,353 L25.6,353 L3.3,374.25 Z" fill="url(#pyTop)"/>
<path d="M25.6,353 L25.6,387.5 L3.3,374.25 Z" fill="url(#pyRight)"/>
<path d="M-10,387.5 L25.6,387.5 L3.3,374.25 Z" fill="url(#pyBot)"/>
<path d="M-10,353 L-10,387.5 L3.3,374.25 Z" fill="url(#pyLeft)"/>
<path d="M-10,387.5 L-10,383.25 Q-6,375.25 3.3,374.75 Q21.6,375.25 25.6,383.25 L25.6,387.5 Z" fill="url(#pyBot2)"/>
<path d="M-3.2,360.25 L9.8,359.25 L5.5,372.75 L1.1,372.75 Z" fill="#2a7ed6"/>
<path d="M0.9,371.85 L5.7,371.85 L4.6,376.05 L2,376.05 Z" fill="#6a6a6a"/>
<path d="M25.6,353 L61.2,353 L38.9,374.25 Z" fill="url(#pyTop)"/>
<path d="M61.2,353 L61.2,387.5 L38.9,374.25 Z" fill="url(#pyRight)"/>
<path d="M25.6,387.5 L61.2,387.5 L38.9,374.25 Z" fill="url(#pyBot)"/>
<path d="M25.6,353 L25.6,387.5 L38.9,374.25 Z" fill="url(#pyLeft)"/>
<path d="M25.6,387.5 L25.6,383.25 Q29.6,375.25 38.9,374.75 Q57.2,375.25 61.2,383.25 L61.2,387.5 Z" fill="url(#pyBot2)"/>
<path d="M32.4,360.25 L45.4,359.25 L41.1,372.75 L36.7,372.75 Z" fill="#2a7ed6"/>
<path d="M36.5,371.85 L41.3,371.85 L40.2,376.05 L37.6,376.05 Z" fill="#6a6a6a"/>
<path d="M61.2,353 L96.8,353 L74.5,374.25 Z" fill="url(#pyTop)"/>
<path d="M96.8,353 L96.8,387.5 L74.5,374.25 Z" fill="url(#pyRight)"/>
<path d="M61.2,387.5 L96.8,387.5 L74.5,374.25 Z" fill="url(#pyBot)"/>
<path d="M61.2,353 L61.2,387.5 L74.5,374.25 Z" fill="url(#pyLeft)"/>
<path d="M61.2,387.5 L61.2,383.25 Q65.2,375.25 74.5,374.75 Q92.8,375.25 96.8,383.25 L96.8,387.5 Z" fill="url(#pyBot2)"/>
<path d="M68,360.25 L81,359.25 L76.7,372.75 L72.3,372.75 Z" fill="#2a7ed6"/>
<path d="M72.1,371.85 L76.9,371.85 L75.8,376.05 L73.2,376.05 Z" fill="#6a6a6a"/>
<path d="M96.8,353 L132.4,353 L110,377 Z" fill="url(#pyTop)"/>
<path d="M132.4,353 L132.4,387.5 L110,377 Z" fill="url(#pyRight)"/>
<path d="M96.8,387.5 L132.4,387.5 L110,377 Z" fill="url(#pyBot)"/>
<path d="M96.8,353 L96.8,387.5 L110,377 Z" fill="url(#pyLeft)"/>
<path d="M96.8,387.5 L96.8,386 Q100.8,378 110,377.5 Q128.4,378 132.4,386 L132.4,387.5 Z" fill="url(#pyBot2)"/>
<path d="M103.5,363 L116.5,362 L112.2,375.5 L107.8,375.5 Z" fill="#2a7ed6"/>
<path d="M107.6,374.6 L112.4,374.6 L111.3,378.8 L108.7,378.8 Z" fill="#6a6a6a"/>
<path d="M132.4,353 L168,353 L144.9,372.6 Z" fill="url(#pyTop)"/>
<path d="M168,353 L168,387.5 L144.9,372.6 Z" fill="url(#pyRight)"/>
<path d="M132.4,387.5 L168,387.5 L144.9,372.6 Z" fill="url(#pyBot)"/>
<path d="M132.4,353 L132.4,387.5 L144.9,372.6 Z" fill="url(#pyLeft)"/>
<path d="M132.4,387.5 L132.4,381.6 Q136.4,373.6 144.9,373.1 Q164,373.6 168,381.6 L168,387.5 Z" fill="url(#pyBot2)"/>
<path d="M138.4,358.6 L151.4,357.6 L147.1,371.1 L142.7,371.1 Z" fill="#2a7ed6"/>
<path d="M142.5,370.2 L147.3,370.2 L146.2,374.4 L143.6,374.4 Z" fill="#6a6a6a"/>
<path d="M-10,387.5 L25.6,387.5 L3.1,410.6 Z" fill="url(#pyTop)"/>
<path d="M25.6,387.5 L25.6,422 L3.1,410.6 Z" fill="url(#pyRight)"/>
<path d="M-10,422 L25.6,422 L3.1,410.6 Z" fill="url(#pyBot)"/>
<path d="M-10,387.5 L-10,422 L3.1,410.6 Z" fill="url(#pyLeft)"/>
<path d="M-10,422 L-10,419.6 Q-6,411.6 3.1,411.1 Q21.6,411.6 25.6,419.6 L25.6,422 Z" fill="url(#pyBot2)"/>
<path d="M-3.4,396.6 L9.6,395.6 L5.3,409.1 L0.9,409.1 Z" fill="#2a7ed6"/>
<path d="M0.7,408.2 L5.5,408.2 L4.4,412.4 L1.8,412.4 Z" fill="#6a6a6a"/>
<path d="M25.6,387.5 L61.2,387.5 L37.5,406.2 Z" fill="url(#pyTop)"/>
<path d="M61.2,387.5 L61.2,422 L37.5,406.2 Z" fill="url(#pyRight)"/>
<path d="M25.6,422 L61.2,422 L37.5,406.2 Z" fill="url(#pyBot)"/>
<path d="M25.6,387.5 L25.6,422 L37.5,406.2 Z" fill="url(#pyLeft)"/>
<path d="M25.6,422 L25.6,415.2 Q29.6,407.2 37.5,406.7 Q57.2,407.2 61.2,415.2 L61.2,422 Z" fill="url(#pyBot2)"/>
<path d="M31,392.2 L44,391.2 L39.7,404.7 L35.3,404.7 Z" fill="#2a7ed6"/>
<path d="M35.1,403.8 L39.9,403.8 L38.8,408 L36.2,408 Z" fill="#6a6a6a"/>
<path d="M61.2,387.5 L96.8,387.5 L74.9,408.1 Z" fill="url(#pyTop)"/>
<path d="M96.8,387.5 L96.8,422 L74.9,408.1 Z" fill="url(#pyRight)"/>
<path d="M61.2,422 L96.8,422 L74.9,408.1 Z" fill="url(#pyBot)"/>
<path d="M61.2,387.5 L61.2,422 L74.9,408.1 Z" fill="url(#pyLeft)"/>
<path d="M61.2,422 L61.2,417.1 Q65.2,409.1 74.9,408.6 Q92.8,409.1 96.8,417.1 L96.8,422 Z" fill="url(#pyBot2)"/>
<path d="M68.4,394.1 L81.4,393.1 L77.1,406.6 L72.7,406.6 Z" fill="#2a7ed6"/>
<path d="M72.5,405.7 L77.3,405.7 L76.2,409.9 L73.6,409.9 Z" fill="#6a6a6a"/>
<path d="M96.8,387.5 L132.4,387.5 L110.1,408.75 Z" fill="url(#pyTop)"/>
<path d="M132.4,387.5 L132.4,422 L110.1,408.75 Z" fill="url(#pyRight)"/>
<path d="M96.8,422 L132.4,422 L110.1,408.75 Z" fill="url(#pyBot)"/>
<path d="M96.8,387.5 L96.8,422 L110.1,408.75 Z" fill="url(#pyLeft)"/>
<path d="M96.8,422 L96.8,417.75 Q100.8,409.75 110.1,409.25 Q128.4,409.75 132.4,417.75 L132.4,422 Z" fill="url(#pyBot2)"/>
<path d="M103.6,394.75 L116.6,393.75 L112.3,407.25 L107.9,407.25 Z" fill="#2a7ed6"/>
<path d="M107.7,406.35 L112.5,406.35 L111.4,410.55 L108.8,410.55 Z" fill="#6a6a6a"/>
<path d="M132.4,387.5 L168,387.5 L146.5,409.8 Z" fill="url(#pyTop)"/>
<path d="M168,387.5 L168,422 L146.5,409.8 Z" fill="url(#pyRight)"/>
<path d="M132.4,422 L168,422 L146.5,409.8 Z" fill="url(#pyBot)"/>
<path d="M132.4,387.5 L132.4,422 L146.5,409.8 Z" fill="url(#pyLeft)"/>
<path d="M132.4,422 L132.4,418.8 Q136.4,410.8 146.5,410.3 Q164,410.8 168,418.8 L168,422 Z" fill="url(#pyBot2)"/>
<path d="M140,395.8 L153,394.8 L148.7,408.3 L144.3,408.3 Z" fill="#2a7ed6"/>
<path d="M144.1,407.4 L148.9,407.4 L147.8,411.6 L145.2,411.6 Z" fill="#6a6a6a"/>
<path d="M-10,422 L25.6,422 L3.1,443.7 Z" fill="url(#pyTop)"/>
<path d="M25.6,422 L25.6,456.5 L3.1,443.7 Z" fill="url(#pyRight)"/>
<path d="M-10,456.5 L25.6,456.5 L3.1,443.7 Z" fill="url(#pyBot)"/>
<path d="M-10,422 L-10,456.5 L3.1,443.7 Z" fill="url(#pyLeft)"/>
<path d="M-10,456.5 L-10,452.7 Q-6,444.7 3.1,444.2 Q21.6,444.7 25.6,452.7 L25.6,456.5 Z" fill="url(#pyBot2)"/>
<path d="M-3.4,429.7 L9.6,428.7 L5.3,442.2 L0.9,442.2 Z" fill="#2a7ed6"/>
<path d="M0.7,441.3 L5.5,441.3 L4.4,445.5 L1.8,445.5 Z" fill="#6a6a6a"/>
<path d="M25.6,422 L61.2,422 L38,442.4 Z" fill="url(#pyTop)"/>
<path d="M61.2,422 L61.2,456.5 L38,442.4 Z" fill="url(#pyRight)"/>
<path d="M25.6,456.5 L61.2,456.5 L38,442.4 Z" fill="url(#pyBot)"/>
<path d="M25.6,422 L25.6,456.5 L38,442.4 Z" fill="url(#pyLeft)"/>
<path d="M25.6,456.5 L25.6,451.4 Q29.6,443.4 38,442.9 Q57.2,443.4 61.2,451.4 L61.2,456.5 Z" fill="url(#pyBot2)"/>
<path d="M31.5,428.4 L44.5,427.4 L40.2,440.9 L35.8,440.9 Z" fill="#2a7ed6"/>
<path d="M35.6,440 L40.4,440 L39.3,444.2 L36.7,444.2 Z" fill="#6a6a6a"/>
<path d="M61.2,422 L96.8,422 L74.5,443.25 Z" fill="url(#pyTop)"/>
<path d="M96.8,422 L96.8,456.5 L74.5,443.25 Z" fill="url(#pyRight)"/>
<path d="M61.2,456.5 L96.8,456.5 L74.5,443.25 Z" fill="url(#pyBot)"/>
<path d="M61.2,422 L61.2,456.5 L74.5,443.25 Z" fill="url(#pyLeft)"/>
<path d="M61.2,456.5 L61.2,452.25 Q65.2,444.25 74.5,443.75 Q92.8,444.25 96.8,452.25 L96.8,456.5 Z" fill="url(#pyBot2)"/>
<path d="M68,429.25 L81,428.25 L76.7,441.75 L72.3,441.75 Z" fill="#2a7ed6"/>
<path d="M72.1,440.85 L76.9,440.85 L75.8,445.05 L73.2,445.05 Z" fill="#6a6a6a"/>
<path d="M96.8,422 L132.4,422 L110.1,443.25 Z" fill="url(#pyTop)"/>
<path d="M132.4,422 L132.4,456.5 L110.1,443.25 Z" fill="url(#pyRight)"/>
<path d="M96.8,456.5 L132.4,456.5 L110.1,443.25 Z" fill="url(#pyBot)"/>
<path d="M96.8,422 L96.8,456.5 L110.1,443.25 Z" fill="url(#pyLeft)"/>
<path d="M96.8,456.5 L96.8,452.25 Q100.8,444.25 110.1,443.75 Q128.4,444.25 132.4,452.25 L132.4,456.5 Z" fill="url(#pyBot2)"/>
<path d="M103.6,429.25 L116.6,428.25 L112.3,441.75 L107.9,441.75 Z" fill="#2a7ed6"/>
<path d="M107.7,440.85 L112.5,440.85 L111.4,445.05 L108.8,445.05 Z" fill="#6a6a6a"/>
<path d="M132.4,422 L168,422 L146.5,441.7 Z" fill="url(#pyTop)"/>
<path d="M168,422 L168,456.5 L146.5,441.7 Z" fill="url(#pyRight)"/>
<path d="M132.4,456.5 L168,456.5 L146.5,441.7 Z" fill="url(#pyBot)"/>
<path d="M132.4,422 L132.4,456.5 L146.5,441.7 Z" fill="url(#pyLeft)"/>
<path d="M132.4,456.5 L132.4,450.7 Q136.4,442.7 146.5,442.2 Q164,442.7 168,450.7 L168,456.5 Z" fill="url(#pyBot2)"/>
<path d="M140,427.7 L153,426.7 L148.7,440.2 L144.3,440.2 Z" fill="#2a7ed6"/>
<path d="M144.1,439.3 L148.9,439.3 L147.8,443.5 L145.2,443.5 Z" fill="#6a6a6a"/>
<path d="M-10,456.5 L25.6,456.5 L3.3,477.75 Z" fill="url(#pyTop)"/>
<path d="M25.6,456.5 L25.6,491 L3.3,477.75 Z" fill="url(#pyRight)"/>
<path d="M-10,491 L25.6,491 L3.3,477.75 Z" fill="url(#pyBot)"/>
<path d="M-10,456.5 L-10,491 L3.3,477.75 Z" fill="url(#pyLeft)"/>
<path d="M-10,491 L-10,486.75 Q-6,478.75 3.3,478.25 Q21.6,478.75 25.6,486.75 L25.6,491 Z" fill="url(#pyBot2)"/>
<path d="M-3.2,463.75 L9.8,462.75 L5.5,476.25 L1.1,476.25 Z" fill="#2a7ed6"/>
<path d="M0.9,475.35 L5.7,475.35 L4.6,479.55 L2,479.55 Z" fill="#6a6a6a"/>
<path d="M25.6,456.5 L61.2,456.5 L38.9,477.75 Z" fill="url(#pyTop)"/>
<path d="M61.2,456.5 L61.2,491 L38.9,477.75 Z" fill="url(#pyRight)"/>
<path d="M25.6,491 L61.2,491 L38.9,477.75 Z" fill="url(#pyBot)"/>
<path d="M25.6,456.5 L25.6,491 L38.9,477.75 Z" fill="url(#pyLeft)"/>
<path d="M25.6,491 L25.6,486.75 Q29.6,478.75 38.9,478.25 Q57.2,478.75 61.2,486.75 L61.2,491 Z" fill="url(#pyBot2)"/>
<path d="M32.4,463.75 L45.4,462.75 L41.1,476.25 L36.7,476.25 Z" fill="#2a7ed6"/>
<path d="M36.5,475.35 L41.3,475.35 L40.2,479.55 L37.6,479.55 Z" fill="#6a6a6a"/>
<path d="M61.2,456.5 L96.8,456.5 L74.5,477.75 Z" fill="url(#pyTop)"/>
<path d="M96.8,456.5 L96.8,491 L74.5,477.75 Z" fill="url(#pyRight)"/>
<path d="M61.2,491 L96.8,491 L74.5,477.75 Z" fill="url(#pyBot)"/>
<path d="M61.2,456.5 L61.2,491 L74.5,477.75 Z" fill="url(#pyLeft)"/>
<path d="M61.2,491 L61.2,486.75 Q65.2,478.75 74.5,478.25 Q92.8,478.75 96.8,486.75 L96.8,491 Z" fill="url(#pyBot2)"/>
<path d="M68,463.75 L81,462.75 L76.7,476.25 L72.3,476.25 Z" fill="#2a7ed6"/>
<path d="M72.1,475.35 L76.9,475.35 L75.8,479.55 L73.2,479.55 Z" fill="#6a6a6a"/>
<path d="M96.8,456.5 L132.4,456.5 L110.1,477.75 Z" fill="url(#pyTop)"/>
<path d="M132.4,456.5 L132.4,491 L110.1,477.75 Z" fill="url(#pyRight)"/>
<path d="M96.8,491 L132.4,491 L110.1,477.75 Z" fill="url(#pyBot)"/>
<path d="M96.8,456.5 L96.8,491 L110.1,477.75 Z" fill="url(#pyLeft)"/>
<path d="M96.8,491 L96.8,486.75 Q100.8,478.75 110.1,478.25 Q128.4,478.75 132.4,486.75 L132.4,491 Z" fill="url(#pyBot2)"/>
<path d="M103.6,463.75 L116.6,462.75 L112.3,476.25 L107.9,476.25 Z" fill="#2a7ed6"/>
<path d="M107.7,475.35 L112.5,475.35 L111.4,479.55 L108.8,479.55 Z" fill="#6a6a6a"/>
<path d="M132.4,456.5 L168,456.5 L145.7,477.75 Z" fill="url(#pyTop)"/>
<path d="M168,456.5 L168,491 L145.7,477.75 Z" fill="url(#pyRight)"/>
<path d="M132.4,491 L168,491 L145.7,477.75 Z" fill="url(#pyBot)"/>
<path d="M132.4,456.5 L132.4,491 L145.7,477.75 Z" fill="url(#pyLeft)"/>
<path d="M132.4,491 L132.4,486.75 Q136.4,478.75 145.7,478.25 Q164,478.75 168,486.75 L168,491 Z" fill="url(#pyBot2)"/>
<path d="M139.2,463.75 L152.2,462.75 L147.9,476.25 L143.5,476.25 Z" fill="#2a7ed6"/>
<path d="M143.3,475.35 L148.1,475.35 L147,479.55 L144.4,479.55 Z" fill="#6a6a6a"/>
<rect x="0" y="337.3" width="82.9" height="67.5" fill="#e6eaee" opacity="0.84"/>
<rect x="19.2" y="344.1" width="46.7" height="45.1" fill="url(#gHeatF)"/>
<rect x="69.5" y="344.1" width="3.0" height="45.1" fill="url(#gCbF)"/>
<text x="18" y="346.3" font-size="6.4" text-anchor="end" fill="#222">135</text>
<text x="18" y="368.8" font-size="6.4" text-anchor="end" fill="#222">0</text>
<text x="18" y="391.4" font-size="6.4" text-anchor="end" fill="#222">-135</text>
<text x="19.8" y="396" font-size="6.4" text-anchor="middle" fill="#222">-135</text>
<text x="42.5" y="396" font-size="6.4" text-anchor="middle" fill="#222">0</text>
<text x="65.9" y="396" font-size="6.4" text-anchor="middle" fill="#222">135</text>
<text x="44.7" y="404" font-size="8.4" text-anchor="middle" fill="#222">X (mm)</text>
<g transform="translate(8.8,366.4) rotate(-90)"><text x="0" y="0" font-size="8.4" text-anchor="middle" fill="#222">Y (mm)</text></g>
<text x="67.2" y="341.6" font-size="4.8" fill="#333">K×10</text>
<text x="79" y="339.6" font-size="3.4" fill="#333">-6</text>
<text x="74.2" y="355.3" font-size="5" fill="#333">-6.8</text>
<text x="74.2" y="372.8" font-size="5" fill="#333">-6.8</text>
<text x="74.2" y="390.6" font-size="5" fill="#333">-6.8</text>
<circle cx="104.3" cy="409.3" r="22.4" fill="#c8ccd2"/>
<line x1="129" y1="413" x2="145" y2="410" stroke="#8a8a8a" stroke-width="0.6"/>
<path d="M84,395.4 L129.2,394.6 L129.2,439 L84.4,439 Z" fill="url(#pLattice)"/>
<path d="M84,395.4 L129.2,394.6 L129.2,439 L84.4,439 Z" fill="url(#gBlockHi)"/>
<rect x="80" y="450" width="50" height="7" fill="#3c5078"/>
<rect x="73.6" y="444.2" width="62.6" height="6.9" fill="#8e98aa"/>
<rect x="57.4" y="437.2" width="94.4" height="7.2" fill="#d2d2d2"/>
<rect x="57.4" y="442.6" width="94.4" height="1.8" fill="#a8a8a8"/>
</g>
<text x="177.5" y="332" font-size="16" font-weight="bold" fill="#000">g</text>
<clipPath id="clipG"><rect x="176.4" y="337.3" width="159.5" height="119.4"/></clipPath>
<g clip-path="url(#clipG)">
<rect x="176.4" y="337.3" width="159.5" height="119.4" fill="#06122e"/>
<path d="M173.4,318 L207.8,318 L184.6,339.5 Z" fill="url(#pyTop)"/>
<path d="M207.8,318 L207.8,351 L184.6,339.5 Z" fill="url(#pyRight)"/>
<path d="M173.4,351 L207.8,351 L184.6,339.5 Z" fill="url(#pyBot)"/>
<path d="M173.4,318 L173.4,351 L184.6,339.5 Z" fill="url(#pyLeft)"/>
<path d="M173.4,351 L173.4,348.5 Q177.4,340.5 184.6,340 Q203.8,340.5 207.8,348.5 L207.8,351 Z" fill="url(#pyBot2)"/>
<path d="M178.1,325.5 L191.1,324.5 L186.8,338 L182.4,338 Z" fill="#2a7ed6"/>
<path d="M182.2,337.1 L187,337.1 L185.9,341.3 L183.3,341.3 Z" fill="#6a6a6a"/>
<path d="M207.8,318 L242.2,318 L219,339.5 Z" fill="url(#pyTop)"/>
<path d="M242.2,318 L242.2,351 L219,339.5 Z" fill="url(#pyRight)"/>
<path d="M207.8,351 L242.2,351 L219,339.5 Z" fill="url(#pyBot)"/>
<path d="M207.8,318 L207.8,351 L219,339.5 Z" fill="url(#pyLeft)"/>
<path d="M207.8,351 L207.8,348.5 Q211.8,340.5 219,340 Q238.2,340.5 242.2,348.5 L242.2,351 Z" fill="url(#pyBot2)"/>
<path d="M212.5,325.5 L225.5,324.5 L221.2,338 L216.8,338 Z" fill="#2a7ed6"/>
<path d="M216.6,337.1 L221.4,337.1 L220.3,341.3 L217.7,341.3 Z" fill="#6a6a6a"/>
<path d="M242.2,318 L276.6,318 L253.4,339.5 Z" fill="url(#pyTop)"/>
<path d="M276.6,318 L276.6,351 L253.4,339.5 Z" fill="url(#pyRight)"/>
<path d="M242.2,351 L276.6,351 L253.4,339.5 Z" fill="url(#pyBot)"/>
<path d="M242.2,318 L242.2,351 L253.4,339.5 Z" fill="url(#pyLeft)"/>
<path d="M242.2,351 L242.2,348.5 Q246.2,340.5 253.4,340 Q272.6,340.5 276.6,348.5 L276.6,351 Z" fill="url(#pyBot2)"/>
<path d="M246.9,325.5 L259.9,324.5 L255.6,338 L251.2,338 Z" fill="#2a7ed6"/>
<path d="M251,337.1 L255.8,337.1 L254.7,341.3 L252.1,341.3 Z" fill="#6a6a6a"/>
<path d="M276.6,318 L311,318 L290.4,338.7 Z" fill="url(#pyTop)"/>
<path d="M311,318 L311,351 L290.4,338.7 Z" fill="url(#pyRight)"/>
<path d="M276.6,351 L311,351 L290.4,338.7 Z" fill="url(#pyBot)"/>
<path d="M276.6,318 L276.6,351 L290.4,338.7 Z" fill="url(#pyLeft)"/>
<path d="M276.6,351 L276.6,347.7 Q280.6,339.7 290.4,339.2 Q307,339.7 311,347.7 L311,351 Z" fill="url(#pyBot2)"/>
<path d="M283.9,324.7 L296.9,323.7 L292.6,337.2 L288.2,337.2 Z" fill="#2a7ed6"/>
<path d="M288,336.3 L292.8,336.3 L291.7,340.5 L289.1,340.5 Z" fill="#6a6a6a"/>
<path d="M311,318 L345.4,318 L320.9,340.2 Z" fill="url(#pyTop)"/>
<path d="M345.4,318 L345.4,351 L320.9,340.2 Z" fill="url(#pyRight)"/>
<path d="M311,351 L345.4,351 L320.9,340.2 Z" fill="url(#pyBot)"/>
<path d="M311,318 L311,351 L320.9,340.2 Z" fill="url(#pyLeft)"/>
<path d="M311,351 L311,349.2 Q315,341.2 320.9,340.7 Q341.4,341.2 345.4,349.2 L345.4,351 Z" fill="url(#pyBot2)"/>
<path d="M314.4,326.2 L327.4,325.2 L323.1,338.7 L318.7,338.7 Z" fill="#2a7ed6"/>
<path d="M318.5,337.8 L323.3,337.8 L322.2,342 L319.6,342 Z" fill="#6a6a6a"/>
<path d="M173.4,351 L207.8,351 L184.6,372.5 Z" fill="url(#pyTop)"/>
<path d="M207.8,351 L207.8,384 L184.6,372.5 Z" fill="url(#pyRight)"/>
<path d="M173.4,384 L207.8,384 L184.6,372.5 Z" fill="url(#pyBot)"/>
<path d="M173.4,351 L173.4,384 L184.6,372.5 Z" fill="url(#pyLeft)"/>
<path d="M173.4,384 L173.4,381.5 Q177.4,373.5 184.6,373 Q203.8,373.5 207.8,381.5 L207.8,384 Z" fill="url(#pyBot2)"/>
<path d="M178.1,358.5 L191.1,357.5 L186.8,371 L182.4,371 Z" fill="#2a7ed6"/>
<path d="M182.2,370.1 L187,370.1 L185.9,374.3 L183.3,374.3 Z" fill="#6a6a6a"/>
<path d="M207.8,351 L242.2,351 L219,372.5 Z" fill="url(#pyTop)"/>
<path d="M242.2,351 L242.2,384 L219,372.5 Z" fill="url(#pyRight)"/>
<path d="M207.8,384 L242.2,384 L219,372.5 Z" fill="url(#pyBot)"/>
<path d="M207.8,351 L207.8,384 L219,372.5 Z" fill="url(#pyLeft)"/>
<path d="M207.8,384 L207.8,381.5 Q211.8,373.5 219,373 Q238.2,373.5 242.2,381.5 L242.2,384 Z" fill="url(#pyBot2)"/>
<path d="M212.5,358.5 L225.5,357.5 L221.2,371 L216.8,371 Z" fill="#2a7ed6"/>
<path d="M216.6,370.1 L221.4,370.1 L220.3,374.3 L217.7,374.3 Z" fill="#6a6a6a"/>
<path d="M242.2,351 L276.6,351 L253.4,372.5 Z" fill="url(#pyTop)"/>
<path d="M276.6,351 L276.6,384 L253.4,372.5 Z" fill="url(#pyRight)"/>
<path d="M242.2,384 L276.6,384 L253.4,372.5 Z" fill="url(#pyBot)"/>
<path d="M242.2,351 L242.2,384 L253.4,372.5 Z" fill="url(#pyLeft)"/>
<path d="M242.2,384 L242.2,381.5 Q246.2,373.5 253.4,373 Q272.6,373.5 276.6,381.5 L276.6,384 Z" fill="url(#pyBot2)"/>
<path d="M246.9,358.5 L259.9,357.5 L255.6,371 L251.2,371 Z" fill="#2a7ed6"/>
<path d="M251,370.1 L255.8,370.1 L254.7,374.3 L252.1,374.3 Z" fill="#6a6a6a"/>
<path d="M276.6,351 L311,351 L287.8,374.3 Z" fill="url(#pyTop)"/>
<path d="M311,351 L311,384 L287.8,374.3 Z" fill="url(#pyRight)"/>
<path d="M276.6,384 L311,384 L287.8,374.3 Z" fill="url(#pyBot)"/>
<path d="M276.6,351 L276.6,384 L287.8,374.3 Z" fill="url(#pyLeft)"/>
<path d="M276.6,384 L276.6,383.3 Q280.6,375.3 287.8,374.8 Q307,375.3 311,383.3 L311,384 Z" fill="url(#pyBot2)"/>
<path d="M281.3,360.3 L294.3,359.3 L290,372.8 L285.6,372.8 Z" fill="#2a7ed6"/>
<path d="M285.4,371.9 L290.2,371.9 L289.1,376.1 L286.5,376.1 Z" fill="#6a6a6a"/>
<path d="M311,351 L345.4,351 L321.7,369.5 Z" fill="url(#pyTop)"/>
<path d="M345.4,351 L345.4,384 L321.7,369.5 Z" fill="url(#pyRight)"/>
<path d="M311,384 L345.4,384 L321.7,369.5 Z" fill="url(#pyBot)"/>
<path d="M311,351 L311,384 L321.7,369.5 Z" fill="url(#pyLeft)"/>
<path d="M311,384 L311,378.5 Q315,370.5 321.7,370 Q341.4,370.5 345.4,378.5 L345.4,384 Z" fill="url(#pyBot2)"/>
<path d="M315.2,355.5 L328.2,354.5 L323.9,368 L319.5,368 Z" fill="#2a7ed6"/>
<path d="M319.3,367.1 L324.1,367.1 L323,371.3 L320.4,371.3 Z" fill="#6a6a6a"/>
<path d="M173.4,384 L207.8,384 L186,408.1 Z" fill="url(#pyTop)"/>
<path d="M207.8,384 L207.8,417 L186,408.1 Z" fill="url(#pyRight)"/>
<path d="M173.4,417 L207.8,417 L186,408.1 Z" fill="url(#pyBot)"/>
<path d="M173.4,384 L173.4,417 L186,408.1 Z" fill="url(#pyLeft)"/>
<path d="M173.4,417 L173.4,417.1 Q177.4,409.1 186,408.6 Q203.8,409.1 207.8,417.1 L207.8,417 Z" fill="url(#pyBot2)"/>
<path d="M179.5,394.1 L192.5,393.1 L188.2,406.6 L183.8,406.6 Z" fill="#2a7ed6"/>
<path d="M183.6,405.7 L188.4,405.7 L187.3,409.9 L184.7,409.9 Z" fill="#6a6a6a"/>
<path d="M207.8,384 L242.2,384 L218.7,406.9 Z" fill="url(#pyTop)"/>
<path d="M242.2,384 L242.2,417 L218.7,406.9 Z" fill="url(#pyRight)"/>
<path d="M207.8,417 L242.2,417 L218.7,406.9 Z" fill="url(#pyBot)"/>
<path d="M207.8,384 L207.8,417 L218.7,406.9 Z" fill="url(#pyLeft)"/>
<path d="M207.8,417 L207.8,415.9 Q211.8,407.9 218.7,407.4 Q238.2,407.9 242.2,415.9 L242.2,417 Z" fill="url(#pyBot2)"/>
<path d="M212.2,392.9 L225.2,391.9 L220.9,405.4 L216.5,405.4 Z" fill="#2a7ed6"/>
<path d="M216.3,404.5 L221.1,404.5 L220,408.7 L217.4,408.7 Z" fill="#6a6a6a"/>
<path d="M242.2,384 L276.6,384 L254.1,406.9 Z" fill="url(#pyTop)"/>
<path d="M276.6,384 L276.6,417 L254.1,406.9 Z" fill="url(#pyRight)"/>
<path d="M242.2,417 L276.6,417 L254.1,406.9 Z" fill="url(#pyBot)"/>
<path d="M242.2,384 L242.2,417 L254.1,406.9 Z" fill="url(#pyLeft)"/>
<path d="M242.2,417 L242.2,415.9 Q246.2,407.9 254.1,407.4 Q272.6,407.9 276.6,415.9 L276.6,417 Z" fill="url(#pyBot2)"/>
<path d="M247.6,392.9 L260.6,391.9 L256.3,405.4 L251.9,405.4 Z" fill="#2a7ed6"/>
<path d="M251.7,404.5 L256.5,404.5 L255.4,408.7 L252.8,408.7 Z" fill="#6a6a6a"/>
<path d="M276.6,384 L311,384 L287.8,405.5 Z" fill="url(#pyTop)"/>
<path d="M311,384 L311,417 L287.8,405.5 Z" fill="url(#pyRight)"/>
<path d="M276.6,417 L311,417 L287.8,405.5 Z" fill="url(#pyBot)"/>
<path d="M276.6,384 L276.6,417 L287.8,405.5 Z" fill="url(#pyLeft)"/>
<path d="M276.6,417 L276.6,414.5 Q280.6,406.5 287.8,406 Q307,406.5 311,414.5 L311,417 Z" fill="url(#pyBot2)"/>
<path d="M281.3,391.5 L294.3,390.5 L290,404 L285.6,404 Z" fill="#2a7ed6"/>
<path d="M285.4,403.1 L290.2,403.1 L289.1,407.3 L286.5,407.3 Z" fill="#6a6a6a"/>
<path d="M311,384 L345.4,384 L320.9,405.4 Z" fill="url(#pyTop)"/>
<path d="M345.4,384 L345.4,417 L320.9,405.4 Z" fill="url(#pyRight)"/>
<path d="M311,417 L345.4,417 L320.9,405.4 Z" fill="url(#pyBot)"/>
<path d="M311,384 L311,417 L320.9,405.4 Z" fill="url(#pyLeft)"/>
<path d="M311,417 L311,414.4 Q315,406.4 320.9,405.9 Q341.4,406.4 345.4,414.4 L345.4,417 Z" fill="url(#pyBot2)"/>
<path d="M314.4,391.4 L327.4,390.4 L323.1,403.9 L318.7,403.9 Z" fill="#2a7ed6"/>
<path d="M318.5,403 L323.3,403 L322.2,407.2 L319.6,407.2 Z" fill="#6a6a6a"/>
<path d="M173.4,417 L207.8,417 L186,439.3 Z" fill="url(#pyTop)"/>
<path d="M207.8,417 L207.8,450 L186,439.3 Z" fill="url(#pyRight)"/>
<path d="M173.4,450 L207.8,450 L186,439.3 Z" fill="url(#pyBot)"/>
<path d="M173.4,417 L173.4,450 L186,439.3 Z" fill="url(#pyLeft)"/>
<path d="M173.4,450 L173.4,448.3 Q177.4,440.3 186,439.8 Q203.8,440.3 207.8,448.3 L207.8,450 Z" fill="url(#pyBot2)"/>
<path d="M179.5,425.3 L192.5,424.3 L188.2,437.8 L183.8,437.8 Z" fill="#2a7ed6"/>
<path d="M183.6,436.9 L188.4,436.9 L187.3,441.1 L184.7,441.1 Z" fill="#6a6a6a"/>
<path d="M207.8,417 L242.2,417 L219.7,436.8 Z" fill="url(#pyTop)"/>
<path d="M242.2,417 L242.2,450 L219.7,436.8 Z" fill="url(#pyRight)"/>
<path d="M207.8,450 L242.2,450 L219.7,436.8 Z" fill="url(#pyBot)"/>
<path d="M207.8,417 L207.8,450 L219.7,436.8 Z" fill="url(#pyLeft)"/>
<path d="M207.8,450 L207.8,445.8 Q211.8,437.8 219.7,437.3 Q238.2,437.8 242.2,445.8 L242.2,450 Z" fill="url(#pyBot2)"/>
<path d="M213.2,422.8 L226.2,421.8 L221.9,435.3 L217.5,435.3 Z" fill="#2a7ed6"/>
<path d="M217.3,434.4 L222.1,434.4 L221,438.6 L218.4,438.6 Z" fill="#6a6a6a"/>
<path d="M242.2,417 L276.6,417 L250.9,435.6 Z" fill="url(#pyTop)"/>
<path d="M276.6,417 L276.6,450 L250.9,435.6 Z" fill="url(#pyRight)"/>
<path d="M242.2,450 L276.6,450 L250.9,435.6 Z" fill="url(#pyBot)"/>
<path d="M242.2,417 L242.2,450 L250.9,435.6 Z" fill="url(#pyLeft)"/>
<path d="M242.2,450 L242.2,444.6 Q246.2,436.6 250.9,436.1 Q272.6,436.6 276.6,444.6 L276.6,450 Z" fill="url(#pyBot2)"/>
<path d="M244.4,421.6 L257.4,420.6 L253.1,434.1 L248.7,434.1 Z" fill="#2a7ed6"/>
<path d="M248.5,433.2 L253.3,433.2 L252.2,437.4 L249.6,437.4 Z" fill="#6a6a6a"/>
<path d="M276.6,417 L311,417 L287.8,438.5 Z" fill="url(#pyTop)"/>
<path d="M311,417 L311,450 L287.8,438.5 Z" fill="url(#pyRight)"/>
<path d="M276.6,450 L311,450 L287.8,438.5 Z" fill="url(#pyBot)"/>
<path d="M276.6,417 L276.6,450 L287.8,438.5 Z" fill="url(#pyLeft)"/>
<path d="M276.6,450 L276.6,447.5 Q280.6,439.5 287.8,439 Q307,439.5 311,447.5 L311,450 Z" fill="url(#pyBot2)"/>
<path d="M281.3,424.5 L294.3,423.5 L290,437 L285.6,437 Z" fill="#2a7ed6"/>
<path d="M285.4,436.1 L290.2,436.1 L289.1,440.3 L286.5,440.3 Z" fill="#6a6a6a"/>
<path d="M311,417 L345.4,417 L320.9,434.4 Z" fill="url(#pyTop)"/>
<path d="M345.4,417 L345.4,450 L320.9,434.4 Z" fill="url(#pyRight)"/>
<path d="M311,450 L345.4,450 L320.9,434.4 Z" fill="url(#pyBot)"/>
<path d="M311,417 L311,450 L320.9,434.4 Z" fill="url(#pyLeft)"/>
<path d="M311,450 L311,443.4 Q315,435.4 320.9,434.9 Q341.4,435.4 345.4,443.4 L345.4,450 Z" fill="url(#pyBot2)"/>
<path d="M314.4,420.4 L327.4,419.4 L323.1,432.9 L318.7,432.9 Z" fill="#2a7ed6"/>
<path d="M318.5,432 L323.3,432 L322.2,436.2 L319.6,436.2 Z" fill="#6a6a6a"/>
<path d="M173.4,450 L207.8,450 L184.6,471.5 Z" fill="url(#pyTop)"/>
<path d="M207.8,450 L207.8,483 L184.6,471.5 Z" fill="url(#pyRight)"/>
<path d="M173.4,483 L207.8,483 L184.6,471.5 Z" fill="url(#pyBot)"/>
<path d="M173.4,450 L173.4,483 L184.6,471.5 Z" fill="url(#pyLeft)"/>
<path d="M173.4,483 L173.4,480.5 Q177.4,472.5 184.6,472 Q203.8,472.5 207.8,480.5 L207.8,483 Z" fill="url(#pyBot2)"/>
<path d="M178.1,457.5 L191.1,456.5 L186.8,470 L182.4,470 Z" fill="#2a7ed6"/>
<path d="M182.2,469.1 L187,469.1 L185.9,473.3 L183.3,473.3 Z" fill="#6a6a6a"/>
<path d="M207.8,450 L242.2,450 L219,471.5 Z" fill="url(#pyTop)"/>
<path d="M242.2,450 L242.2,483 L219,471.5 Z" fill="url(#pyRight)"/>
<path d="M207.8,483 L242.2,483 L219,471.5 Z" fill="url(#pyBot)"/>
<path d="M207.8,450 L207.8,483 L219,471.5 Z" fill="url(#pyLeft)"/>
<path d="M207.8,483 L207.8,480.5 Q211.8,472.5 219,472 Q238.2,472.5 242.2,480.5 L242.2,483 Z" fill="url(#pyBot2)"/>
<path d="M212.5,457.5 L225.5,456.5 L221.2,470 L216.8,470 Z" fill="#2a7ed6"/>
<path d="M216.6,469.1 L221.4,469.1 L220.3,473.3 L217.7,473.3 Z" fill="#6a6a6a"/>
<path d="M242.2,450 L276.6,450 L253.4,471.5 Z" fill="url(#pyTop)"/>
<path d="M276.6,450 L276.6,483 L253.4,471.5 Z" fill="url(#pyRight)"/>
<path d="M242.2,483 L276.6,483 L253.4,471.5 Z" fill="url(#pyBot)"/>
<path d="M242.2,450 L242.2,483 L253.4,471.5 Z" fill="url(#pyLeft)"/>
<path d="M242.2,483 L242.2,480.5 Q246.2,472.5 253.4,472 Q272.6,472.5 276.6,480.5 L276.6,483 Z" fill="url(#pyBot2)"/>
<path d="M246.9,457.5 L259.9,456.5 L255.6,470 L251.2,470 Z" fill="#2a7ed6"/>
<path d="M251,469.1 L255.8,469.1 L254.7,473.3 L252.1,473.3 Z" fill="#6a6a6a"/>
<path d="M276.6,450 L311,450 L287.8,471.5 Z" fill="url(#pyTop)"/>
<path d="M311,450 L311,483 L287.8,471.5 Z" fill="url(#pyRight)"/>
<path d="M276.6,483 L311,483 L287.8,471.5 Z" fill="url(#pyBot)"/>
<path d="M276.6,450 L276.6,483 L287.8,471.5 Z" fill="url(#pyLeft)"/>
<path d="M276.6,483 L276.6,480.5 Q280.6,472.5 287.8,472 Q307,472.5 311,480.5 L311,483 Z" fill="url(#pyBot2)"/>
<path d="M281.3,457.5 L294.3,456.5 L290,470 L285.6,470 Z" fill="#2a7ed6"/>
<path d="M285.4,469.1 L290.2,469.1 L289.1,473.3 L286.5,473.3 Z" fill="#6a6a6a"/>
<path d="M311,450 L345.4,450 L322.2,471.5 Z" fill="url(#pyTop)"/>
<path d="M345.4,450 L345.4,483 L322.2,471.5 Z" fill="url(#pyRight)"/>
<path d="M311,483 L345.4,483 L322.2,471.5 Z" fill="url(#pyBot)"/>
<path d="M311,450 L311,483 L322.2,471.5 Z" fill="url(#pyLeft)"/>
<path d="M311,483 L311,480.5 Q315,472.5 322.2,472 Q341.4,472.5 345.4,480.5 L345.4,483 Z" fill="url(#pyBot2)"/>
<path d="M315.7,457.5 L328.7,456.5 L324.4,470 L320,470 Z" fill="#2a7ed6"/>
<path d="M319.8,469.1 L324.6,469.1 L323.5,473.3 L320.9,473.3 Z" fill="#6a6a6a"/>
<rect x="176.4" y="337.3" width="85.8" height="67.5" fill="#e6eaee" opacity="0.84"/>
<rect x="195.4" y="343.6" width="48.7" height="45.6" fill="#ad2b24"/>
<circle cx="207.7" cy="355.1" r="9.7" fill="#2e5a8e"/>
<circle cx="207.7" cy="378.2" r="9.7" fill="#2e5a8e"/>
<circle cx="231.8" cy="355.1" r="9.7" fill="#2e5a8e"/>
<circle cx="231.8" cy="378.2" r="9.7" fill="#2e5a8e"/>
<rect x="247.2" y="343.6" width="2.8" height="23.6" fill="#2e5a8e"/>
<rect x="247.2" y="367.2" width="2.8" height="22" fill="#ad2b24"/>
<text x="193.8" y="345.8" font-size="6.4" text-anchor="end" fill="#222">150</text>
<text x="193.8" y="368.4" font-size="6.4" text-anchor="end" fill="#222">0</text>
<text x="193.8" y="391.2" font-size="6.4" text-anchor="end" fill="#222">-150</text>
<text x="195.5" y="396" font-size="6.4" text-anchor="middle" fill="#222">-150</text>
<text x="219.7" y="396" font-size="6.4" text-anchor="middle" fill="#222">0</text>
<text x="244" y="396" font-size="6.4" text-anchor="middle" fill="#222">150</text>
<text x="221.3" y="404" font-size="8.4" text-anchor="middle" fill="#222">X (mm)</text>
<g transform="translate(184.6,366.4) rotate(-90)"><text x="0" y="0" font-size="8.4" text-anchor="middle" fill="#222">Y (mm)</text></g>
<text x="243" y="341.3" font-size="4.8" fill="#333">K×10</text>
<text x="254.6" y="339.3" font-size="3.4" fill="#333">-1</text>
<text x="250.6" y="345.8" font-size="5" fill="#333">1.38</text>
<text x="250.6" y="391.2" font-size="5" fill="#333">0.00</text>
<circle cx="283.6" cy="404.8" r="21.4" fill="#bcc4d0"/>
<line x1="306" y1="411" x2="320" y2="409" stroke="#8a8a8a" stroke-width="0.6"/>
<rect x="261.8" y="395" width="44.1" height="43.2" fill="#d6cfbf"/>
<rect x="263.1" y="396.3" width="41.5" height="40.6" fill="url(#pLattice)"/>
<rect x="263.1" y="396.3" width="41.5" height="40.6" fill="url(#gBlockHi)"/>
<rect x="258" y="450" width="48" height="7" fill="#3c5078"/>
<rect x="252.2" y="444.8" width="59.6" height="6.5" fill="#8e98aa"/>
<rect x="236.8" y="437.4" width="90.4" height="7.4" fill="#d2d2d2"/>
<rect x="236.8" y="443" width="90.4" height="1.8" fill="#a8a8a8"/>
</g>
<text x="349.8" y="331.8" font-size="16" font-weight="bold" fill="#000">h</text>
<circle cx="379.4" cy="364.45" r="2" fill="none" stroke="#5a8fcc" stroke-width="0.8"/>
<circle cx="380.87" cy="365.64" r="2" fill="none" stroke="#5a8fcc" stroke-width="0.8"/>
<circle cx="382.33" cy="370.46" r="2" fill="none" stroke="#5a8fcc" stroke-width="0.8"/>
<circle cx="383.8" cy="372.46" r="2" fill="none" stroke="#5a8fcc" stroke-width="0.8"/>
<circle cx="385.26" cy="371.44" r="2" fill="none" stroke="#5a8fcc" stroke-width="0.8"/>
<circle cx="386.73" cy="373.74" r="2" fill="none" stroke="#5a8fcc" stroke-width="0.8"/>
<circle cx="388.19" cy="376.92" r="2" fill="none" stroke="#5a8fcc" stroke-width="0.8"/>
<circle cx="389.66" cy="378.07" r="2" fill="none" stroke="#5a8fcc" stroke-width="0.8"/>
<circle cx="391.12" cy="379.43" r="2" fill="none" stroke="#5a8fcc" stroke-width="0.8"/>
<circle cx="392.59" cy="383.41" r="2" fill="none" stroke="#5a8fcc" stroke-width="0.8"/>
<circle cx="394.05" cy="384.89" r="2" fill="none" stroke="#5a8fcc" stroke-width="0.8"/>
<circle cx="395.52" cy="386.61" r="2" fill="none" stroke="#5a8fcc" stroke-width="0.8"/>
<circle cx="396.98" cy="390.85" r="2" fill="none" stroke="#5a8fcc" stroke-width="0.8"/>
<circle cx="398.45" cy="392.37" r="2" fill="none" stroke="#5a8fcc" stroke-width="0.8"/>
<circle cx="399.91" cy="392.11" r="2" fill="none" stroke="#5a8fcc" stroke-width="0.8"/>
<circle cx="401.38" cy="395.41" r="2" fill="none" stroke="#5a8fcc" stroke-width="0.8"/>
<circle cx="402.84" cy="397.41" r="2" fill="none" stroke="#5a8fcc" stroke-width="0.8"/>
<circle cx="404.31" cy="401.69" r="2" fill="none" stroke="#5a8fcc" stroke-width="0.8"/>
<circle cx="405.77" cy="403.36" r="2" fill="none" stroke="#5a8fcc" stroke-width="0.8"/>
<circle cx="407.24" cy="409.3" r="2" fill="none" stroke="#5a8fcc" stroke-width="0.8"/>
<circle cx="408.7" cy="413.73" r="2" fill="none" stroke="#5a8fcc" stroke-width="0.8"/>
<circle cx="410.17" cy="415.81" r="2" fill="none" stroke="#5a8fcc" stroke-width="0.8"/>
<circle cx="411.63" cy="414.68" r="2" fill="none" stroke="#5a8fcc" stroke-width="0.8"/>
<circle cx="413.1" cy="412.6" r="2" fill="none" stroke="#5a8fcc" stroke-width="0.8"/>
<circle cx="414.56" cy="411.71" r="2" fill="none" stroke="#5a8fcc" stroke-width="0.8"/>
<circle cx="416.03" cy="407.21" r="2" fill="none" stroke="#5a8fcc" stroke-width="0.8"/>
<circle cx="417.49" cy="417.26" r="2" fill="none" stroke="#5a8fcc" stroke-width="0.8"/>
<circle cx="418.96" cy="409.07" r="2" fill="none" stroke="#5a8fcc" stroke-width="0.8"/>
<circle cx="420.42" cy="403.33" r="2" fill="none" stroke="#5a8fcc" stroke-width="0.8"/>
<circle cx="421.89" cy="402.13" r="2" fill="none" stroke="#5a8fcc" stroke-width="0.8"/>
<circle cx="423.35" cy="396.29" r="2" fill="none" stroke="#5a8fcc" stroke-width="0.8"/>
<circle cx="424.82" cy="395.43" r="2" fill="none" stroke="#5a8fcc" stroke-width="0.8"/>
<circle cx="426.28" cy="401.27" r="2" fill="none" stroke="#5a8fcc" stroke-width="0.8"/>
<circle cx="427.75" cy="395.43" r="2" fill="none" stroke="#5a8fcc" stroke-width="0.8"/>
<circle cx="429.21" cy="389.59" r="2" fill="none" stroke="#5a8fcc" stroke-width="0.8"/>
<circle cx="430.68" cy="389.08" r="2" fill="none" stroke="#5a8fcc" stroke-width="0.8"/>
<circle cx="432.15" cy="387.37" r="2" fill="none" stroke="#5a8fcc" stroke-width="0.8"/>
<circle cx="433.61" cy="384.55" r="2" fill="none" stroke="#5a8fcc" stroke-width="0.8"/>
<circle cx="435.08" cy="386.73" r="2" fill="none" stroke="#5a8fcc" stroke-width="0.8"/>
<circle cx="436.54" cy="388.43" r="2" fill="none" stroke="#5a8fcc" stroke-width="0.8"/>
<circle cx="438.01" cy="384.66" r="2" fill="none" stroke="#5a8fcc" stroke-width="0.8"/>
<circle cx="439.47" cy="383.65" r="2" fill="none" stroke="#5a8fcc" stroke-width="0.8"/>
<circle cx="440.94" cy="388.32" r="2" fill="none" stroke="#5a8fcc" stroke-width="0.8"/>
<circle cx="442.4" cy="391.07" r="2" fill="none" stroke="#5a8fcc" stroke-width="0.8"/>
<circle cx="443.87" cy="389.6" r="2" fill="none" stroke="#5a8fcc" stroke-width="0.8"/>
<circle cx="445.33" cy="388.28" r="2" fill="none" stroke="#5a8fcc" stroke-width="0.8"/>
<circle cx="446.8" cy="386.8" r="2" fill="none" stroke="#5a8fcc" stroke-width="0.8"/>
<circle cx="448.26" cy="385.22" r="2" fill="none" stroke="#5a8fcc" stroke-width="0.8"/>
<circle cx="449.73" cy="387.87" r="2" fill="none" stroke="#5a8fcc" stroke-width="0.8"/>
<circle cx="451.19" cy="389.56" r="2" fill="none" stroke="#5a8fcc" stroke-width="0.8"/>
<circle cx="452.66" cy="387.06" r="2" fill="none" stroke="#5a8fcc" stroke-width="0.8"/>
<circle cx="454.12" cy="387.19" r="2" fill="none" stroke="#5a8fcc" stroke-width="0.8"/>
<circle cx="455.59" cy="389.2" r="2" fill="none" stroke="#5a8fcc" stroke-width="0.8"/>
<circle cx="457.05" cy="387.2" r="2" fill="none" stroke="#5a8fcc" stroke-width="0.8"/>
<circle cx="458.52" cy="385.96" r="2" fill="none" stroke="#5a8fcc" stroke-width="0.8"/>
<circle cx="459.98" cy="388.32" r="2" fill="none" stroke="#5a8fcc" stroke-width="0.8"/>
<circle cx="461.45" cy="387.66" r="2" fill="none" stroke="#5a8fcc" stroke-width="0.8"/>
<circle cx="462.91" cy="385.33" r="2" fill="none" stroke="#5a8fcc" stroke-width="0.8"/>
<circle cx="464.38" cy="386.98" r="2" fill="none" stroke="#5a8fcc" stroke-width="0.8"/>
<circle cx="465.84" cy="387.53" r="2" fill="none" stroke="#5a8fcc" stroke-width="0.8"/>
<circle cx="467.31" cy="384.61" r="2" fill="none" stroke="#5a8fcc" stroke-width="0.8"/>
<circle cx="468.77" cy="384.94" r="2" fill="none" stroke="#5a8fcc" stroke-width="0.8"/>
<circle cx="470.24" cy="386.72" r="2" fill="none" stroke="#5a8fcc" stroke-width="0.8"/>
<circle cx="471.7" cy="384.47" r="2" fill="none" stroke="#5a8fcc" stroke-width="0.8"/>
<circle cx="473.17" cy="383.55" r="2" fill="none" stroke="#5a8fcc" stroke-width="0.8"/>
<circle cx="474.63" cy="385.97" r="2" fill="none" stroke="#5a8fcc" stroke-width="0.8"/>
<circle cx="476.1" cy="385.13" r="2" fill="none" stroke="#5a8fcc" stroke-width="0.8"/>
<circle cx="477.56" cy="383.32" r="2" fill="none" stroke="#5a8fcc" stroke-width="0.8"/>
<circle cx="479.03" cy="385.6" r="2" fill="none" stroke="#5a8fcc" stroke-width="0.8"/>
<circle cx="480.49" cy="386.14" r="2" fill="none" stroke="#5a8fcc" stroke-width="0.8"/>
<circle cx="481.96" cy="382.82" r="2" fill="none" stroke="#5a8fcc" stroke-width="0.8"/>
<circle cx="483.43" cy="385.35" r="2" fill="none" stroke="#5a8fcc" stroke-width="0.8"/>
<circle cx="484.89" cy="392.91" r="2" fill="none" stroke="#5a8fcc" stroke-width="0.8"/>
<circle cx="486.36" cy="394.19" r="2" fill="none" stroke="#5a8fcc" stroke-width="0.8"/>
<circle cx="487.82" cy="397.9" r="2" fill="none" stroke="#5a8fcc" stroke-width="0.8"/>
<circle cx="489.29" cy="406.32" r="2" fill="none" stroke="#5a8fcc" stroke-width="0.8"/>
<circle cx="490.75" cy="409.66" r="2" fill="none" stroke="#5a8fcc" stroke-width="0.8"/>
<circle cx="492.22" cy="410.75" r="2" fill="none" stroke="#5a8fcc" stroke-width="0.8"/>
<circle cx="493.68" cy="411.91" r="2" fill="none" stroke="#5a8fcc" stroke-width="0.8"/>
<circle cx="495.15" cy="412.71" r="2" fill="none" stroke="#5a8fcc" stroke-width="0.8"/>
<circle cx="496.61" cy="417.55" r="2" fill="none" stroke="#5a8fcc" stroke-width="0.8"/>
<circle cx="498.08" cy="420.16" r="2" fill="none" stroke="#5a8fcc" stroke-width="0.8"/>
<circle cx="499.54" cy="423.38" r="2" fill="none" stroke="#5a8fcc" stroke-width="0.8"/>
<circle cx="501.01" cy="428.28" r="2" fill="none" stroke="#5a8fcc" stroke-width="0.8"/>
<circle cx="502.47" cy="427.98" r="2" fill="none" stroke="#5a8fcc" stroke-width="0.8"/>
<circle cx="503.94" cy="423.35" r="2" fill="none" stroke="#5a8fcc" stroke-width="0.8"/>
<circle cx="505.4" cy="414.56" r="2" fill="none" stroke="#5a8fcc" stroke-width="0.8"/>
<circle cx="506.87" cy="408.93" r="2" fill="none" stroke="#5a8fcc" stroke-width="0.8"/>
<circle cx="379.4" cy="357.6" r="2" fill="none" stroke="#b0305a" stroke-width="0.8"/>
<circle cx="380.77" cy="359.13" r="2" fill="none" stroke="#b0305a" stroke-width="0.8"/>
<circle cx="382.15" cy="360.99" r="2" fill="none" stroke="#b0305a" stroke-width="0.8"/>
<circle cx="383.52" cy="363.37" r="2" fill="none" stroke="#b0305a" stroke-width="0.8"/>
<circle cx="384.89" cy="364.93" r="2" fill="none" stroke="#b0305a" stroke-width="0.8"/>
<circle cx="386.27" cy="364.78" r="2" fill="none" stroke="#b0305a" stroke-width="0.8"/>
<circle cx="387.64" cy="363.44" r="2" fill="none" stroke="#b0305a" stroke-width="0.8"/>
<circle cx="389.01" cy="362.47" r="2" fill="none" stroke="#b0305a" stroke-width="0.8"/>
<circle cx="390.39" cy="362.93" r="2" fill="none" stroke="#b0305a" stroke-width="0.8"/>
<circle cx="391.76" cy="364.39" r="2" fill="none" stroke="#b0305a" stroke-width="0.8"/>
<circle cx="393.14" cy="365.37" r="2" fill="none" stroke="#b0305a" stroke-width="0.8"/>
<circle cx="394.51" cy="364.9" r="2" fill="none" stroke="#b0305a" stroke-width="0.8"/>
<circle cx="395.88" cy="363.53" r="2" fill="none" stroke="#b0305a" stroke-width="0.8"/>
<circle cx="397.26" cy="362.75" r="2" fill="none" stroke="#b0305a" stroke-width="0.8"/>
<circle cx="398.63" cy="363.38" r="2" fill="none" stroke="#b0305a" stroke-width="0.8"/>
<circle cx="400" cy="364.73" r="2" fill="none" stroke="#b0305a" stroke-width="0.8"/>
<circle cx="401.38" cy="365.3" r="2" fill="none" stroke="#b0305a" stroke-width="0.8"/>
<circle cx="402.75" cy="364.39" r="2" fill="none" stroke="#b0305a" stroke-width="0.8"/>
<circle cx="404.12" cy="362.87" r="2" fill="none" stroke="#b0305a" stroke-width="0.8"/>
<circle cx="405.5" cy="362.21" r="2" fill="none" stroke="#b0305a" stroke-width="0.8"/>
<circle cx="406.87" cy="362.99" r="2" fill="none" stroke="#b0305a" stroke-width="0.8"/>
<circle cx="408.25" cy="364.13" r="2" fill="none" stroke="#b0305a" stroke-width="0.8"/>
<circle cx="409.62" cy="364.11" r="2" fill="none" stroke="#b0305a" stroke-width="0.8"/>
<circle cx="410.99" cy="362.97" r="2" fill="none" stroke="#b0305a" stroke-width="0.8"/>
<circle cx="412.37" cy="361.97" r="2" fill="none" stroke="#b0305a" stroke-width="0.8"/>
<circle cx="413.74" cy="362.35" r="2" fill="none" stroke="#b0305a" stroke-width="0.8"/>
<circle cx="415.11" cy="364.17" r="2" fill="none" stroke="#b0305a" stroke-width="0.8"/>
<circle cx="416.49" cy="366.13" r="2" fill="none" stroke="#b0305a" stroke-width="0.8"/>
<circle cx="417.86" cy="366.7" r="2" fill="none" stroke="#b0305a" stroke-width="0.8"/>
<circle cx="419.23" cy="365.5" r="2" fill="none" stroke="#b0305a" stroke-width="0.8"/>
<circle cx="420.61" cy="363.84" r="2" fill="none" stroke="#b0305a" stroke-width="0.8"/>
<circle cx="421.98" cy="363.62" r="2" fill="none" stroke="#b0305a" stroke-width="0.8"/>
<circle cx="423.35" cy="364.92" r="2" fill="none" stroke="#b0305a" stroke-width="0.8"/>
<circle cx="424.73" cy="365.91" r="2" fill="none" stroke="#b0305a" stroke-width="0.8"/>
<circle cx="426.1" cy="364.4" r="2" fill="none" stroke="#b0305a" stroke-width="0.8"/>
<circle cx="427.48" cy="361.26" r="2" fill="none" stroke="#b0305a" stroke-width="0.8"/>
<circle cx="428.85" cy="359.97" r="2" fill="none" stroke="#b0305a" stroke-width="0.8"/>
<circle cx="430.22" cy="360.48" r="2" fill="none" stroke="#b0305a" stroke-width="0.8"/>
<circle cx="431.6" cy="362.12" r="2" fill="none" stroke="#b0305a" stroke-width="0.8"/>
<circle cx="432.97" cy="363.37" r="2" fill="none" stroke="#b0305a" stroke-width="0.8"/>
<circle cx="434.34" cy="363.23" r="2" fill="none" stroke="#b0305a" stroke-width="0.8"/>
<circle cx="435.72" cy="362.38" r="2" fill="none" stroke="#b0305a" stroke-width="0.8"/>
<circle cx="437.09" cy="362.36" r="2" fill="none" stroke="#b0305a" stroke-width="0.8"/>
<circle cx="438.46" cy="363.64" r="2" fill="none" stroke="#b0305a" stroke-width="0.8"/>
<circle cx="439.84" cy="365.2" r="2" fill="none" stroke="#b0305a" stroke-width="0.8"/>
<circle cx="441.21" cy="365.6" r="2" fill="none" stroke="#b0305a" stroke-width="0.8"/>
<circle cx="442.58" cy="364.49" r="2" fill="none" stroke="#b0305a" stroke-width="0.8"/>
<circle cx="443.96" cy="362.88" r="2" fill="none" stroke="#b0305a" stroke-width="0.8"/>
<circle cx="445.33" cy="362.18" r="2" fill="none" stroke="#b0305a" stroke-width="0.8"/>
<circle cx="446.71" cy="362.93" r="2" fill="none" stroke="#b0305a" stroke-width="0.8"/>
<circle cx="448.08" cy="364.14" r="2" fill="none" stroke="#b0305a" stroke-width="0.8"/>
<circle cx="449.45" cy="364.37" r="2" fill="none" stroke="#b0305a" stroke-width="0.8"/>
<circle cx="450.83" cy="363.2" r="2" fill="none" stroke="#b0305a" stroke-width="0.8"/>
<circle cx="452.2" cy="361.73" r="2" fill="none" stroke="#b0305a" stroke-width="0.8"/>
<circle cx="453.57" cy="361.41" r="2" fill="none" stroke="#b0305a" stroke-width="0.8"/>
<circle cx="454.95" cy="362.47" r="2" fill="none" stroke="#b0305a" stroke-width="0.8"/>
<circle cx="456.32" cy="363.72" r="2" fill="none" stroke="#b0305a" stroke-width="0.8"/>
<circle cx="457.69" cy="363.77" r="2" fill="none" stroke="#b0305a" stroke-width="0.8"/>
<circle cx="459.07" cy="362.53" r="2" fill="none" stroke="#b0305a" stroke-width="0.8"/>
<circle cx="460.44" cy="361.27" r="2" fill="none" stroke="#b0305a" stroke-width="0.8"/>
<circle cx="461.81" cy="361.26" r="2" fill="none" stroke="#b0305a" stroke-width="0.8"/>
<circle cx="463.19" cy="362.41" r="2" fill="none" stroke="#b0305a" stroke-width="0.8"/>
<circle cx="464.56" cy="363.35" r="2" fill="none" stroke="#b0305a" stroke-width="0.8"/>
<circle cx="465.94" cy="362.91" r="2" fill="none" stroke="#b0305a" stroke-width="0.8"/>
<circle cx="467.31" cy="361.37" r="2" fill="none" stroke="#b0305a" stroke-width="0.8"/>
<circle cx="468.68" cy="360.17" r="2" fill="none" stroke="#b0305a" stroke-width="0.8"/>
<circle cx="470.06" cy="360.45" r="2" fill="none" stroke="#b0305a" stroke-width="0.8"/>
<circle cx="471.43" cy="361.82" r="2" fill="none" stroke="#b0305a" stroke-width="0.8"/>
<circle cx="472.8" cy="362.82" r="2" fill="none" stroke="#b0305a" stroke-width="0.8"/>
<circle cx="474.18" cy="362.46" r="2" fill="none" stroke="#b0305a" stroke-width="0.8"/>
<circle cx="475.55" cy="361.26" r="2" fill="none" stroke="#b0305a" stroke-width="0.8"/>
<circle cx="476.92" cy="360.68" r="2" fill="none" stroke="#b0305a" stroke-width="0.8"/>
<circle cx="478.3" cy="361.55" r="2" fill="none" stroke="#b0305a" stroke-width="0.8"/>
<circle cx="479.67" cy="363.09" r="2" fill="none" stroke="#b0305a" stroke-width="0.8"/>
<circle cx="481.04" cy="363.71" r="2" fill="none" stroke="#b0305a" stroke-width="0.8"/>
<circle cx="482.42" cy="362.62" r="2" fill="none" stroke="#b0305a" stroke-width="0.8"/>
<circle cx="483.79" cy="360.73" r="2" fill="none" stroke="#b0305a" stroke-width="0.8"/>
<circle cx="485.17" cy="359.97" r="2" fill="none" stroke="#b0305a" stroke-width="0.8"/>
<circle cx="486.54" cy="360.77" r="2" fill="none" stroke="#b0305a" stroke-width="0.8"/>
<circle cx="487.91" cy="362.15" r="2" fill="none" stroke="#b0305a" stroke-width="0.8"/>
<circle cx="489.29" cy="362.69" r="2" fill="none" stroke="#b0305a" stroke-width="0.8"/>
<circle cx="490.66" cy="362.14" r="2" fill="none" stroke="#b0305a" stroke-width="0.8"/>
<circle cx="492.03" cy="361.47" r="2" fill="none" stroke="#b0305a" stroke-width="0.8"/>
<circle cx="493.41" cy="361.74" r="2" fill="none" stroke="#b0305a" stroke-width="0.8"/>
<circle cx="494.78" cy="362.87" r="2" fill="none" stroke="#b0305a" stroke-width="0.8"/>
<circle cx="496.15" cy="363.75" r="2" fill="none" stroke="#b0305a" stroke-width="0.8"/>
<circle cx="497.53" cy="363.39" r="2" fill="none" stroke="#b0305a" stroke-width="0.8"/>
<circle cx="498.9" cy="362.07" r="2" fill="none" stroke="#b0305a" stroke-width="0.8"/>
<circle cx="500.27" cy="361.06" r="2" fill="none" stroke="#b0305a" stroke-width="0.8"/>
<circle cx="501.65" cy="361.5" r="2" fill="none" stroke="#b0305a" stroke-width="0.8"/>
<circle cx="503.02" cy="363.23" r="2" fill="none" stroke="#b0305a" stroke-width="0.8"/>
<circle cx="504.4" cy="364.9" r="2" fill="none" stroke="#b0305a" stroke-width="0.8"/>
<circle cx="505.77" cy="365.3" r="2" fill="none" stroke="#b0305a" stroke-width="0.8"/>
<circle cx="507.14" cy="364.63" r="2" fill="none" stroke="#b0305a" stroke-width="0.8"/>
<circle cx="389.7" cy="341" r="1.9" fill="none" stroke="#b0305a" stroke-width="1"/>
<circle cx="389.7" cy="349" r="1.9" fill="none" stroke="#5a8fcc" stroke-width="1"/>
<text x="397.4" y="343.6" font-size="6.6" fill="#222">Meas. (Metal surface)</text>
<text x="397.4" y="351.4" font-size="6.6" fill="#222">Meas. (Absorber)</text>
<line x1="379.4" y1="335.3" x2="507.6" y2="335.3" stroke="#777" stroke-width="1.4"/>
<line x1="507.6" y1="335.3" x2="507.6" y2="438.2" stroke="#c4c4c4" stroke-width="1.1"/>
<line x1="379.4" y1="335.3" x2="379.4" y2="438.2" stroke="#8a8a8a" stroke-width="1.1"/>
<line x1="379.4" y1="438.2" x2="507.6" y2="438.2" stroke="#555" stroke-width="1.1"/>
<line x1="377.6" y1="335.3" x2="379.4" y2="335.3" stroke="#444" stroke-width="0.9"/>
<text x="376.6" y="338.4" font-size="8.6" text-anchor="end" fill="#222">5</text>
<line x1="377.6" y1="352.45" x2="379.4" y2="352.45" stroke="#444" stroke-width="0.9"/>
<text x="376.6" y="355.55" font-size="8.6" text-anchor="end" fill="#222">0</text>
<line x1="377.6" y1="369.6" x2="379.4" y2="369.6" stroke="#444" stroke-width="0.9"/>
<text x="376.6" y="372.7" font-size="8.6" text-anchor="end" fill="#222">-5</text>
<line x1="377.6" y1="386.75" x2="379.4" y2="386.75" stroke="#444" stroke-width="0.9"/>
<text x="376.6" y="389.85" font-size="8.6" text-anchor="end" fill="#222">-10</text>
<line x1="377.6" y1="403.9" x2="379.4" y2="403.9" stroke="#444" stroke-width="0.9"/>
<text x="376.6" y="407" font-size="8.6" text-anchor="end" fill="#222">-15</text>
<line x1="377.6" y1="421.05" x2="379.4" y2="421.05" stroke="#444" stroke-width="0.9"/>
<text x="376.6" y="424.15" font-size="8.6" text-anchor="end" fill="#222">-20</text>
<line x1="377.6" y1="438.2" x2="379.4" y2="438.2" stroke="#444" stroke-width="0.9"/>
<text x="376.6" y="441.3" font-size="8.6" text-anchor="end" fill="#222">-25</text>
<line x1="378.4" y1="343.88" x2="379.4" y2="343.88" stroke="#444" stroke-width="0.8"/>
<line x1="378.4" y1="361.02" x2="379.4" y2="361.02" stroke="#444" stroke-width="0.8"/>
<line x1="378.4" y1="378.18" x2="379.4" y2="378.18" stroke="#444" stroke-width="0.8"/>
<line x1="378.4" y1="395.32" x2="379.4" y2="395.32" stroke="#444" stroke-width="0.8"/>
<line x1="378.4" y1="412.48" x2="379.4" y2="412.48" stroke="#444" stroke-width="0.8"/>
<line x1="378.4" y1="429.62" x2="379.4" y2="429.62" stroke="#444" stroke-width="0.8"/>
<line x1="379.4" y1="438.2" x2="379.4" y2="439.7" stroke="#444" stroke-width="0.9"/>
<text x="379.4" y="448.4" font-size="8.4" text-anchor="middle" fill="#222">4</text>
<line x1="397.71" y1="438.2" x2="397.71" y2="439.7" stroke="#444" stroke-width="0.9"/>
<text x="397.71" y="448.4" font-size="8.4" text-anchor="middle" fill="#222">6</text>
<line x1="416.03" y1="438.2" x2="416.03" y2="439.7" stroke="#444" stroke-width="0.9"/>
<text x="416.03" y="448.4" font-size="8.4" text-anchor="middle" fill="#222">8</text>
<line x1="434.34" y1="438.2" x2="434.34" y2="439.7" stroke="#444" stroke-width="0.9"/>
<text x="434.34" y="448.4" font-size="8.4" text-anchor="middle" fill="#222">10</text>
<line x1="452.66" y1="438.2" x2="452.66" y2="439.7" stroke="#444" stroke-width="0.9"/>
<text x="452.66" y="448.4" font-size="8.4" text-anchor="middle" fill="#222">12</text>
<line x1="470.97" y1="438.2" x2="470.97" y2="439.7" stroke="#444" stroke-width="0.9"/>
<text x="470.97" y="448.4" font-size="8.4" text-anchor="middle" fill="#222">14</text>
<line x1="489.29" y1="438.2" x2="489.29" y2="439.7" stroke="#444" stroke-width="0.9"/>
<text x="489.29" y="448.4" font-size="8.4" text-anchor="middle" fill="#222">16</text>
<line x1="507.6" y1="438.2" x2="507.6" y2="439.7" stroke="#444" stroke-width="0.9"/>
<text x="507.6" y="448.4" font-size="8.4" text-anchor="middle" fill="#222">18</text>
<line x1="388.56" y1="438.2" x2="388.56" y2="439.2" stroke="#444" stroke-width="0.8"/>
<line x1="406.87" y1="438.2" x2="406.87" y2="439.2" stroke="#444" stroke-width="0.8"/>
<line x1="425.19" y1="438.2" x2="425.19" y2="439.2" stroke="#444" stroke-width="0.8"/>
<line x1="443.5" y1="438.2" x2="443.5" y2="439.2" stroke="#444" stroke-width="0.8"/>
<line x1="461.81" y1="438.2" x2="461.81" y2="439.2" stroke="#444" stroke-width="0.8"/>
<line x1="480.13" y1="438.2" x2="480.13" y2="439.2" stroke="#444" stroke-width="0.8"/>
<line x1="498.44" y1="438.2" x2="498.44" y2="439.2" stroke="#444" stroke-width="0.8"/>
<text x="444" y="463" font-size="11.4" text-anchor="middle" fill="#111">Frequency  (GHz)</text>
<g transform="translate(360.9,386.3) rotate(-90)"><text x="0" y="0" font-size="11.8" text-anchor="middle" fill="#111">RCS  (dBsm)</text></g>
<text x="525" y="331.8" font-size="16" font-weight="bold" fill="#000">i</text>
<circle cx="552.2" cy="419.33" r="2" fill="none" stroke="#5a8fcc" stroke-width="0.8"/>
<circle cx="553.67" cy="418.68" r="2" fill="none" stroke="#5a8fcc" stroke-width="0.8"/>
<circle cx="555.13" cy="416.87" r="2" fill="none" stroke="#5a8fcc" stroke-width="0.8"/>
<circle cx="556.6" cy="414.75" r="2" fill="none" stroke="#5a8fcc" stroke-width="0.8"/>
<circle cx="558.06" cy="412.02" r="2" fill="none" stroke="#5a8fcc" stroke-width="0.8"/>
<circle cx="559.53" cy="413.28" r="2" fill="none" stroke="#5a8fcc" stroke-width="0.8"/>
<circle cx="560.99" cy="413.78" r="2" fill="none" stroke="#5a8fcc" stroke-width="0.8"/>
<circle cx="562.46" cy="410.36" r="2" fill="none" stroke="#5a8fcc" stroke-width="0.8"/>
<circle cx="563.92" cy="409.06" r="2" fill="none" stroke="#5a8fcc" stroke-width="0.8"/>
<circle cx="565.39" cy="408.95" r="2" fill="none" stroke="#5a8fcc" stroke-width="0.8"/>
<circle cx="566.85" cy="405.67" r="2" fill="none" stroke="#5a8fcc" stroke-width="0.8"/>
<circle cx="568.32" cy="403.61" r="2" fill="none" stroke="#5a8fcc" stroke-width="0.8"/>
<circle cx="569.78" cy="406.27" r="2" fill="none" stroke="#5a8fcc" stroke-width="0.8"/>
<circle cx="571.25" cy="406.71" r="2" fill="none" stroke="#5a8fcc" stroke-width="0.8"/>
<circle cx="572.71" cy="406.47" r="2" fill="none" stroke="#5a8fcc" stroke-width="0.8"/>
<circle cx="574.18" cy="412.68" r="2" fill="none" stroke="#5a8fcc" stroke-width="0.8"/>
<circle cx="575.64" cy="416.58" r="2" fill="none" stroke="#5a8fcc" stroke-width="0.8"/>
<circle cx="577.11" cy="415.29" r="2" fill="none" stroke="#5a8fcc" stroke-width="0.8"/>
<circle cx="578.57" cy="417.18" r="2" fill="none" stroke="#5a8fcc" stroke-width="0.8"/>
<circle cx="580.04" cy="423.37" r="2" fill="none" stroke="#5a8fcc" stroke-width="0.8"/>
<circle cx="581.5" cy="421.88" r="2" fill="none" stroke="#5a8fcc" stroke-width="0.8"/>
<circle cx="582.97" cy="419.36" r="2" fill="none" stroke="#5a8fcc" stroke-width="0.8"/>
<circle cx="584.43" cy="421.7" r="2" fill="none" stroke="#5a8fcc" stroke-width="0.8"/>
<circle cx="585.9" cy="424.14" r="2" fill="none" stroke="#5a8fcc" stroke-width="0.8"/>
<circle cx="587.36" cy="425.96" r="2" fill="none" stroke="#5a8fcc" stroke-width="0.8"/>
<circle cx="588.83" cy="426.76" r="2" fill="none" stroke="#5a8fcc" stroke-width="0.8"/>
<circle cx="590.29" cy="426.55" r="2" fill="none" stroke="#5a8fcc" stroke-width="0.8"/>
<circle cx="591.76" cy="423.22" r="2" fill="none" stroke="#5a8fcc" stroke-width="0.8"/>
<circle cx="593.22" cy="423.43" r="2" fill="none" stroke="#5a8fcc" stroke-width="0.8"/>
<circle cx="594.69" cy="424.55" r="2" fill="none" stroke="#5a8fcc" stroke-width="0.8"/>
<circle cx="596.15" cy="421.71" r="2" fill="none" stroke="#5a8fcc" stroke-width="0.8"/>
<circle cx="597.62" cy="420.75" r="2" fill="none" stroke="#5a8fcc" stroke-width="0.8"/>
<circle cx="599.08" cy="422.74" r="2" fill="none" stroke="#5a8fcc" stroke-width="0.8"/>
<circle cx="600.55" cy="421.09" r="2" fill="none" stroke="#5a8fcc" stroke-width="0.8"/>
<circle cx="602.01" cy="418.88" r="2" fill="none" stroke="#5a8fcc" stroke-width="0.8"/>
<circle cx="603.48" cy="420.65" r="2" fill="none" stroke="#5a8fcc" stroke-width="0.8"/>
<circle cx="604.95" cy="420.34" r="2" fill="none" stroke="#5a8fcc" stroke-width="0.8"/>
<circle cx="606.41" cy="417.37" r="2" fill="none" stroke="#5a8fcc" stroke-width="0.8"/>
<circle cx="607.88" cy="418.21" r="2" fill="none" stroke="#5a8fcc" stroke-width="0.8"/>
<circle cx="609.34" cy="419.34" r="2" fill="none" stroke="#5a8fcc" stroke-width="0.8"/>
<circle cx="610.81" cy="416.57" r="2" fill="none" stroke="#5a8fcc" stroke-width="0.8"/>
<circle cx="612.27" cy="416.15" r="2" fill="none" stroke="#5a8fcc" stroke-width="0.8"/>
<circle cx="613.74" cy="418.19" r="2" fill="none" stroke="#5a8fcc" stroke-width="0.8"/>
<circle cx="615.2" cy="416.39" r="2" fill="none" stroke="#5a8fcc" stroke-width="0.8"/>
<circle cx="616.67" cy="414.75" r="2" fill="none" stroke="#5a8fcc" stroke-width="0.8"/>
<circle cx="618.13" cy="417.05" r="2" fill="none" stroke="#5a8fcc" stroke-width="0.8"/>
<circle cx="619.6" cy="416.89" r="2" fill="none" stroke="#5a8fcc" stroke-width="0.8"/>
<circle cx="621.06" cy="414.65" r="2" fill="none" stroke="#5a8fcc" stroke-width="0.8"/>
<circle cx="622.53" cy="416.54" r="2" fill="none" stroke="#5a8fcc" stroke-width="0.8"/>
<circle cx="623.99" cy="418.32" r="2" fill="none" stroke="#5a8fcc" stroke-width="0.8"/>
<circle cx="625.46" cy="416.57" r="2" fill="none" stroke="#5a8fcc" stroke-width="0.8"/>
<circle cx="626.92" cy="417.6" r="2" fill="none" stroke="#5a8fcc" stroke-width="0.8"/>
<circle cx="628.39" cy="423.85" r="2" fill="none" stroke="#5a8fcc" stroke-width="0.8"/>
<circle cx="629.85" cy="426.66" r="2" fill="none" stroke="#5a8fcc" stroke-width="0.8"/>
<circle cx="631.32" cy="421.04" r="2" fill="none" stroke="#5a8fcc" stroke-width="0.8"/>
<circle cx="632.78" cy="422.62" r="2" fill="none" stroke="#5a8fcc" stroke-width="0.8"/>
<circle cx="634.25" cy="421.48" r="2" fill="none" stroke="#5a8fcc" stroke-width="0.8"/>
<circle cx="635.71" cy="418.75" r="2" fill="none" stroke="#5a8fcc" stroke-width="0.8"/>
<circle cx="637.18" cy="420.05" r="2" fill="none" stroke="#5a8fcc" stroke-width="0.8"/>
<circle cx="638.64" cy="420.48" r="2" fill="none" stroke="#5a8fcc" stroke-width="0.8"/>
<circle cx="640.11" cy="417.78" r="2" fill="none" stroke="#5a8fcc" stroke-width="0.8"/>
<circle cx="641.57" cy="418.77" r="2" fill="none" stroke="#5a8fcc" stroke-width="0.8"/>
<circle cx="643.04" cy="421.4" r="2" fill="none" stroke="#5a8fcc" stroke-width="0.8"/>
<circle cx="644.5" cy="419.81" r="2" fill="none" stroke="#5a8fcc" stroke-width="0.8"/>
<circle cx="645.97" cy="419.08" r="2" fill="none" stroke="#5a8fcc" stroke-width="0.8"/>
<circle cx="647.43" cy="421.27" r="2" fill="none" stroke="#5a8fcc" stroke-width="0.8"/>
<circle cx="648.9" cy="419.89" r="2" fill="none" stroke="#5a8fcc" stroke-width="0.8"/>
<circle cx="650.36" cy="417.38" r="2" fill="none" stroke="#5a8fcc" stroke-width="0.8"/>
<circle cx="651.83" cy="418.86" r="2" fill="none" stroke="#5a8fcc" stroke-width="0.8"/>
<circle cx="653.29" cy="418.64" r="2" fill="none" stroke="#5a8fcc" stroke-width="0.8"/>
<circle cx="654.76" cy="415.25" r="2" fill="none" stroke="#5a8fcc" stroke-width="0.8"/>
<circle cx="656.23" cy="415.35" r="2" fill="none" stroke="#5a8fcc" stroke-width="0.8"/>
<circle cx="657.69" cy="416.12" r="2" fill="none" stroke="#5a8fcc" stroke-width="0.8"/>
<circle cx="659.16" cy="412.64" r="2" fill="none" stroke="#5a8fcc" stroke-width="0.8"/>
<circle cx="660.62" cy="410.51" r="2" fill="none" stroke="#5a8fcc" stroke-width="0.8"/>
<circle cx="662.09" cy="410.85" r="2" fill="none" stroke="#5a8fcc" stroke-width="0.8"/>
<circle cx="663.55" cy="408.07" r="2" fill="none" stroke="#5a8fcc" stroke-width="0.8"/>
<circle cx="665.02" cy="405.54" r="2" fill="none" stroke="#5a8fcc" stroke-width="0.8"/>
<circle cx="666.48" cy="406.92" r="2" fill="none" stroke="#5a8fcc" stroke-width="0.8"/>
<circle cx="667.95" cy="405.55" r="2" fill="none" stroke="#5a8fcc" stroke-width="0.8"/>
<circle cx="669.41" cy="401.25" r="2" fill="none" stroke="#5a8fcc" stroke-width="0.8"/>
<circle cx="670.88" cy="400.72" r="2" fill="none" stroke="#5a8fcc" stroke-width="0.8"/>
<circle cx="672.34" cy="400.26" r="2" fill="none" stroke="#5a8fcc" stroke-width="0.8"/>
<circle cx="673.81" cy="396.01" r="2" fill="none" stroke="#5a8fcc" stroke-width="0.8"/>
<circle cx="675.27" cy="394.49" r="2" fill="none" stroke="#5a8fcc" stroke-width="0.8"/>
<circle cx="676.74" cy="395.55" r="2" fill="none" stroke="#5a8fcc" stroke-width="0.8"/>
<circle cx="678.2" cy="392.72" r="2" fill="none" stroke="#5a8fcc" stroke-width="0.8"/>
<circle cx="679.67" cy="390.06" r="2" fill="none" stroke="#5a8fcc" stroke-width="0.8"/>
<circle cx="552.2" cy="408.36" r="2" fill="none" stroke="#b0305a" stroke-width="0.8"/>
<circle cx="553.57" cy="406.28" r="2" fill="none" stroke="#b0305a" stroke-width="0.8"/>
<circle cx="554.95" cy="404.93" r="2" fill="none" stroke="#b0305a" stroke-width="0.8"/>
<circle cx="556.32" cy="404.54" r="2" fill="none" stroke="#b0305a" stroke-width="0.8"/>
<circle cx="557.69" cy="404.46" r="2" fill="none" stroke="#b0305a" stroke-width="0.8"/>
<circle cx="559.07" cy="404.34" r="2" fill="none" stroke="#b0305a" stroke-width="0.8"/>
<circle cx="560.44" cy="403.99" r="2" fill="none" stroke="#b0305a" stroke-width="0.8"/>
<circle cx="561.82" cy="403.52" r="2" fill="none" stroke="#b0305a" stroke-width="0.8"/>
<circle cx="563.19" cy="402.53" r="2" fill="none" stroke="#b0305a" stroke-width="0.8"/>
<circle cx="564.56" cy="398.91" r="2" fill="none" stroke="#b0305a" stroke-width="0.8"/>
<circle cx="565.94" cy="396.32" r="2" fill="none" stroke="#b0305a" stroke-width="0.8"/>
<circle cx="567.31" cy="394.34" r="2" fill="none" stroke="#b0305a" stroke-width="0.8"/>
<circle cx="568.68" cy="386.06" r="2" fill="none" stroke="#b0305a" stroke-width="0.8"/>
<circle cx="570.06" cy="382.77" r="2" fill="none" stroke="#b0305a" stroke-width="0.8"/>
<circle cx="571.43" cy="380.23" r="2" fill="none" stroke="#b0305a" stroke-width="0.8"/>
<circle cx="572.8" cy="377.88" r="2" fill="none" stroke="#b0305a" stroke-width="0.8"/>
<circle cx="574.18" cy="375.64" r="2" fill="none" stroke="#b0305a" stroke-width="0.8"/>
<circle cx="575.55" cy="373.41" r="2" fill="none" stroke="#b0305a" stroke-width="0.8"/>
<circle cx="576.92" cy="372.63" r="2" fill="none" stroke="#b0305a" stroke-width="0.8"/>
<circle cx="578.3" cy="372.37" r="2" fill="none" stroke="#b0305a" stroke-width="0.8"/>
<circle cx="579.67" cy="372.18" r="2" fill="none" stroke="#b0305a" stroke-width="0.8"/>
<circle cx="581.05" cy="371.87" r="2" fill="none" stroke="#b0305a" stroke-width="0.8"/>
<circle cx="582.42" cy="371.42" r="2" fill="none" stroke="#b0305a" stroke-width="0.8"/>
<circle cx="583.79" cy="370.97" r="2" fill="none" stroke="#b0305a" stroke-width="0.8"/>
<circle cx="585.17" cy="370.63" r="2" fill="none" stroke="#b0305a" stroke-width="0.8"/>
<circle cx="586.54" cy="370.49" r="2" fill="none" stroke="#b0305a" stroke-width="0.8"/>
<circle cx="587.91" cy="370.45" r="2" fill="none" stroke="#b0305a" stroke-width="0.8"/>
<circle cx="589.29" cy="370.4" r="2" fill="none" stroke="#b0305a" stroke-width="0.8"/>
<circle cx="590.66" cy="370.19" r="2" fill="none" stroke="#b0305a" stroke-width="0.8"/>
<circle cx="592.03" cy="369.75" r="2" fill="none" stroke="#b0305a" stroke-width="0.8"/>
<circle cx="593.41" cy="369.26" r="2" fill="none" stroke="#b0305a" stroke-width="0.8"/>
<circle cx="594.78" cy="368.92" r="2" fill="none" stroke="#b0305a" stroke-width="0.8"/>
<circle cx="596.15" cy="369.72" r="2" fill="none" stroke="#b0305a" stroke-width="0.8"/>
<circle cx="597.53" cy="371.61" r="2" fill="none" stroke="#b0305a" stroke-width="0.8"/>
<circle cx="598.9" cy="372.24" r="2" fill="none" stroke="#b0305a" stroke-width="0.8"/>
<circle cx="600.28" cy="372.81" r="2" fill="none" stroke="#b0305a" stroke-width="0.8"/>
<circle cx="601.65" cy="373.54" r="2" fill="none" stroke="#b0305a" stroke-width="0.8"/>
<circle cx="603.02" cy="374.35" r="2" fill="none" stroke="#b0305a" stroke-width="0.8"/>
<circle cx="604.4" cy="375.09" r="2" fill="none" stroke="#b0305a" stroke-width="0.8"/>
<circle cx="605.77" cy="375.77" r="2" fill="none" stroke="#b0305a" stroke-width="0.8"/>
<circle cx="607.14" cy="376.33" r="2" fill="none" stroke="#b0305a" stroke-width="0.8"/>
<circle cx="608.52" cy="376.45" r="2" fill="none" stroke="#b0305a" stroke-width="0.8"/>
<circle cx="609.89" cy="376.18" r="2" fill="none" stroke="#b0305a" stroke-width="0.8"/>
<circle cx="611.26" cy="375.44" r="2" fill="none" stroke="#b0305a" stroke-width="0.8"/>
<circle cx="612.64" cy="374.16" r="2" fill="none" stroke="#b0305a" stroke-width="0.8"/>
<circle cx="614.01" cy="372.45" r="2" fill="none" stroke="#b0305a" stroke-width="0.8"/>
<circle cx="615.38" cy="370.67" r="2" fill="none" stroke="#b0305a" stroke-width="0.8"/>
<circle cx="616.76" cy="369.15" r="2" fill="none" stroke="#b0305a" stroke-width="0.8"/>
<circle cx="618.13" cy="368.01" r="2" fill="none" stroke="#b0305a" stroke-width="0.8"/>
<circle cx="619.51" cy="366.93" r="2" fill="none" stroke="#b0305a" stroke-width="0.8"/>
<circle cx="620.88" cy="365.46" r="2" fill="none" stroke="#b0305a" stroke-width="0.8"/>
<circle cx="622.25" cy="363.72" r="2" fill="none" stroke="#b0305a" stroke-width="0.8"/>
<circle cx="623.63" cy="362.4" r="2" fill="none" stroke="#b0305a" stroke-width="0.8"/>
<circle cx="625" cy="361.34" r="2" fill="none" stroke="#b0305a" stroke-width="0.8"/>
<circle cx="626.37" cy="360.36" r="2" fill="none" stroke="#b0305a" stroke-width="0.8"/>
<circle cx="627.75" cy="359.44" r="2" fill="none" stroke="#b0305a" stroke-width="0.8"/>
<circle cx="629.12" cy="358.59" r="2" fill="none" stroke="#b0305a" stroke-width="0.8"/>
<circle cx="630.49" cy="357.83" r="2" fill="none" stroke="#b0305a" stroke-width="0.8"/>
<circle cx="631.87" cy="357.16" r="2" fill="none" stroke="#b0305a" stroke-width="0.8"/>
<circle cx="633.24" cy="356.58" r="2" fill="none" stroke="#b0305a" stroke-width="0.8"/>
<circle cx="634.61" cy="356.07" r="2" fill="none" stroke="#b0305a" stroke-width="0.8"/>
<circle cx="635.99" cy="355.65" r="2" fill="none" stroke="#b0305a" stroke-width="0.8"/>
<circle cx="637.36" cy="355.34" r="2" fill="none" stroke="#b0305a" stroke-width="0.8"/>
<circle cx="638.74" cy="355.15" r="2" fill="none" stroke="#b0305a" stroke-width="0.8"/>
<circle cx="640.11" cy="355.14" r="2" fill="none" stroke="#b0305a" stroke-width="0.8"/>
<circle cx="641.48" cy="355.28" r="2" fill="none" stroke="#b0305a" stroke-width="0.8"/>
<circle cx="642.86" cy="355.53" r="2" fill="none" stroke="#b0305a" stroke-width="0.8"/>
<circle cx="644.23" cy="355.8" r="2" fill="none" stroke="#b0305a" stroke-width="0.8"/>
<circle cx="645.6" cy="356.06" r="2" fill="none" stroke="#b0305a" stroke-width="0.8"/>
<circle cx="646.98" cy="356.37" r="2" fill="none" stroke="#b0305a" stroke-width="0.8"/>
<circle cx="648.35" cy="356.71" r="2" fill="none" stroke="#b0305a" stroke-width="0.8"/>
<circle cx="649.72" cy="357.06" r="2" fill="none" stroke="#b0305a" stroke-width="0.8"/>
<circle cx="651.1" cy="357.39" r="2" fill="none" stroke="#b0305a" stroke-width="0.8"/>
<circle cx="652.47" cy="357.69" r="2" fill="none" stroke="#b0305a" stroke-width="0.8"/>
<circle cx="653.84" cy="358.01" r="2" fill="none" stroke="#b0305a" stroke-width="0.8"/>
<circle cx="655.22" cy="358.33" r="2" fill="none" stroke="#b0305a" stroke-width="0.8"/>
<circle cx="656.59" cy="358.63" r="2" fill="none" stroke="#b0305a" stroke-width="0.8"/>
<circle cx="657.97" cy="358.86" r="2" fill="none" stroke="#b0305a" stroke-width="0.8"/>
<circle cx="659.34" cy="358.97" r="2" fill="none" stroke="#b0305a" stroke-width="0.8"/>
<circle cx="660.71" cy="358.83" r="2" fill="none" stroke="#b0305a" stroke-width="0.8"/>
<circle cx="662.09" cy="358.4" r="2" fill="none" stroke="#b0305a" stroke-width="0.8"/>
<circle cx="663.46" cy="357.79" r="2" fill="none" stroke="#b0305a" stroke-width="0.8"/>
<circle cx="664.83" cy="357.17" r="2" fill="none" stroke="#b0305a" stroke-width="0.8"/>
<circle cx="666.21" cy="356.44" r="2" fill="none" stroke="#b0305a" stroke-width="0.8"/>
<circle cx="667.58" cy="355.67" r="2" fill="none" stroke="#b0305a" stroke-width="0.8"/>
<circle cx="668.95" cy="354.96" r="2" fill="none" stroke="#b0305a" stroke-width="0.8"/>
<circle cx="670.33" cy="354.22" r="2" fill="none" stroke="#b0305a" stroke-width="0.8"/>
<circle cx="671.7" cy="353.55" r="2" fill="none" stroke="#b0305a" stroke-width="0.8"/>
<circle cx="673.07" cy="353.14" r="2" fill="none" stroke="#b0305a" stroke-width="0.8"/>
<circle cx="674.45" cy="353.58" r="2" fill="none" stroke="#b0305a" stroke-width="0.8"/>
<circle cx="675.82" cy="354.36" r="2" fill="none" stroke="#b0305a" stroke-width="0.8"/>
<circle cx="677.2" cy="353.56" r="2" fill="none" stroke="#b0305a" stroke-width="0.8"/>
<circle cx="678.57" cy="350.18" r="2" fill="none" stroke="#b0305a" stroke-width="0.8"/>
<circle cx="679.94" cy="345.75" r="2" fill="none" stroke="#b0305a" stroke-width="0.8"/>
<circle cx="562.5" cy="341" r="1.9" fill="none" stroke="#b0305a" stroke-width="1"/>
<circle cx="562.5" cy="349" r="1.9" fill="none" stroke="#5a8fcc" stroke-width="1"/>
<text x="570.2" y="343.6" font-size="6.6" fill="#222">Meas. (Metal surface)</text>
<text x="570.2" y="351.4" font-size="6.6" fill="#222">Meas. (Absorber)</text>
<line x1="552.2" y1="335.3" x2="680.4" y2="335.3" stroke="#666" stroke-width="1.4"/>
<line x1="680.4" y1="335.3" x2="680.4" y2="438.2" stroke="#6a6a6a" stroke-width="1.1"/>
<line x1="552.2" y1="335.3" x2="552.2" y2="438.2" stroke="#555" stroke-width="1.1"/>
<line x1="552.2" y1="438.2" x2="680.4" y2="438.2" stroke="#555" stroke-width="1.1"/>
<line x1="550.4" y1="335.3" x2="552.2" y2="335.3" stroke="#444" stroke-width="0.9"/>
<text x="549.4" y="338.4" font-size="8.6" text-anchor="end" fill="#222">20</text>
<line x1="550.4" y1="352.45" x2="552.2" y2="352.45" stroke="#444" stroke-width="0.9"/>
<text x="549.4" y="355.55" font-size="8.6" text-anchor="end" fill="#222">15</text>
<line x1="550.4" y1="369.6" x2="552.2" y2="369.6" stroke="#444" stroke-width="0.9"/>
<text x="549.4" y="372.7" font-size="8.6" text-anchor="end" fill="#222">10</text>
<line x1="550.4" y1="386.75" x2="552.2" y2="386.75" stroke="#444" stroke-width="0.9"/>
<text x="549.4" y="389.85" font-size="8.6" text-anchor="end" fill="#222">5</text>
<line x1="550.4" y1="403.9" x2="552.2" y2="403.9" stroke="#444" stroke-width="0.9"/>
<text x="549.4" y="407" font-size="8.6" text-anchor="end" fill="#222">0</text>
<line x1="550.4" y1="421.05" x2="552.2" y2="421.05" stroke="#444" stroke-width="0.9"/>
<text x="549.4" y="424.15" font-size="8.6" text-anchor="end" fill="#222">-5</text>
<line x1="550.4" y1="438.2" x2="552.2" y2="438.2" stroke="#444" stroke-width="0.9"/>
<text x="549.4" y="441.3" font-size="8.6" text-anchor="end" fill="#222">-10</text>
<line x1="551.2" y1="343.88" x2="552.2" y2="343.88" stroke="#444" stroke-width="0.8"/>
<line x1="551.2" y1="361.02" x2="552.2" y2="361.02" stroke="#444" stroke-width="0.8"/>
<line x1="551.2" y1="378.18" x2="552.2" y2="378.18" stroke="#444" stroke-width="0.8"/>
<line x1="551.2" y1="395.32" x2="552.2" y2="395.32" stroke="#444" stroke-width="0.8"/>
<line x1="551.2" y1="412.48" x2="552.2" y2="412.48" stroke="#444" stroke-width="0.8"/>
<line x1="551.2" y1="429.62" x2="552.2" y2="429.62" stroke="#444" stroke-width="0.8"/>
<line x1="552.2" y1="438.2" x2="552.2" y2="439.7" stroke="#444" stroke-width="0.9"/>
<text x="552.2" y="448.4" font-size="8.4" text-anchor="middle" fill="#222">4</text>
<line x1="570.51" y1="438.2" x2="570.51" y2="439.7" stroke="#444" stroke-width="0.9"/>
<text x="570.51" y="448.4" font-size="8.4" text-anchor="middle" fill="#222">6</text>
<line x1="588.83" y1="438.2" x2="588.83" y2="439.7" stroke="#444" stroke-width="0.9"/>
<text x="588.83" y="448.4" font-size="8.4" text-anchor="middle" fill="#222">8</text>
<line x1="607.14" y1="438.2" x2="607.14" y2="439.7" stroke="#444" stroke-width="0.9"/>
<text x="607.14" y="448.4" font-size="8.4" text-anchor="middle" fill="#222">10</text>
<line x1="625.46" y1="438.2" x2="625.46" y2="439.7" stroke="#444" stroke-width="0.9"/>
<text x="625.46" y="448.4" font-size="8.4" text-anchor="middle" fill="#222">12</text>
<line x1="643.77" y1="438.2" x2="643.77" y2="439.7" stroke="#444" stroke-width="0.9"/>
<text x="643.77" y="448.4" font-size="8.4" text-anchor="middle" fill="#222">14</text>
<line x1="662.09" y1="438.2" x2="662.09" y2="439.7" stroke="#444" stroke-width="0.9"/>
<text x="662.09" y="448.4" font-size="8.4" text-anchor="middle" fill="#222">16</text>
<line x1="680.4" y1="438.2" x2="680.4" y2="439.7" stroke="#444" stroke-width="0.9"/>
<text x="680.4" y="448.4" font-size="8.4" text-anchor="middle" fill="#222">18</text>
<line x1="561.36" y1="438.2" x2="561.36" y2="439.2" stroke="#444" stroke-width="0.8"/>
<line x1="579.67" y1="438.2" x2="579.67" y2="439.2" stroke="#444" stroke-width="0.8"/>
<line x1="597.99" y1="438.2" x2="597.99" y2="439.2" stroke="#444" stroke-width="0.8"/>
<line x1="616.3" y1="438.2" x2="616.3" y2="439.2" stroke="#444" stroke-width="0.8"/>
<line x1="634.61" y1="438.2" x2="634.61" y2="439.2" stroke="#444" stroke-width="0.8"/>
<line x1="652.93" y1="438.2" x2="652.93" y2="439.2" stroke="#444" stroke-width="0.8"/>
<line x1="671.24" y1="438.2" x2="671.24" y2="439.2" stroke="#444" stroke-width="0.8"/>
<text x="616.8" y="463" font-size="11.4" text-anchor="middle" fill="#111">Frequency  (GHz)</text>
<g transform="translate(533.7,386.3) rotate(-90)"><text x="0" y="0" font-size="11.8" text-anchor="middle" fill="#111">RCS  (dBsm)</text></g>
</svg>
</body></html>
